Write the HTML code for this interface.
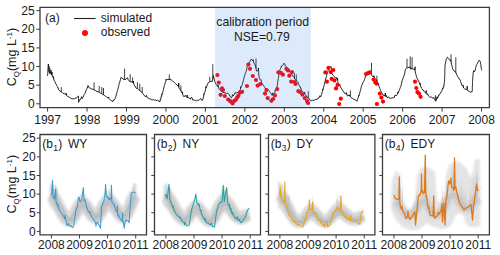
<!DOCTYPE html>
<html><head><meta charset="utf-8"><style>
html,body{margin:0;padding:0;background:#fff;width:500px;height:255px;overflow:hidden}
svg{display:block}
</style></head><body>
<svg width="500" height="255" viewBox="0 0 500 255" font-family="Liberation Sans, sans-serif" fill="#1a1a1a">
<defs><filter id="bl" filterUnits="userSpaceOnUse" x="0" y="0" width="500" height="255"><feGaussianBlur stdDeviation="1.2"/></filter></defs>

<line x1="49.20" x2="49.20" y1="66.0" y2="72.0" stroke="#000" stroke-width="0.75"/>
<line x1="50.00" x2="50.00" y1="68.0" y2="73.5" stroke="#000" stroke-width="0.75"/>
<line x1="61.30" x2="61.30" y1="87.2" y2="91.8" stroke="#000" stroke-width="0.75"/>
<line x1="94.10" x2="94.10" y1="82.4" y2="90.0" stroke="#000" stroke-width="0.75"/>
<line x1="99.20" x2="99.20" y1="86.0" y2="92.2" stroke="#000" stroke-width="0.75"/>
<line x1="101.80" x2="101.80" y1="87.0" y2="93.8" stroke="#000" stroke-width="0.75"/>
<line x1="103.50" x2="103.50" y1="88.0" y2="94.8" stroke="#000" stroke-width="0.75"/>
<line x1="124.60" x2="124.60" y1="68.6" y2="79.7" stroke="#000" stroke-width="0.75"/>
<line x1="130.20" x2="130.20" y1="74.2" y2="81.7" stroke="#000" stroke-width="0.75"/>
<line x1="132.60" x2="132.60" y1="77.4" y2="82.1" stroke="#000" stroke-width="0.75"/>
<line x1="137.40" x2="137.40" y1="82.2" y2="88.8" stroke="#000" stroke-width="0.75"/>
<line x1="139.80" x2="139.80" y1="83.8" y2="90.8" stroke="#000" stroke-width="0.75"/>
<line x1="142.20" x2="142.20" y1="87.0" y2="92.8" stroke="#000" stroke-width="0.75"/>
<line x1="169.30" x2="169.30" y1="74.4" y2="79.7" stroke="#000" stroke-width="0.75"/>
<line x1="180.90" x2="180.90" y1="85.4" y2="90.8" stroke="#000" stroke-width="0.75"/>
<line x1="209.80" x2="209.80" y1="76.8" y2="81.9" stroke="#000" stroke-width="0.75"/>
<line x1="212.80" x2="212.80" y1="64.2" y2="78.6" stroke="#000" stroke-width="0.75"/>
<line x1="256.00" x2="256.00" y1="58.4" y2="68.5" stroke="#000" stroke-width="0.75"/>
<line x1="294.40" x2="294.40" y1="72.8" y2="78.0" stroke="#000" stroke-width="0.75"/>
<line x1="296.30" x2="296.30" y1="74.4" y2="80.5" stroke="#000" stroke-width="0.75"/>
<line x1="308.30" x2="308.30" y1="91.2" y2="97.8" stroke="#000" stroke-width="0.75"/>
<line x1="350.40" x2="350.40" y1="90.4" y2="96.8" stroke="#000" stroke-width="0.75"/>
<line x1="371.50" x2="371.50" y1="62.8" y2="74.3" stroke="#000" stroke-width="0.75"/>
<line x1="376.90" x2="376.90" y1="75.6" y2="81.0" stroke="#000" stroke-width="0.75"/>
<line x1="407.00" x2="407.00" y1="58.8" y2="68.0" stroke="#000" stroke-width="0.75"/>
<line x1="410.20" x2="410.20" y1="56.4" y2="68.0" stroke="#000" stroke-width="0.75"/>
<line x1="412.10" x2="412.10" y1="57.2" y2="68.5" stroke="#000" stroke-width="0.75"/>
<line x1="435.40" x2="435.40" y1="95.2" y2="100.6" stroke="#000" stroke-width="0.75"/>
<line x1="451.00" x2="451.00" y1="54.2" y2="61.5" stroke="#000" stroke-width="0.75"/>
<line x1="455.80" x2="455.80" y1="57.2" y2="72.5" stroke="#000" stroke-width="0.75"/>
<polyline points="47.6,76.0 47.6,75.2 47.7,74.4 47.7,73.6 47.8,72.8 47.8,72.0 47.8,71.2 47.9,70.4 47.9,69.6 48.0,68.8 48.0,68.0 48.1,67.2 48.2,66.4 48.2,65.6 48.3,64.8 48.4,64.0 48.4,64.9 48.5,65.8 48.5,66.6 48.6,67.5 48.6,68.4 48.7,69.2 48.8,70.1 48.8,71.0 49.2,72.0 49.6,73.0 50.5,74.0 50.6,73.2 50.7,72.4 50.8,71.6 50.9,70.8 51.0,70.0 51.1,70.8 51.2,71.7 51.2,72.5 51.3,73.3 51.4,74.2 51.5,75.0 51.7,74.0 51.8,73.0 52.0,72.0 52.1,72.8 52.1,73.6 52.2,74.4 52.2,75.2 52.3,76.0 52.6,76.9 53.0,77.3 53.3,76.4 53.7,79.0 54.0,80.0 54.4,80.8 54.8,81.6 55.2,82.2 55.6,83.5 56.0,84.2 56.4,84.5 56.8,85.6 57.2,86.5 57.6,86.9 58.0,88.0 58.4,89.1 58.8,89.9 59.2,90.4 60.1,91.2 61.0,91.6 61.6,92.0 62.4,92.8 63.1,93.5 63.8,93.3 64.5,94.0 65.3,93.4 66.2,95.0 66.4,93.5 66.5,94.5 66.6,95.5 67.2,96.0 68.0,96.5 68.8,96.9 69.6,97.5 70.4,98.1 71.2,98.3 72.0,98.7 72.8,98.9 73.6,98.7 74.4,98.8 75.2,98.1 76.0,98.1 76.8,97.7 77.6,96.7 78.4,96.0 78.4,96.8 78.5,97.6 78.5,98.4 78.5,99.2 78.5,100.0 78.5,100.8 78.6,101.6 78.6,102.4 78.9,101.4 79.3,100.9 79.7,99.7 80.0,99.2 80.8,99.3 81.6,96.7 82.4,98.4 82.8,97.4 83.2,97.0 83.6,95.7 84.0,94.9 84.4,94.3 84.8,93.6 85.1,93.1 85.5,92.3 85.8,90.9 86.2,90.1 86.5,89.5 86.9,88.6 87.2,88.0 88.0,85.6 88.8,87.2 89.6,88.1 90.4,88.2 91.2,88.8 92.0,89.0 92.8,89.3 93.6,89.5 94.5,90.4 95.2,90.4 96.1,91.0 97.0,91.5 98.0,91.8 99.0,92.0 99.5,92.5 100.0,92.8 100.8,93.3 101.5,93.5 102.1,94.0 103.2,94.5 103.8,95.0 104.0,95.2 104.8,95.7 105.6,96.4 106.4,96.7 107.2,97.6 107.8,98.1 108.5,96.9 109.1,98.7 109.8,99.5 110.4,100.0 111.2,100.4 112.0,101.2 112.8,101.6 113.4,99.9 114.0,100.3 114.6,99.2 115.2,98.4 115.4,97.5 115.7,96.7 115.9,96.1 116.2,95.1 116.4,94.1 116.6,93.8 116.9,92.6 117.1,91.8 117.4,91.2 117.6,90.4 117.8,89.6 118.0,88.7 118.2,87.9 118.4,87.1 118.6,86.3 118.8,85.4 119.0,84.6 119.2,83.5 119.5,82.9 119.7,82.2 119.9,81.2 120.2,80.7 120.4,79.8 120.6,78.7 120.9,78.0 121.1,77.4 121.7,78.2 122.4,78.3 123.0,79.0 124.4,79.5 125.0,79.8 125.7,79.4 126.3,78.6 127.0,78.2 127.5,77.7 128.0,79.4 128.6,80.2 129.1,80.9 129.6,81.6 130.6,81.8 131.8,81.9 132.9,82.4 133.3,81.0 133.8,84.2 134.2,84.6 134.6,85.7 135.0,86.0 135.4,87.2 135.8,87.8 137.2,88.5 137.7,89.0 138.3,89.5 139.0,89.9 139.6,90.5 140.0,91.0 140.7,91.2 141.3,91.9 142.0,92.5 142.5,93.2 143.1,93.6 143.7,94.8 144.4,95.6 145.0,96.1 145.6,96.8 146.4,95.4 147.2,97.5 148.0,98.0 148.8,98.4 149.6,99.0 150.4,98.9 151.2,99.6 152.0,99.7 152.8,100.0 153.6,99.6 154.4,100.1 155.2,100.0 156.0,100.4 156.8,100.6 157.6,100.3 158.4,100.8 159.2,101.5 160.0,101.6 160.2,99.6 160.5,100.0 160.7,99.2 161.0,98.1 161.2,96.6 161.4,95.9 161.7,96.2 161.9,93.7 162.2,94.3 162.4,93.6 162.6,92.8 162.8,92.0 163.0,91.2 163.2,90.4 163.4,89.6 163.6,88.8 163.8,88.0 164.0,87.2 164.2,86.4 164.4,85.6 164.6,84.8 164.8,84.0 165.1,83.3 165.4,82.3 165.8,81.5 166.1,79.2 166.4,80.0 167.2,79.5 168.0,79.2 169.1,79.5 169.6,79.8 170.4,78.9 171.2,80.0 171.8,80.6 172.5,80.9 173.1,81.5 173.8,81.8 174.4,82.4 175.0,83.2 175.7,83.8 176.3,84.1 177.0,85.1 177.6,85.6 178.1,84.9 178.5,87.0 178.5,86.2 178.6,85.4 178.6,84.6 178.7,83.8 178.7,83.0 178.8,83.8 178.8,84.7 178.8,85.5 178.9,86.3 178.9,87.2 179.0,88.0 179.6,88.9 180.1,89.2 180.7,90.0 181.2,91.5 181.6,92.5 182.0,93.0 182.4,91.8 182.8,94.8 183.2,95.4 183.6,96.1 184.0,96.8 185.0,95.4 186.0,96.3 187.0,97.5 187.1,96.7 187.1,95.8 187.2,95.0 187.3,95.9 187.3,96.7 187.4,97.6 188.2,97.7 188.9,97.5 189.7,98.6 190.4,99.2 191.2,97.4 192.0,97.6 192.8,100.0 193.6,100.0 194.4,100.3 195.2,100.1 196.0,100.6 196.8,100.8 197.7,100.1 198.7,100.3 199.6,99.6 200.6,98.5 201.6,100.2 202.6,100.2 202.8,99.2 203.1,98.6 203.3,97.7 203.5,96.8 203.7,96.0 203.9,93.7 204.2,94.4 204.4,93.6 204.7,92.5 204.9,92.1 205.2,91.0 205.4,90.3 205.7,89.1 205.9,86.6 206.2,87.6 206.5,86.8 206.8,86.2 207.1,85.0 207.4,84.5 207.7,83.4 208.0,82.8 208.8,82.7 209.5,82.0 210.2,81.7 211.0,81.0 212.2,81.6 212.4,80.7 212.5,79.9 212.7,79.0 212.9,78.2 213.1,77.3 213.2,76.5 213.4,75.6 213.6,76.5 213.8,77.4 214.0,78.3 214.2,79.2 214.4,80.1 214.6,81.0 214.9,81.6 215.2,82.2 215.5,83.2 215.8,84.0 216.4,84.7 217.0,85.8 217.6,86.4 218.1,84.9 218.6,87.9 219.0,88.8 219.5,89.3 220.0,90.0 220.8,90.8 221.5,91.1 222.2,92.1 223.0,92.4 224.0,92.4 225.0,93.0 226.0,93.0 226.8,93.5 227.6,93.2 228.4,93.6 228.9,94.1 229.4,95.1 229.9,96.0 230.4,96.7 230.9,97.0 231.4,97.8 232.0,96.9 232.6,94.6 233.2,96.0 233.8,95.1 234.4,94.6 235.0,92.5 235.6,93.0 236.4,92.8 237.2,92.7 238.0,92.4 238.6,91.6 239.2,90.7 239.8,90.3 240.4,89.5 240.7,86.6 241.0,87.5 241.3,86.9 241.6,86.3 241.9,85.4 242.2,84.7 242.5,83.8 242.8,82.8 243.0,82.0 243.2,81.2 243.4,80.4 243.6,79.6 243.8,78.8 244.0,78.0 244.2,77.2 244.4,76.4 244.6,75.6 244.9,74.9 245.2,73.7 245.5,73.1 245.8,72.5 246.1,71.4 246.4,70.8 246.6,69.9 246.7,69.0 246.9,68.2 247.0,67.3 247.2,66.4 247.6,65.7 248.0,65.1 248.4,63.7 248.8,63.2 249.3,62.1 249.8,61.8 250.2,60.8 250.7,60.0 251.2,59.2 252.0,59.8 252.8,60.8 253.2,59.7 253.6,62.3 254.0,62.9 254.3,63.7 254.7,64.2 255.1,65.1 255.5,66.0 255.7,66.8 255.8,67.7 256.0,68.5 256.2,69.3 256.3,70.2 256.5,71.0 257.4,70.9 258.2,71.0 258.3,70.0 258.3,69.0 258.4,68.0 258.4,68.9 258.5,69.7 258.5,70.6 258.6,71.4 258.6,72.3 258.7,73.1 258.7,74.0 258.8,74.9 258.9,75.8 259.1,76.7 259.2,77.6 259.6,78.3 260.0,79.4 260.4,80.2 260.8,79.6 261.2,80.6 261.6,82.6 262.0,83.0 262.4,84.0 262.9,84.9 263.3,85.5 263.8,85.8 264.2,86.5 264.7,87.5 265.1,87.9 265.6,88.8 266.6,88.6 267.7,89.1 268.2,90.1 268.8,90.5 269.3,91.3 269.9,92.3 270.4,92.7 270.8,93.2 271.3,94.0 271.8,94.9 272.2,95.4 272.8,92.9 273.4,94.2 274.0,93.6 274.5,92.8 274.9,92.0 275.4,89.7 275.9,90.4 276.3,89.9 276.8,88.8 276.9,88.0 277.0,87.2 277.1,86.4 277.3,85.6 277.4,84.8 277.5,84.0 277.6,83.2 277.7,82.4 277.8,81.6 277.9,80.8 278.1,80.0 278.2,79.2 278.3,78.4 278.4,77.6 278.6,76.8 278.7,76.0 278.9,75.2 279.0,74.4 279.2,73.6 279.4,72.8 279.5,72.0 279.7,71.2 279.8,70.4 280.0,69.6 280.5,68.5 281.0,68.1 281.4,65.9 281.9,66.1 282.4,65.6 282.9,65.1 283.5,64.3 284.0,63.2 284.5,63.7 285.0,64.9 285.4,65.8 285.9,66.3 286.4,67.2 286.9,68.2 287.5,68.5 288.0,69.2 288.5,69.0 289.1,69.5 289.6,71.2 290.1,71.9 290.5,72.6 291.0,73.4 291.4,73.9 291.9,74.6 292.3,75.6 292.8,76.0 293.5,76.4 294.2,77.0 294.4,78.0 294.6,79.0 295.4,79.5 296.1,80.0 296.5,81.0 297.1,81.5 297.6,82.4 298.0,82.1 298.4,83.8 298.8,84.6 299.2,85.4 299.6,86.2 300.0,87.2 300.4,87.0 300.8,88.8 301.2,88.8 301.6,90.4 302.2,91.1 302.8,91.6 303.4,92.7 304.0,93.5 304.5,92.0 305.1,94.6 305.6,95.3 306.1,96.1 306.7,96.0 307.2,97.6 308.6,98.0 309.1,98.8 309.6,100.0 310.4,100.4 311.2,100.8 312.0,100.5 312.8,100.2 313.6,100.3 314.4,100.0 315.2,99.5 316.0,99.9 316.8,99.1 317.6,99.2 318.4,97.7 319.2,97.7 320.0,95.7 320.8,96.8 321.0,95.8 321.3,95.2 321.5,94.7 321.8,93.3 322.0,92.9 322.2,91.7 322.5,91.4 322.7,89.1 323.0,89.7 323.2,88.8 323.4,88.0 323.6,87.2 323.8,86.4 324.0,85.6 324.2,84.8 324.4,84.0 324.6,83.2 324.8,82.4 325.0,81.6 325.2,80.8 325.4,80.0 325.6,79.2 325.8,78.1 326.1,77.7 326.3,76.7 326.6,75.7 326.8,74.8 327.0,74.1 327.3,73.1 327.5,72.6 327.8,71.6 328.0,70.8 328.4,69.8 328.8,68.9 329.2,68.6 329.6,67.6 330.4,66.9 331.2,66.8 331.3,67.6 331.4,68.4 331.5,69.2 331.6,70.0 331.6,70.8 331.7,71.6 331.8,72.4 331.9,73.2 332.0,74.0 332.8,75.0 333.6,75.6 334.1,76.5 334.7,76.8 335.2,77.6 335.8,78.0 336.3,77.4 336.9,79.1 337.4,80.0 337.5,79.0 337.6,78.0 337.6,78.9 337.7,79.7 337.7,80.6 337.8,81.4 337.8,82.3 337.9,83.1 337.9,84.0 338.5,84.2 339.2,85.0 339.7,84.1 340.2,86.2 340.6,87.4 341.1,87.7 341.6,88.8 342.1,89.8 342.5,90.2 343.0,91.1 343.4,91.7 343.9,92.0 344.3,92.6 344.8,93.6 345.6,93.9 346.4,92.6 347.2,95.7 348.0,96.0 349.1,94.8 350.2,96.5 350.7,97.0 351.2,97.6 352.0,98.2 352.8,98.5 353.6,99.1 354.4,99.2 355.2,100.0 356.0,100.3 356.8,101.3 357.1,100.6 357.4,99.6 357.7,99.0 358.0,98.0 358.3,97.5 358.6,95.2 358.9,95.9 359.2,95.2 359.4,94.4 359.6,93.6 359.8,92.8 360.0,92.0 360.2,91.2 360.4,90.4 360.6,89.6 360.8,88.8 361.0,88.0 361.2,87.2 361.4,86.4 361.6,85.6 362.0,84.9 362.4,83.9 362.8,83.1 363.2,82.1 363.6,81.4 364.0,80.8 364.3,80.2 364.5,79.5 364.8,78.7 365.1,77.5 365.3,77.1 365.6,76.0 366.1,75.3 366.7,74.6 367.2,74.0 368.0,73.9 368.8,73.5 369.6,72.5 370.4,72.4 371.3,73.0 371.5,73.9 371.6,74.7 371.8,75.6 372.0,75.6 372.6,76.1 373.3,77.0 373.9,75.7 374.6,78.1 375.2,78.8 375.9,79.6 376.7,80.0 376.9,81.0 377.2,82.0 377.7,82.9 378.2,84.0 378.5,83.6 378.8,85.3 379.1,86.6 379.4,87.5 379.7,88.3 380.0,88.6 380.3,89.6 380.6,90.4 381.0,91.2 381.4,92.2 381.8,92.8 382.2,93.8 382.6,94.2 383.0,95.2 384.0,95.3 385.0,96.0 385.1,95.0 385.2,94.0 385.3,93.0 385.4,93.9 385.5,94.8 385.5,95.6 385.6,96.5 386.3,95.5 387.0,97.6 387.8,97.5 388.6,96.8 389.4,98.1 390.2,98.4 391.0,98.4 391.8,97.9 392.6,97.7 393.4,97.7 394.2,97.6 394.8,95.4 395.5,95.1 396.1,95.9 396.8,94.9 397.4,94.4 397.8,92.2 398.1,92.9 398.5,92.2 398.8,90.9 399.2,90.6 399.5,89.8 399.9,88.6 400.2,87.7 400.6,87.2 400.8,86.4 401.0,85.5 401.2,84.7 401.4,83.8 401.6,83.0 401.8,82.1 402.0,81.2 402.2,80.4 402.5,79.9 402.8,78.8 403.1,78.3 403.4,77.3 403.7,76.4 404.0,75.4 404.3,75.1 404.6,74.0 404.7,73.2 404.9,72.4 405.0,71.6 405.1,70.8 405.3,70.0 405.4,69.2 406.1,68.5 406.8,68.0 407.3,68.0 407.8,67.6 408.9,67.3 410.0,67.0 410.2,68.0 410.5,69.0 411.0,69.2 411.8,68.0 412.4,69.0 413.4,69.2 414.1,69.6 414.8,70.0 414.9,69.2 414.9,68.4 414.9,67.6 415.0,66.8 415.1,67.7 415.1,68.5 415.1,69.4 415.2,70.3 415.2,71.1 415.3,72.0 415.5,72.9 415.7,73.7 416.0,74.6 416.2,75.5 416.4,76.3 416.6,77.2 417.0,77.8 417.4,78.8 417.8,79.8 418.2,80.7 418.6,80.9 419.0,82.0 419.3,82.8 419.6,83.3 419.9,84.5 420.2,83.3 420.5,85.8 420.8,86.8 421.1,87.0 421.4,88.0 422.0,88.5 422.5,89.6 423.1,89.9 423.7,91.1 424.3,91.4 424.8,91.9 425.4,92.8 426.0,93.0 426.1,92.2 426.1,91.3 426.2,90.5 426.3,91.5 426.3,92.5 426.4,93.5 427.0,94.5 427.6,93.7 428.2,95.2 428.8,96.3 429.4,96.8 430.4,97.2 431.4,97.0 432.4,97.6 433.1,98.5 433.8,97.6 434.5,99.2 435.2,100.0 435.6,101.2 436.1,100.1 436.5,99.9 437.0,96.7 437.5,98.3 437.9,97.3 438.4,96.4 438.8,94.8 439.3,94.8 439.7,94.6 440.1,93.3 440.5,93.0 441.0,92.0 441.4,91.6 441.8,91.1 442.2,89.7 442.6,88.2 443.0,88.7 443.4,86.5 443.8,86.8 443.9,86.0 444.0,85.1 444.1,84.2 444.2,83.4 444.3,82.5 444.4,81.7 444.5,80.8 444.6,80.0 444.6,79.2 444.6,78.4 444.7,77.6 444.7,76.8 444.7,76.0 444.7,75.2 444.8,74.4 444.8,73.6 444.8,72.8 444.8,72.0 444.8,71.2 444.9,70.4 444.9,69.6 444.9,68.8 444.9,68.0 445.0,67.2 445.0,66.4 445.0,65.6 445.1,64.8 445.3,63.9 445.4,63.1 445.6,62.3 445.8,61.5 445.9,60.6 446.1,59.8 446.2,59.0 446.8,58.4 447.4,57.2 448.0,57.6 448.6,58.4 449.2,59.6 449.8,60.2 450.8,60.0 451.0,61.0 451.1,62.0 451.3,63.0 451.6,64.4 451.8,65.2 452.0,66.0 452.2,66.8 452.4,67.6 452.6,68.4 452.8,69.2 453.4,70.2 454.0,71.0 454.8,71.2 455.6,72.0 456.0,73.0 456.4,74.0 456.8,74.9 457.1,75.5 457.5,76.2 457.8,76.9 458.2,77.6 458.8,78.0 459.4,79.1 460.0,79.4 460.3,80.2 460.6,81.4 460.9,82.5 461.2,83.0 461.5,83.8 461.8,85.0 462.2,85.7 462.7,86.2 463.2,85.2 463.6,88.0 464.5,88.9 465.4,89.2 466.2,89.4 467.0,89.5 467.1,88.7 467.1,87.8 467.1,87.0 467.2,86.2 467.2,87.1 467.3,87.9 467.3,88.8 467.4,89.6 467.4,90.5 468.4,91.0 469.2,91.1 470.0,91.8 470.8,92.2 472.2,91.6 472.2,90.8 472.3,89.9 472.3,89.1 472.3,88.3 472.3,87.5 472.4,86.6 472.4,85.8 472.4,85.0 472.5,84.1 472.5,83.3 472.5,82.5 472.5,81.7 472.6,80.8 472.6,80.0 472.7,79.2 472.7,78.4 472.8,77.6 472.9,76.8 472.9,76.0 473.0,75.2 473.1,74.4 473.1,73.6 473.2,72.8 473.8,70.6 474.4,71.6 475.0,71.0 475.2,70.1 475.4,69.2 475.6,68.3 475.8,67.4 476.0,66.5 476.2,65.6 476.6,64.8 476.9,64.2 477.3,63.7 477.6,63.0 478.0,62.0 478.6,61.4 479.2,60.2 479.8,60.8 480.4,62.0 480.5,62.8 480.6,63.7 480.8,64.5 480.9,65.4 481.0,66.2 481.1,67.0 481.2,67.9 481.4,68.7 481.5,69.6 481.6,70.4" fill="none" stroke="#000" stroke-width="0.9" stroke-linejoin="round"/>
<circle cx="217.4" cy="75" r="2.1" fill="#ff0000"/>
<circle cx="218.8" cy="82.6" r="2.1" fill="#ff0000"/>
<circle cx="222" cy="88.4" r="2.1" fill="#ff0000"/>
<circle cx="223" cy="90" r="2.1" fill="#ff0000"/>
<circle cx="220.6" cy="94.8" r="2.1" fill="#ff0000"/>
<circle cx="224.8" cy="96" r="2.1" fill="#ff0000"/>
<circle cx="228.2" cy="99.5" r="2.1" fill="#ff0000"/>
<circle cx="229.8" cy="100.8" r="2.1" fill="#ff0000"/>
<circle cx="231.4" cy="101.8" r="2.1" fill="#ff0000"/>
<circle cx="232.6" cy="103.5" r="2.1" fill="#ff0000"/>
<circle cx="234.4" cy="100.8" r="2.1" fill="#ff0000"/>
<circle cx="235.8" cy="99.8" r="2.1" fill="#ff0000"/>
<circle cx="237.1" cy="97.6" r="2.1" fill="#ff0000"/>
<circle cx="238.4" cy="95.8" r="2.1" fill="#ff0000"/>
<circle cx="239.8" cy="92.6" r="2.1" fill="#ff0000"/>
<circle cx="242.1" cy="91.8" r="2.1" fill="#ff0000"/>
<circle cx="247" cy="86" r="2.1" fill="#ff0000"/>
<circle cx="248.4" cy="64.6" r="2.1" fill="#ff0000"/>
<circle cx="250" cy="68.8" r="2.1" fill="#ff0000"/>
<circle cx="252.8" cy="76" r="2.1" fill="#ff0000"/>
<circle cx="256" cy="80" r="2.1" fill="#ff0000"/>
<circle cx="257.6" cy="85.6" r="2.1" fill="#ff0000"/>
<circle cx="260.3" cy="84" r="2.1" fill="#ff0000"/>
<circle cx="266.4" cy="90.1" r="2.1" fill="#ff0000"/>
<circle cx="265" cy="93.6" r="2.1" fill="#ff0000"/>
<circle cx="267.7" cy="98.1" r="2.1" fill="#ff0000"/>
<circle cx="271.3" cy="100.8" r="2.1" fill="#ff0000"/>
<circle cx="273.1" cy="99" r="2.1" fill="#ff0000"/>
<circle cx="274.9" cy="95.4" r="2.1" fill="#ff0000"/>
<circle cx="277.2" cy="89.1" r="2.1" fill="#ff0000"/>
<circle cx="278.4" cy="72.3" r="2.1" fill="#ff0000"/>
<circle cx="280.8" cy="72.8" r="2.1" fill="#ff0000"/>
<circle cx="282.9" cy="74.7" r="2.1" fill="#ff0000"/>
<circle cx="286.4" cy="68.8" r="2.1" fill="#ff0000"/>
<circle cx="288" cy="70.4" r="2.1" fill="#ff0000"/>
<circle cx="292" cy="72" r="2.1" fill="#ff0000"/>
<circle cx="289.3" cy="75.7" r="2.1" fill="#ff0000"/>
<circle cx="291.2" cy="81.6" r="2.1" fill="#ff0000"/>
<circle cx="294.4" cy="82.1" r="2.1" fill="#ff0000"/>
<circle cx="295.5" cy="84" r="2.1" fill="#ff0000"/>
<circle cx="298.4" cy="91.2" r="2.1" fill="#ff0000"/>
<circle cx="300" cy="92" r="2.1" fill="#ff0000"/>
<circle cx="302.4" cy="94.6" r="2.1" fill="#ff0000"/>
<circle cx="304.8" cy="98" r="2.1" fill="#ff0000"/>
<circle cx="307" cy="101" r="2.1" fill="#ff0000"/>
<circle cx="308" cy="103" r="2.1" fill="#ff0000"/>
<circle cx="328.5" cy="67.9" r="2.1" fill="#ff0000"/>
<circle cx="325.3" cy="72.4" r="2.1" fill="#ff0000"/>
<circle cx="330.7" cy="72.1" r="2.1" fill="#ff0000"/>
<circle cx="333.3" cy="70" r="2.1" fill="#ff0000"/>
<circle cx="326.9" cy="81.7" r="2.1" fill="#ff0000"/>
<circle cx="331.7" cy="78.8" r="2.1" fill="#ff0000"/>
<circle cx="334.4" cy="80.4" r="2.1" fill="#ff0000"/>
<circle cx="337.6" cy="84.9" r="2.1" fill="#ff0000"/>
<circle cx="336" cy="88.4" r="2.1" fill="#ff0000"/>
<circle cx="340.8" cy="98.7" r="2.1" fill="#ff0000"/>
<circle cx="339.2" cy="104" r="2.1" fill="#ff0000"/>
<circle cx="366.1" cy="74" r="2.1" fill="#ff0000"/>
<circle cx="368" cy="73.2" r="2.1" fill="#ff0000"/>
<circle cx="369.9" cy="72.4" r="2.1" fill="#ff0000"/>
<circle cx="373.6" cy="79.6" r="2.1" fill="#ff0000"/>
<circle cx="375.4" cy="82.4" r="2.1" fill="#ff0000"/>
<circle cx="376.5" cy="83.6" r="2.1" fill="#ff0000"/>
<circle cx="379.8" cy="93.6" r="2.1" fill="#ff0000"/>
<circle cx="381.4" cy="97.6" r="2.1" fill="#ff0000"/>
<circle cx="383" cy="101.6" r="2.1" fill="#ff0000"/>
<circle cx="376.9" cy="104" r="2.1" fill="#ff0000"/>
<circle cx="415" cy="81.7" r="2.1" fill="#ff0000"/>
<circle cx="416.3" cy="88" r="2.1" fill="#ff0000"/>
<circle cx="417.4" cy="92" r="2.1" fill="#ff0000"/>
<circle cx="419" cy="93.6" r="2.1" fill="#ff0000"/>
<circle cx="420.6" cy="96.8" r="2.1" fill="#ff0000"/>
<rect x="214.9" y="7.9" width="95.9" height="99.1" fill="#4189ea" fill-opacity="0.18"/>
<polygon points="51.0,185.0 52.0,186.0 53.0,187.3 54.0,188.9 55.0,190.7 56.0,192.7 57.0,194.8 58.0,197.1 59.0,199.4 60.0,201.8 61.0,204.1 62.0,206.3 63.0,208.5 64.0,210.5 65.0,212.2 66.0,213.8 67.0,215.0 68.0,215.8 69.0,216.2 70.0,216.0 71.0,215.4 72.0,214.1 73.0,212.4 74.0,210.3 75.0,207.9 76.0,205.4 77.0,202.9 78.0,200.5 79.0,198.5 80.0,196.9 81.0,195.9 82.0,195.4 83.0,195.4 84.0,196.0 85.0,197.0 86.0,198.4 87.0,200.1 88.0,202.0 89.0,203.9 90.0,205.8 91.0,207.7 92.0,209.3 93.0,210.7 94.0,211.7 95.0,212.2 96.0,212.3 97.0,211.8 98.0,210.7 99.0,209.2 100.0,207.2 101.0,204.9 102.0,202.4 103.0,199.9 104.0,197.5 105.0,195.5 106.0,193.9 107.0,192.8 108.0,192.2 109.0,192.1 110.0,192.5 111.0,193.4 112.0,194.6 113.0,196.2 114.0,197.9 115.0,199.9 116.0,201.9 117.0,204.0 118.0,205.9 119.0,207.6 120.0,209.2 121.0,210.3 122.0,211.1 123.0,211.4 124.0,211.2 125.0,210.3 126.0,208.9 127.0,207.0 128.0,204.5 129.0,201.6 130.0,198.5 131.0,195.3 132.0,192.2 133.0,189.3 134.0,186.8 135.0,184.7 135.0,205.1 134.0,206.4 133.0,208.0 132.0,209.7 131.0,211.6 130.0,213.6 129.0,215.5 128.0,217.3 127.0,218.8 126.0,220.0 125.0,220.9 124.0,221.4 123.0,221.6 122.0,221.4 121.0,220.9 120.0,220.2 119.0,219.2 118.0,218.2 117.0,217.0 116.0,215.7 115.0,214.5 114.0,213.3 113.0,212.2 112.0,211.2 111.0,210.5 110.0,209.9 109.0,209.7 108.0,209.7 107.0,210.1 106.0,210.8 105.0,211.8 104.0,213.0 103.0,214.5 102.0,216.0 101.0,217.5 100.0,219.0 99.0,220.2 98.0,221.2 97.0,221.8 96.0,222.1 95.0,222.1 94.0,221.7 93.0,221.1 92.0,220.3 91.0,219.3 90.0,218.1 89.0,216.9 88.0,215.7 87.0,214.6 86.0,213.6 85.0,212.7 84.0,212.1 83.0,211.7 82.0,211.7 81.0,212.0 80.0,212.6 79.0,213.6 78.0,214.9 77.0,216.3 76.0,217.8 75.0,219.4 74.0,220.9 73.0,222.2 72.0,223.2 71.0,224.0 70.0,224.4 69.0,224.5 68.0,224.3 67.0,223.8 66.0,223.0 65.0,222.1 64.0,221.0 63.0,219.8 62.0,218.4 61.0,217.1 60.0,215.6 59.0,214.2 58.0,212.8 57.0,211.4 56.0,210.0 55.0,208.8 54.0,207.7 53.0,206.7 52.0,205.9 51.0,205.3" fill="#e2e2e2" stroke="#e2e2e2" stroke-width="3" stroke-linejoin="round" filter="url(#bl)"/>
<polyline points="51.0,195.5 52.0,196.3 53.0,197.4 54.0,198.6 55.0,200.0 56.0,201.6 57.0,203.4 58.0,205.2 59.0,207.1 60.0,208.9 61.0,210.8 62.0,212.6 63.0,214.3 64.0,215.9 65.0,217.3 66.0,218.5 67.0,219.5 68.0,220.1 69.0,220.4 70.0,220.3 71.0,219.8 72.0,218.8 73.0,217.4 74.0,215.8 75.0,213.8 76.0,211.8 77.0,209.8 78.0,207.9 79.0,206.3 80.0,205.0 81.0,204.2 82.0,203.8 83.0,203.8 84.0,204.3 85.0,205.1 86.0,206.2 87.0,207.6 88.0,209.1 89.0,210.6 90.0,212.2 91.0,213.6 92.0,215.0 93.0,216.1 94.0,216.8 95.0,217.3 96.0,217.3 97.0,216.9 98.0,216.1 99.0,214.8 100.0,213.2 101.0,211.4 102.0,209.4 103.0,207.4 104.0,205.5 105.0,203.9 106.0,202.6 107.0,201.7 108.0,201.3 109.0,201.2 110.0,201.5 111.0,202.2 112.0,203.2 113.0,204.4 114.0,205.9 115.0,207.4 116.0,209.1 117.0,210.7 118.0,212.2 119.0,213.6 120.0,214.8 121.0,215.8 122.0,216.4 123.0,216.6 124.0,216.4 125.0,215.8 126.0,214.7 127.0,213.1 128.0,211.1 129.0,208.8 130.0,206.3 131.0,203.7 132.0,201.2 133.0,199.0 134.0,196.9 135.0,195.3" fill="none" stroke="#dadada" stroke-width="13" stroke-linejoin="round" stroke-linecap="butt" filter="url(#bl)"/>
<polyline points="51.0,195.5 52.0,196.3 53.0,197.4 54.0,198.6 55.0,200.0 56.0,201.6 57.0,203.4 58.0,205.2 59.0,207.1 60.0,208.9 61.0,210.8 62.0,212.6 63.0,214.3 64.0,215.9 65.0,217.3 66.0,218.5 67.0,219.5 68.0,220.1 69.0,220.4 70.0,220.3 71.0,219.8 72.0,218.8 73.0,217.4 74.0,215.8 75.0,213.8 76.0,211.8 77.0,209.8 78.0,207.9 79.0,206.3 80.0,205.0 81.0,204.2 82.0,203.8 83.0,203.8 84.0,204.3 85.0,205.1 86.0,206.2 87.0,207.6 88.0,209.1 89.0,210.6 90.0,212.2 91.0,213.6 92.0,215.0 93.0,216.1 94.0,216.8 95.0,217.3 96.0,217.3 97.0,216.9 98.0,216.1 99.0,214.8 100.0,213.2 101.0,211.4 102.0,209.4 103.0,207.4 104.0,205.5 105.0,203.9 106.0,202.6 107.0,201.7 108.0,201.3 109.0,201.2 110.0,201.5 111.0,202.2 112.0,203.2 113.0,204.4 114.0,205.9 115.0,207.4 116.0,209.1 117.0,210.7 118.0,212.2 119.0,213.6 120.0,214.8 121.0,215.8 122.0,216.4 123.0,216.6 124.0,216.4 125.0,215.8 126.0,214.7 127.0,213.1 128.0,211.1 129.0,208.8 130.0,206.3 131.0,203.7 132.0,201.2 133.0,199.0 134.0,196.9 135.0,195.3" fill="none" stroke="#c9c9c9" stroke-width="6" stroke-linejoin="round" stroke-linecap="butt" filter="url(#bl)"/>
<polyline points="48.6,198.0 49.6,198.8 50.6,199.8 51.6,201.0 52.6,202.4 53.6,204.0 54.6,205.6 55.6,207.4 56.6,209.2 57.6,211.0 58.6,212.8 59.6,214.5 60.6,216.2 61.6,217.7 62.6,219.1 63.6,220.3 64.6,221.2 65.6,221.8 66.6,222.1 67.6,222.0 68.6,221.5 69.6,220.6 70.6,219.2 71.6,217.6 72.6,215.7 73.6,213.8 74.6,211.8 75.6,210.0 76.6,208.5 77.6,207.3 78.6,206.4 79.6,206.0 80.6,206.1 81.6,206.5 82.6,207.3 83.6,208.4 84.6,209.7 85.6,211.1 86.6,212.6 87.6,214.1 88.6,215.6 89.6,216.8 90.6,217.9 91.6,218.7 92.6,219.1 93.6,219.1 94.6,218.7 95.6,217.9 96.6,216.7 97.6,215.2 98.6,213.4 99.6,211.5 100.6,209.5 101.6,207.7 102.6,206.2 103.6,204.9 104.6,204.1 105.6,203.6 106.6,203.5 107.6,203.8 108.6,204.5 109.6,205.5 110.6,206.7 111.6,208.0 112.6,209.5 113.6,211.1 114.6,212.7 115.6,214.2 116.6,215.5 117.6,216.7 118.6,217.6 119.6,218.2 120.6,218.4 121.6,218.3 122.6,217.6 123.6,216.5 124.6,215.0 125.6,213.1 126.6,210.9 127.6,208.5 128.6,206.0 129.6,203.6 130.6,201.4 131.6,199.4 132.6,197.8" fill="none" stroke="#a8a8a8" stroke-opacity="0.13" stroke-width="0.8" stroke-linejoin="round"/>
<polyline points="52.8,192.7 53.8,193.6 54.8,194.7 55.8,196.1 56.8,197.6 57.8,199.4 58.8,201.3 59.8,203.2 60.8,205.3 61.8,207.3 62.8,209.3 63.8,211.2 64.8,213.1 65.8,214.8 66.8,216.4 67.8,217.7 68.8,218.8 69.8,219.5 70.8,219.8 71.8,219.7 72.8,219.1 73.8,218.0 74.8,216.5 75.8,214.7 76.8,212.6 77.8,210.4 78.8,208.2 79.8,206.2 80.8,204.4 81.8,203.1 82.8,202.1 83.8,201.7 84.8,201.8 85.8,202.2 86.8,203.1 87.8,204.3 88.8,205.8 89.8,207.4 90.8,209.1 91.8,210.8 92.8,212.4 93.8,213.8 94.8,215.0 95.8,215.9 96.8,216.4 97.8,216.4 98.8,216.0 99.8,215.1 100.8,213.7 101.8,212.0 102.8,210.0 103.8,207.8 104.8,205.6 105.8,203.6 106.8,201.8 107.8,200.5 108.8,199.5 109.8,199.0 110.8,198.9 111.8,199.2 112.8,200.0 113.8,201.1 114.8,202.4 115.8,204.0 116.8,205.6 117.8,207.4 118.8,209.2 119.8,210.9 120.8,212.4 121.8,213.7 122.8,214.7 123.8,215.4 124.8,215.6 125.8,215.4 126.8,214.7 127.8,213.5 128.8,211.8 129.8,209.6 130.8,207.1 131.8,204.4 132.8,201.6 133.8,199.0 134.8,196.5 135.8,194.3 136.8,192.4" fill="none" stroke="#a8a8a8" stroke-opacity="0.13" stroke-width="0.8" stroke-linejoin="round"/>
<polyline points="53.5,194.7 54.5,195.6 55.5,196.6 56.5,197.9 57.5,199.3 58.5,200.9 59.5,202.6 60.5,204.4 61.5,206.3 62.5,208.2 63.5,210.0 64.5,211.8 65.5,213.5 66.5,215.1 67.5,216.5 68.5,217.8 69.5,218.7 70.5,219.4 71.5,219.7 72.5,219.6 73.5,219.0 74.5,218.1 75.5,216.7 76.5,215.0 77.5,213.1 78.5,211.0 79.5,209.0 80.5,207.2 81.5,205.5 82.5,204.3 83.5,203.4 84.5,203.0 85.5,203.1 86.5,203.5 87.5,204.3 88.5,205.5 89.5,206.8 90.5,208.3 91.5,209.9 92.5,211.4 93.5,212.9 94.5,214.2 95.5,215.3 96.5,216.1 97.5,216.5 98.5,216.6 99.5,216.2 100.5,215.3 101.5,214.1 102.5,212.5 103.5,210.6 104.5,208.6 105.5,206.6 106.5,204.8 107.5,203.2 108.5,201.9 109.5,201.0 110.5,200.5 111.5,200.4 112.5,200.8 113.5,201.4 114.5,202.4 115.5,203.7 116.5,205.1 117.5,206.7 118.5,208.3 119.5,209.9 120.5,211.5 121.5,212.9 122.5,214.1 123.5,215.0 124.5,215.6 125.5,215.9 126.5,215.7 127.5,215.0 128.5,213.9 129.5,212.3 130.5,210.3 131.5,208.0 132.5,205.5 133.5,203.0 134.5,200.5 135.5,198.2 136.5,196.2 137.5,194.5" fill="none" stroke="#a8a8a8" stroke-opacity="0.13" stroke-width="0.8" stroke-linejoin="round"/>
<polyline points="50.9,204.8 51.9,205.5 52.9,206.3 53.9,207.3 54.9,208.5 55.9,209.7 56.9,211.1 57.9,212.5 58.9,214.0 59.9,215.5 60.9,216.9 61.9,218.3 62.9,219.7 63.9,220.9 64.9,222.1 65.9,223.0 66.9,223.8 67.9,224.3 68.9,224.6 69.9,224.5 70.9,224.0 71.9,223.3 72.9,222.2 73.9,220.9 74.9,219.3 75.9,217.7 76.9,216.1 77.9,214.7 78.9,213.4 79.9,212.4 80.9,211.7 81.9,211.4 82.9,211.4 83.9,211.8 84.9,212.4 85.9,213.3 86.9,214.4 87.9,215.6 88.9,216.8 89.9,218.0 90.9,219.2 91.9,220.2 92.9,221.1 93.9,221.7 94.9,222.1 95.9,222.1 96.9,221.8 97.9,221.1 98.9,220.1 99.9,218.9 100.9,217.4 101.9,215.8 102.9,214.3 103.9,212.8 104.9,211.5 105.9,210.5 106.9,209.8 107.9,209.4 108.9,209.4 109.9,209.6 110.9,210.2 111.9,210.9 112.9,211.9 113.9,213.0 114.9,214.3 115.9,215.6 116.9,216.8 117.9,218.1 118.9,219.2 119.9,220.1 120.9,220.9 121.9,221.4 122.9,221.5 123.9,221.4 124.9,220.9 125.9,220.0 126.9,218.7 127.9,217.2 128.9,215.4 129.9,213.4 130.9,211.4 131.9,209.4 132.9,207.6 133.9,206.0 134.9,204.7" fill="none" stroke="#a8a8a8" stroke-opacity="0.13" stroke-width="0.8" stroke-linejoin="round"/>
<polyline points="54.6,198.5 55.6,199.3 56.6,200.2 57.6,201.4 58.6,202.7 59.6,204.1 60.6,205.7 61.6,207.4 62.6,209.1 63.6,210.8 64.6,212.5 65.6,214.1 66.6,215.7 67.6,217.1 68.6,218.4 69.6,219.6 70.6,220.4 71.6,221.0 72.6,221.3 73.6,221.2 74.6,220.7 75.6,219.8 76.6,218.6 77.6,217.0 78.6,215.3 79.6,213.4 80.6,211.6 81.6,209.9 82.6,208.4 83.6,207.2 84.6,206.5 85.6,206.1 86.6,206.1 87.6,206.5 88.6,207.3 89.6,208.3 90.6,209.5 91.6,210.9 92.6,212.3 93.6,213.8 94.6,215.1 95.6,216.3 96.6,217.3 97.6,218.0 98.6,218.4 99.6,218.5 100.6,218.1 101.6,217.3 102.6,216.2 103.6,214.7 104.6,213.0 105.6,211.2 106.6,209.4 107.6,207.7 108.6,206.2 109.6,205.0 110.6,204.2 111.6,203.8 112.6,203.7 113.6,204.0 114.6,204.6 115.6,205.5 116.6,206.7 117.6,208.0 118.6,209.4 119.6,210.9 120.6,212.4 121.6,213.8 122.6,215.1 123.6,216.2 124.6,217.0 125.6,217.6 126.6,217.8 127.6,217.6 128.6,217.1 129.6,216.0 130.6,214.6 131.6,212.8 132.6,210.7 133.6,208.4 134.6,206.0 135.6,203.8 136.6,201.7 137.6,199.8 138.6,198.3" fill="none" stroke="#a8a8a8" stroke-opacity="0.13" stroke-width="0.8" stroke-linejoin="round"/>
<polyline points="53.3,200.1 54.3,200.9 55.3,201.8 56.3,202.8 57.3,204.1 58.3,205.4 59.3,206.9 60.3,208.5 61.3,210.1 62.3,211.7 63.3,213.3 64.3,214.8 65.3,216.3 66.3,217.6 67.3,218.9 68.3,219.9 69.3,220.7 70.3,221.3 71.3,221.6 72.3,221.5 73.3,221.0 74.3,220.2 75.3,219.0 76.3,217.5 77.3,215.9 78.3,214.1 79.3,212.4 80.3,210.8 81.3,209.4 82.3,208.4 83.3,207.6 84.3,207.3 85.3,207.3 86.3,207.7 87.3,208.4 88.3,209.4 89.3,210.5 90.3,211.8 91.3,213.1 92.3,214.5 93.3,215.7 94.3,216.9 95.3,217.8 96.3,218.5 97.3,218.8 98.3,218.9 99.3,218.5 100.3,217.8 101.3,216.8 102.3,215.4 103.3,213.8 104.3,212.1 105.3,210.4 106.3,208.8 107.3,207.4 108.3,206.3 109.3,205.5 110.3,205.1 111.3,205.0 112.3,205.3 113.3,205.9 114.3,206.8 115.3,207.8 116.3,209.0 117.3,210.4 118.3,211.8 119.3,213.2 120.3,214.5 121.3,215.7 122.3,216.7 123.3,217.5 124.3,218.1 125.3,218.3 126.3,218.1 127.3,217.6 128.3,216.6 129.3,215.2 130.3,213.5 131.3,211.6 132.3,209.4 133.3,207.2 134.3,205.1 135.3,203.1 136.3,201.4 137.3,200.0" fill="none" stroke="#a8a8a8" stroke-opacity="0.13" stroke-width="0.8" stroke-linejoin="round"/>
<polyline points="48.9,199.2 49.9,200.0 50.9,201.0 51.9,202.1 52.9,203.5 53.9,204.9 54.9,206.5 55.9,208.2 56.9,209.9 57.9,211.6 58.9,213.3 59.9,215.0 60.9,216.5 61.9,218.0 62.9,219.3 63.9,220.4 64.9,221.3 65.9,221.9 66.9,222.2 67.9,222.1 68.9,221.6 69.9,220.7 70.9,219.5 71.9,217.9 72.9,216.1 73.9,214.3 74.9,212.4 75.9,210.7 76.9,209.2 77.9,208.1 78.9,207.3 79.9,206.9 80.9,206.9 81.9,207.4 82.9,208.1 83.9,209.1 84.9,210.4 85.9,211.7 86.9,213.2 87.9,214.6 88.9,216.0 89.9,217.2 90.9,218.2 91.9,218.9 92.9,219.3 93.9,219.4 94.9,219.0 95.9,218.2 96.9,217.1 97.9,215.6 98.9,213.9 99.9,212.1 100.9,210.2 101.9,208.5 102.9,207.0 103.9,205.8 104.9,205.0 105.9,204.6 106.9,204.5 107.9,204.8 108.9,205.4 109.9,206.4 110.9,207.5 111.9,208.8 112.9,210.2 113.9,211.7 114.9,213.2 115.9,214.6 116.9,215.9 117.9,217.0 118.9,217.9 119.9,218.5 120.9,218.7 121.9,218.5 122.9,217.9 123.9,216.9 124.9,215.4 125.9,213.6 126.9,211.5 127.9,209.2 128.9,206.9 129.9,204.6 130.9,202.5 131.9,200.6 132.9,199.1" fill="none" stroke="#a8a8a8" stroke-opacity="0.13" stroke-width="0.8" stroke-linejoin="round"/>
<polyline points="54.7,202.4 55.7,203.1 56.7,204.0 57.7,205.1 58.7,206.3 59.7,207.7 60.7,209.2 61.7,210.7 62.7,212.3 63.7,213.9 64.7,215.5 65.7,217.1 66.7,218.5 67.7,219.9 68.7,221.1 69.7,222.2 70.7,223.0 71.7,223.6 72.7,223.9 73.7,223.8 74.7,223.3 75.7,222.4 76.7,221.3 77.7,219.8 78.7,218.2 79.7,216.4 80.7,214.7 81.7,213.1 82.7,211.7 83.7,210.6 84.7,209.9 85.7,209.5 86.7,209.6 87.7,209.9 88.7,210.6 89.7,211.6 90.7,212.8 91.7,214.1 92.7,215.4 93.7,216.7 94.7,218.0 95.7,219.1 96.7,220.1 97.7,220.8 98.7,221.1 99.7,221.2 100.7,220.8 101.7,220.1 102.7,219.0 103.7,217.7 104.7,216.1 105.7,214.3 106.7,212.6 107.7,211.0 108.7,209.6 109.7,208.5 110.7,207.8 111.7,207.3 112.7,207.3 113.7,207.6 114.7,208.2 115.7,209.0 116.7,210.1 117.7,211.3 118.7,212.6 119.7,214.1 120.7,215.4 121.7,216.8 122.7,218.0 123.7,219.0 124.7,219.8 125.7,220.4 126.7,220.6 127.7,220.4 128.7,219.8 129.7,218.9 130.7,217.5 131.7,215.8 132.7,213.8 133.7,211.7 134.7,209.5 135.7,207.3 136.7,205.4 137.7,203.6 138.7,202.2" fill="none" stroke="#a8a8a8" stroke-opacity="0.13" stroke-width="0.8" stroke-linejoin="round"/>
<polyline points="51.7,191.2 52.7,192.2 53.7,193.4 54.7,194.8 55.7,196.5 56.7,198.3 57.7,200.4 58.7,202.5 59.7,204.6 60.7,206.8 61.7,208.9 62.7,211.0 63.7,213.0 64.7,214.8 65.7,216.5 66.7,217.9 67.7,219.0 68.7,219.8 69.7,220.1 70.7,220.0 71.7,219.4 72.7,218.2 73.7,216.7 74.7,214.7 75.7,212.5 76.7,210.1 77.7,207.8 78.7,205.6 79.7,203.7 80.7,202.3 81.7,201.3 82.7,200.8 83.7,200.9 84.7,201.4 85.7,202.3 86.7,203.6 87.7,205.2 88.7,206.9 89.7,208.8 90.7,210.6 91.7,212.3 92.7,213.8 93.7,215.0 94.7,216.0 95.7,216.5 96.7,216.5 97.7,216.1 98.7,215.1 99.7,213.7 100.7,211.8 101.7,209.6 102.7,207.3 103.7,205.0 104.7,202.9 105.7,201.0 106.7,199.5 107.7,198.5 108.7,197.9 109.7,197.8 110.7,198.2 111.7,199.0 112.7,200.1 113.7,201.6 114.7,203.2 115.7,205.0 116.7,206.9 117.7,208.8 118.7,210.6 119.7,212.2 120.7,213.6 121.7,214.7 122.7,215.4 123.7,215.7 124.7,215.5 125.7,214.7 126.7,213.4 127.7,211.6 128.7,209.3 129.7,206.6 130.7,203.7 131.7,200.8 132.7,197.9 133.7,195.2 134.7,192.9 135.7,190.9" fill="none" stroke="#a8a8a8" stroke-opacity="0.13" stroke-width="0.8" stroke-linejoin="round"/>
<polyline points="48.7,193.0 49.7,193.9 50.7,195.0 51.7,196.3 52.7,197.9 53.7,199.5 54.7,201.3 55.7,203.2 56.7,205.2 57.7,207.2 58.7,209.1 59.7,211.0 60.7,212.8 61.7,214.5 62.7,216.0 63.7,217.2 64.7,218.3 65.7,219.0 66.7,219.3 67.7,219.1 68.7,218.6 69.7,217.5 70.7,216.1 71.7,214.3 72.7,212.3 73.7,210.2 74.7,208.1 75.7,206.1 76.7,204.4 77.7,203.1 78.7,202.2 79.7,201.8 80.7,201.8 81.7,202.3 82.7,203.2 83.7,204.3 84.7,205.7 85.7,207.3 86.7,209.0 87.7,210.6 88.7,212.1 89.7,213.5 90.7,214.7 91.7,215.5 92.7,216.0 93.7,216.0 94.7,215.6 95.7,214.7 96.7,213.4 97.7,211.7 98.7,209.8 99.7,207.7 100.7,205.6 101.7,203.6 102.7,201.9 103.7,200.6 104.7,199.6 105.7,199.1 106.7,199.1 107.7,199.4 108.7,200.1 109.7,201.2 110.7,202.5 111.7,204.0 112.7,205.6 113.7,207.3 114.7,209.0 115.7,210.6 116.7,212.1 117.7,213.4 118.7,214.3 119.7,215.0 120.7,215.2 121.7,215.1 122.7,214.4 123.7,213.2 124.7,211.5 125.7,209.4 126.7,207.0 127.7,204.4 128.7,201.7 129.7,199.1 130.7,196.7 131.7,194.6 132.7,192.8" fill="none" stroke="#a8a8a8" stroke-opacity="0.13" stroke-width="0.8" stroke-linejoin="round"/>
<polyline points="47.5,198.9 48.5,199.7 49.5,200.7 50.5,201.9 51.5,203.2 52.5,204.7 53.5,206.4 54.5,208.1 55.5,209.8 56.5,211.6 57.5,213.3 58.5,215.0 59.5,216.6 60.5,218.1 61.5,219.5 62.5,220.6 63.5,221.5 64.5,222.1 65.5,222.4 66.5,222.3 67.5,221.8 68.5,220.9 69.5,219.6 70.5,218.0 71.5,216.2 72.5,214.3 73.5,212.4 74.5,210.6 75.5,209.1 76.5,207.9 77.5,207.1 78.5,206.8 79.5,206.8 80.5,207.2 81.5,208.0 82.5,209.0 83.5,210.3 84.5,211.7 85.5,213.2 86.5,214.7 87.5,216.0 88.5,217.3 89.5,218.3 90.5,219.0 91.5,219.5 92.5,219.5 93.5,219.1 94.5,218.3 95.5,217.2 96.5,215.7 97.5,213.9 98.5,212.0 99.5,210.2 100.5,208.4 101.5,206.9 102.5,205.7 103.5,204.8 104.5,204.4 105.5,204.3 106.5,204.6 107.5,205.3 108.5,206.2 109.5,207.4 110.5,208.7 111.5,210.2 112.5,211.7 113.5,213.2 114.5,214.7 115.5,216.0 116.5,217.1 117.5,218.0 118.5,218.6 119.5,218.8 120.5,218.6 121.5,218.0 122.5,217.0 123.5,215.5 124.5,213.6 125.5,211.5 126.5,209.1 127.5,206.7 128.5,204.4 129.5,202.2 130.5,200.3 131.5,198.7" fill="none" stroke="#a8a8a8" stroke-opacity="0.13" stroke-width="0.8" stroke-linejoin="round"/>
<polyline points="51.7,202.3 52.7,203.0 53.7,203.9 54.7,205.0 55.7,206.2 56.7,207.6 57.7,209.0 58.7,210.6 59.7,212.2 60.7,213.8 61.7,215.4 62.7,216.9 63.7,218.3 64.7,219.7 65.7,220.9 66.7,222.0 67.7,222.8 68.7,223.3 69.7,223.6 70.7,223.5 71.7,223.0 72.7,222.2 73.7,221.0 74.7,219.6 75.7,218.0 76.7,216.2 77.7,214.5 78.7,212.9 79.7,211.5 80.7,210.5 81.7,209.7 82.7,209.4 83.7,209.4 84.7,209.8 85.7,210.5 86.7,211.5 87.7,212.6 88.7,213.9 89.7,215.2 90.7,216.6 91.7,217.8 92.7,218.9 93.7,219.9 94.7,220.5 95.7,220.9 96.7,220.9 97.7,220.6 98.7,219.9 99.7,218.8 100.7,217.5 101.7,215.9 102.7,214.2 103.7,212.5 104.7,210.9 105.7,209.5 106.7,208.4 107.7,207.6 108.7,207.2 109.7,207.2 110.7,207.5 111.7,208.0 112.7,208.9 113.7,209.9 114.7,211.2 115.7,212.5 116.7,213.9 117.7,215.3 118.7,216.6 119.7,217.8 120.7,218.8 121.7,219.6 122.7,220.1 123.7,220.3 124.7,220.2 125.7,219.6 126.7,218.7 127.7,217.3 128.7,215.6 129.7,213.7 130.7,211.5 131.7,209.4 132.7,207.2 133.7,205.3 134.7,203.6 135.7,202.1" fill="none" stroke="#a8a8a8" stroke-opacity="0.13" stroke-width="0.8" stroke-linejoin="round"/>
<polyline points="54.4,200.4 55.4,201.2 56.4,202.1 57.4,203.2 58.4,204.4 59.4,205.8 60.4,207.3 61.4,208.9 62.4,210.5 63.4,212.2 64.4,213.8 65.4,215.3 66.4,216.8 67.4,218.2 68.4,219.5 69.4,220.5 70.4,221.4 71.4,221.9 72.4,222.2 73.4,222.1 74.4,221.6 75.4,220.8 76.4,219.6 77.4,218.1 78.4,216.4 79.4,214.7 80.4,212.9 81.4,211.3 82.4,209.9 83.4,208.8 84.4,208.0 85.4,207.7 86.4,207.7 87.4,208.1 88.4,208.8 89.4,209.8 90.4,211.0 91.4,212.3 92.4,213.6 93.4,215.0 94.4,216.3 95.4,217.4 96.4,218.4 97.4,219.1 98.4,219.5 99.4,219.5 100.4,219.1 101.4,218.4 102.4,217.3 103.4,215.9 104.4,214.3 105.4,212.6 106.4,210.8 107.4,209.2 108.4,207.8 109.4,206.7 110.4,205.9 111.4,205.5 112.4,205.4 113.4,205.7 114.4,206.3 115.4,207.2 116.4,208.2 117.4,209.5 118.4,210.8 119.4,212.3 120.4,213.7 121.4,215.0 122.4,216.3 123.4,217.3 124.4,218.1 125.4,218.7 126.4,218.9 127.4,218.7 128.4,218.1 129.4,217.2 130.4,215.8 131.4,214.0 132.4,212.0 133.4,209.9 134.4,207.6 135.4,205.5 136.4,203.5 137.4,201.7 138.4,200.2" fill="none" stroke="#a8a8a8" stroke-opacity="0.13" stroke-width="0.8" stroke-linejoin="round"/>
<polyline points="52.3,189.1 53.3,190.1 54.3,191.3 55.3,192.7 56.3,194.4 57.3,196.3 58.3,198.3 59.3,200.4 60.3,202.5 61.3,204.7 62.3,206.8 63.3,208.9 64.3,210.9 65.3,212.7 66.3,214.4 67.3,215.8 68.3,216.9 69.3,217.7 70.3,218.1 71.3,217.9 72.3,217.3 73.3,216.2 74.3,214.6 75.3,212.6 76.3,210.4 77.3,208.0 78.3,205.7 79.3,203.5 80.3,201.7 81.3,200.2 82.3,199.2 83.3,198.7 84.3,198.8 85.3,199.3 86.3,200.3 87.3,201.6 88.3,203.1 89.3,204.9 90.3,206.7 91.3,208.5 92.3,210.2 93.3,211.7 94.3,213.0 95.3,213.9 96.3,214.4 97.3,214.4 98.3,214.0 99.3,213.0 100.3,211.6 101.3,209.7 102.3,207.6 103.3,205.2 104.3,202.9 105.3,200.8 106.3,198.9 107.3,197.4 108.3,196.4 109.3,195.8 110.3,195.7 111.3,196.1 112.3,196.9 113.3,198.0 114.3,199.5 115.3,201.1 116.3,203.0 117.3,204.8 118.3,206.7 119.3,208.5 120.3,210.1 121.3,211.5 122.3,212.6 123.3,213.3 124.3,213.6 125.3,213.4 126.3,212.6 127.3,211.3 128.3,209.5 129.3,207.2 130.3,204.5 131.3,201.6 132.3,198.7 133.3,195.8 134.3,193.1 135.3,190.8 136.3,188.8" fill="none" stroke="#a8a8a8" stroke-opacity="0.13" stroke-width="0.8" stroke-linejoin="round"/>
<polyline points="51.7,189.5 52.7,190.5 53.7,191.8 54.7,193.2 55.7,195.0 56.7,196.9 57.7,198.9 58.7,201.1 59.7,203.3 60.7,205.5 61.7,207.7 62.7,209.8 63.7,211.9 64.7,213.7 65.7,215.4 66.7,216.9 67.7,218.0 68.7,218.8 69.7,219.2 70.7,219.1 71.7,218.4 72.7,217.2 73.7,215.6 74.7,213.6 75.7,211.3 76.7,208.9 77.7,206.5 78.7,204.3 79.7,202.4 80.7,200.9 81.7,199.9 82.7,199.4 83.7,199.4 84.7,200.0 85.7,201.0 86.7,202.3 87.7,203.9 88.7,205.7 89.7,207.5 90.7,209.4 91.7,211.1 92.7,212.7 93.7,214.0 94.7,214.9 95.7,215.4 96.7,215.5 97.7,215.0 98.7,214.0 99.7,212.5 100.7,210.6 101.7,208.4 102.7,206.1 103.7,203.7 104.7,201.5 105.7,199.6 106.7,198.0 107.7,197.0 108.7,196.4 109.7,196.3 110.7,196.7 111.7,197.5 112.7,198.7 113.7,200.2 114.7,201.9 115.7,203.7 116.7,205.7 117.7,207.6 118.7,209.4 119.7,211.1 120.7,212.5 121.7,213.6 122.7,214.4 123.7,214.6 124.7,214.4 125.7,213.6 126.7,212.3 127.7,210.4 128.7,208.1 129.7,205.3 130.7,202.4 131.7,199.3 132.7,196.4 133.7,193.7 134.7,191.3 135.7,189.3" fill="none" stroke="#a8a8a8" stroke-opacity="0.13" stroke-width="0.8" stroke-linejoin="round"/>
<polyline points="52.9,192.2 53.9,193.1 54.9,194.3 55.9,195.7 56.9,197.3 57.9,199.0 58.9,201.0 59.9,203.0 60.9,205.0 61.9,207.1 62.9,209.1 63.9,211.1 64.9,213.0 65.9,214.7 66.9,216.3 67.9,217.7 68.9,218.7 69.9,219.5 70.9,219.8 71.9,219.7 72.9,219.1 73.9,218.0 74.9,216.5 75.9,214.6 76.9,212.5 77.9,210.3 78.9,208.0 79.9,206.0 80.9,204.2 81.9,202.8 82.9,201.9 83.9,201.4 84.9,201.5 85.9,202.0 86.9,202.9 87.9,204.1 88.9,205.6 89.9,207.2 90.9,209.0 91.9,210.7 92.9,212.3 93.9,213.8 94.9,215.0 95.9,215.8 96.9,216.3 97.9,216.4 98.9,215.9 99.9,215.0 100.9,213.6 101.9,211.9 102.9,209.8 103.9,207.6 104.9,205.4 105.9,203.3 106.9,201.6 107.9,200.1 108.9,199.1 109.9,198.6 110.9,198.5 111.9,198.9 112.9,199.7 113.9,200.8 114.9,202.1 115.9,203.7 116.9,205.4 117.9,207.2 118.9,209.0 119.9,210.7 120.9,212.3 121.9,213.6 122.9,214.6 123.9,215.3 124.9,215.6 125.9,215.4 126.9,214.7 127.9,213.4 128.9,211.7 129.9,209.5 130.9,206.9 131.9,204.2 132.9,201.4 133.9,198.6 134.9,196.1 135.9,193.8 136.9,192.0" fill="none" stroke="#a8a8a8" stroke-opacity="0.13" stroke-width="0.8" stroke-linejoin="round"/>
<polyline points="49.7,195.2 50.7,196.0 51.7,197.1 52.7,198.4 53.7,199.9 54.7,201.5 55.7,203.3 56.7,205.1 57.7,207.0 58.7,209.0 59.7,210.8 60.7,212.7 61.7,214.4 62.7,216.1 63.7,217.5 64.7,218.8 65.7,219.8 66.7,220.4 67.7,220.8 68.7,220.6 69.7,220.1 70.7,219.1 71.7,217.7 72.7,215.9 73.7,214.0 74.7,211.9 75.7,209.8 76.7,207.9 77.7,206.3 78.7,205.0 79.7,204.1 80.7,203.7 81.7,203.7 82.7,204.2 83.7,205.0 84.7,206.2 85.7,207.6 86.7,209.1 87.7,210.7 88.7,212.3 89.7,213.8 90.7,215.1 91.7,216.3 92.7,217.1 93.7,217.5 94.7,217.6 95.7,217.2 96.7,216.3 97.7,215.0 98.7,213.4 99.7,211.5 100.7,209.4 101.7,207.4 102.7,205.5 103.7,203.8 104.7,202.5 105.7,201.6 106.7,201.1 107.7,201.0 108.7,201.4 109.7,202.1 110.7,203.1 111.7,204.3 112.7,205.8 113.7,207.4 114.7,209.1 115.7,210.7 116.7,212.3 117.7,213.8 118.7,215.0 119.7,216.0 120.7,216.6 121.7,216.8 122.7,216.6 123.7,216.0 124.7,214.8 125.7,213.2 126.7,211.2 127.7,208.8 128.7,206.3 129.7,203.6 130.7,201.1 131.7,198.7 132.7,196.7 133.7,194.9" fill="none" stroke="#a8a8a8" stroke-opacity="0.13" stroke-width="0.8" stroke-linejoin="round"/>
<polyline points="50.1,190.5 51.1,191.5 52.1,192.7 53.1,194.1 54.1,195.8 55.1,197.6 56.1,199.6 57.1,201.6 58.1,203.7 59.1,205.9 60.1,208.0 61.1,210.0 62.1,212.0 63.1,213.8 64.1,215.4 65.1,216.8 66.1,217.9 67.1,218.7 68.1,219.0 69.1,218.9 70.1,218.2 71.1,217.1 72.1,215.6 73.1,213.7 74.1,211.5 75.1,209.1 76.1,206.9 77.1,204.7 78.1,202.9 79.1,201.5 80.1,200.5 81.1,200.0 82.1,200.1 83.1,200.6 84.1,201.5 85.1,202.8 86.1,204.3 87.1,206.0 88.1,207.8 89.1,209.6 90.1,211.3 91.1,212.8 92.1,214.0 93.1,214.9 94.1,215.4 95.1,215.5 96.1,215.0 97.1,214.0 98.1,212.6 99.1,210.8 100.1,208.7 101.1,206.4 102.1,204.1 103.1,202.0 104.1,200.2 105.1,198.7 106.1,197.7 107.1,197.1 108.1,197.1 109.1,197.4 110.1,198.2 111.1,199.3 112.1,200.8 113.1,202.4 114.1,204.2 115.1,206.0 116.1,207.9 117.1,209.6 118.1,211.2 119.1,212.6 120.1,213.7 121.1,214.4 122.1,214.6 123.1,214.4 124.1,213.7 125.1,212.4 126.1,210.6 127.1,208.3 128.1,205.7 129.1,202.9 130.1,200.0 131.1,197.1 132.1,194.5 133.1,192.2 134.1,190.3" fill="none" stroke="#a8a8a8" stroke-opacity="0.13" stroke-width="0.8" stroke-linejoin="round"/>
<polyline points="51.1,193.3 52.1,194.3 53.1,195.4 54.1,196.8 55.1,198.4 56.1,200.1 57.1,202.0 58.1,204.0 59.1,206.1 60.1,208.1 61.1,210.2 62.1,212.1 63.1,214.0 64.1,215.8 65.1,217.3 66.1,218.7 67.1,219.7 68.1,220.5 69.1,220.8 70.1,220.7 71.1,220.1 72.1,219.0 73.1,217.5 74.1,215.6 75.1,213.5 76.1,211.3 77.1,209.1 78.1,207.0 79.1,205.3 80.1,203.9 81.1,202.9 82.1,202.5 83.1,202.5 84.1,203.0 85.1,203.9 86.1,205.2 87.1,206.6 88.1,208.3 89.1,210.0 90.1,211.7 91.1,213.3 92.1,214.8 93.1,216.0 94.1,216.8 95.1,217.3 96.1,217.4 97.1,216.9 98.1,216.0 99.1,214.6 100.1,212.9 101.1,210.8 102.1,208.7 103.1,206.5 104.1,204.4 105.1,202.6 106.1,201.2 107.1,200.2 108.1,199.7 109.1,199.6 110.1,200.0 111.1,200.7 112.1,201.8 113.1,203.2 114.1,204.8 115.1,206.5 116.1,208.3 117.1,210.1 118.1,211.8 119.1,213.3 120.1,214.6 121.1,215.6 122.1,216.3 123.1,216.6 124.1,216.4 125.1,215.7 126.1,214.4 127.1,212.7 128.1,210.5 129.1,208.0 130.1,205.2 131.1,202.4 132.1,199.7 133.1,197.2 134.1,195.0 135.1,193.1" fill="none" stroke="#a8a8a8" stroke-opacity="0.13" stroke-width="0.8" stroke-linejoin="round"/>
<polyline points="54.2,193.4 55.2,194.3 56.2,195.4 57.2,196.7 58.2,198.2 59.2,199.9 60.2,201.7 61.2,203.6 62.2,205.6 63.2,207.5 64.2,209.5 65.2,211.4 66.2,213.2 67.2,214.8 68.2,216.3 69.2,217.6 70.2,218.6 71.2,219.3 72.2,219.6 73.2,219.5 74.2,218.9 75.2,217.9 76.2,216.5 77.2,214.7 78.2,212.7 79.2,210.5 80.2,208.4 81.2,206.5 82.2,204.8 83.2,203.4 84.2,202.6 85.2,202.1 86.2,202.2 87.2,202.6 88.2,203.5 89.2,204.7 90.2,206.1 91.2,207.7 92.2,209.3 93.2,210.9 94.2,212.5 95.2,213.9 96.2,215.0 97.2,215.9 98.2,216.3 99.2,216.4 100.2,215.9 101.2,215.1 102.2,213.8 103.2,212.1 104.2,210.1 105.2,208.0 106.2,205.9 107.2,204.0 108.2,202.3 109.2,200.9 110.2,200.0 111.2,199.5 112.2,199.4 113.2,199.7 114.2,200.5 115.2,201.5 116.2,202.8 117.2,204.3 118.2,205.9 119.2,207.7 120.2,209.4 121.2,211.0 122.2,212.5 123.2,213.7 124.2,214.7 125.2,215.4 126.2,215.6 127.2,215.4 128.2,214.7 129.2,213.5 130.2,211.9 131.2,209.8 132.2,207.4 133.2,204.8 134.2,202.1 135.2,199.5 136.2,197.0 137.2,194.9 138.2,193.2" fill="none" stroke="#a8a8a8" stroke-opacity="0.13" stroke-width="0.8" stroke-linejoin="round"/>
<polyline points="53.9,190.7 54.9,191.7 55.9,192.9 56.9,194.4 57.9,196.1 58.9,197.9 59.9,199.9 60.9,202.1 61.9,204.2 62.9,206.4 63.9,208.5 64.9,210.6 65.9,212.6 66.9,214.5 67.9,216.1 68.9,217.5 69.9,218.7 70.9,219.4 71.9,219.8 72.9,219.7 73.9,219.0 74.9,217.9 75.9,216.3 76.9,214.3 77.9,212.1 78.9,209.7 79.9,207.4 80.9,205.2 81.9,203.3 82.9,201.9 83.9,200.9 84.9,200.4 85.9,200.5 86.9,201.0 87.9,201.9 88.9,203.2 89.9,204.8 90.9,206.6 91.9,208.4 92.9,210.2 93.9,211.9 94.9,213.4 95.9,214.7 96.9,215.6 97.9,216.1 98.9,216.2 99.9,215.7 100.9,214.7 101.9,213.3 102.9,211.4 103.9,209.3 104.9,206.9 105.9,204.6 106.9,202.5 107.9,200.6 108.9,199.1 109.9,198.0 110.9,197.5 111.9,197.4 112.9,197.8 113.9,198.6 114.9,199.7 115.9,201.2 116.9,202.8 117.9,204.6 118.9,206.5 119.9,208.4 120.9,210.2 121.9,211.9 122.9,213.3 123.9,214.3 124.9,215.1 125.9,215.3 126.9,215.1 127.9,214.4 128.9,213.1 129.9,211.2 130.9,208.9 131.9,206.2 132.9,203.3 133.9,200.4 134.9,197.5 135.9,194.8 136.9,192.5 137.9,190.5" fill="none" stroke="#a8a8a8" stroke-opacity="0.13" stroke-width="0.8" stroke-linejoin="round"/>
<polyline points="53.3,196.2 54.3,197.1 55.3,198.1 56.3,199.4 57.3,200.8 58.3,202.4 59.3,204.1 60.3,205.9 61.3,207.7 62.3,209.6 63.3,211.4 64.3,213.2 65.3,214.9 66.3,216.5 67.3,217.9 68.3,219.1 69.3,220.1 70.3,220.7 71.3,221.0 72.3,220.9 73.3,220.4 74.3,219.4 75.3,218.0 76.3,216.4 77.3,214.5 78.3,212.4 79.3,210.4 80.3,208.6 81.3,207.0 82.3,205.7 83.3,204.9 84.3,204.5 85.3,204.5 86.3,205.0 87.3,205.8 88.3,206.9 89.3,208.3 90.3,209.7 91.3,211.3 92.3,212.8 93.3,214.3 94.3,215.6 95.3,216.7 96.3,217.5 97.3,217.9 98.3,217.9 99.3,217.5 100.3,216.7 101.3,215.5 102.3,213.9 103.3,212.0 104.3,210.1 105.3,208.1 106.3,206.2 107.3,204.6 108.3,203.4 109.3,202.5 110.3,202.0 111.3,201.9 112.3,202.3 113.3,202.9 114.3,203.9 115.3,205.1 116.3,206.6 117.3,208.1 118.3,209.7 119.3,211.3 120.3,212.9 121.3,214.3 122.3,215.4 123.3,216.4 124.3,217.0 125.3,217.2 126.3,217.0 127.3,216.4 128.3,215.3 129.3,213.7 130.3,211.7 131.3,209.5 132.3,207.0 133.3,204.5 134.3,202.0 135.3,199.7 136.3,197.7 137.3,196.0" fill="none" stroke="#a8a8a8" stroke-opacity="0.13" stroke-width="0.8" stroke-linejoin="round"/>
<line x1="83.5" x2="83.5" y1="198.1" y2="208.1" stroke="#bdbdbd" stroke-opacity="0.4" stroke-width="0.7"/>
<line x1="57.5" x2="57.5" y1="190.5" y2="208.3" stroke="#bdbdbd" stroke-opacity="0.4" stroke-width="0.7"/>
<line x1="57.0" x2="57.0" y1="189.3" y2="207.5" stroke="#bdbdbd" stroke-opacity="0.4" stroke-width="0.7"/>
<line x1="134.0" x2="134.0" y1="182.8" y2="201.3" stroke="#bdbdbd" stroke-opacity="0.4" stroke-width="0.7"/>
<line x1="109.0" x2="109.0" y1="197.2" y2="205.4" stroke="#bdbdbd" stroke-opacity="0.4" stroke-width="0.7"/>
<line x1="111.5" x2="111.5" y1="196.3" y2="206.8" stroke="#bdbdbd" stroke-opacity="0.4" stroke-width="0.7"/>
<line x1="56.5" x2="56.5" y1="193.5" y2="206.6" stroke="#bdbdbd" stroke-opacity="0.4" stroke-width="0.7"/>
<line x1="135.0" x2="135.0" y1="183.3" y2="199.6" stroke="#bdbdbd" stroke-opacity="0.4" stroke-width="0.7"/>
<line x1="55.5" x2="55.5" y1="187.9" y2="205.0" stroke="#bdbdbd" stroke-opacity="0.4" stroke-width="0.7"/>
<line x1="57.0" x2="57.0" y1="189.1" y2="207.5" stroke="#bdbdbd" stroke-opacity="0.4" stroke-width="0.7"/>
<line x1="57.0" x2="57.0" y1="186.5" y2="207.5" stroke="#bdbdbd" stroke-opacity="0.4" stroke-width="0.7"/>
<line x1="82.5" x2="82.5" y1="197.8" y2="207.8" stroke="#bdbdbd" stroke-opacity="0.4" stroke-width="0.7"/>
<line x1="55.5" x2="55.5" y1="195.2" y2="205.0" stroke="#bdbdbd" stroke-opacity="0.4" stroke-width="0.7"/>
<line x1="133.0" x2="133.0" y1="194.0" y2="203.2" stroke="#bdbdbd" stroke-opacity="0.4" stroke-width="0.7"/>
<line x1="83.0" x2="83.0" y1="199.0" y2="207.9" stroke="#bdbdbd" stroke-opacity="0.4" stroke-width="0.7"/>
<line x1="55.5" x2="55.5" y1="190.0" y2="205.0" stroke="#bdbdbd" stroke-opacity="0.4" stroke-width="0.7"/>
<line x1="111.5" x2="111.5" y1="192.9" y2="206.8" stroke="#bdbdbd" stroke-opacity="0.4" stroke-width="0.7"/>
<line x1="109.0" x2="109.0" y1="190.5" y2="205.4" stroke="#bdbdbd" stroke-opacity="0.4" stroke-width="0.7"/>
<line x1="83.0" x2="83.0" y1="194.5" y2="207.9" stroke="#bdbdbd" stroke-opacity="0.4" stroke-width="0.7"/>
<line x1="84.0" x2="84.0" y1="189.4" y2="208.3" stroke="#bdbdbd" stroke-opacity="0.4" stroke-width="0.7"/>
<line x1="57.0" x2="57.0" y1="194.4" y2="207.5" stroke="#bdbdbd" stroke-opacity="0.4" stroke-width="0.7"/>
<line x1="51.0" x2="51.0" y1="188.3" y2="199.8" stroke="#bdbdbd" stroke-opacity="0.4" stroke-width="0.7"/>
<line x1="55.5" x2="55.5" y1="184.8" y2="205.0" stroke="#bdbdbd" stroke-opacity="0.4" stroke-width="0.7"/>
<line x1="52.0" x2="52.0" y1="184.2" y2="200.7" stroke="#bdbdbd" stroke-opacity="0.4" stroke-width="0.7"/>
<line x1="133.0" x2="133.0" y1="186.9" y2="203.2" stroke="#bdbdbd" stroke-opacity="0.4" stroke-width="0.7"/>
<line x1="131.0" x2="131.0" y1="199.5" y2="207.8" stroke="#bdbdbd" stroke-opacity="0.4" stroke-width="0.7"/>
<line x1="107.5" x2="107.5" y1="197.2" y2="205.6" stroke="#bdbdbd" stroke-opacity="0.4" stroke-width="0.7"/>
<line x1="53.5" x2="53.5" y1="185.2" y2="202.2" stroke="#bdbdbd" stroke-opacity="0.4" stroke-width="0.7"/>
<line x1="51.0" x2="51.0" y1="183.0" y2="199.8" stroke="#bdbdbd" stroke-opacity="0.4" stroke-width="0.7"/>
<line x1="52.5" x2="52.5" y1="184.0" y2="201.1" stroke="#bdbdbd" stroke-opacity="0.4" stroke-width="0.7"/>
<line x1="108.0" x2="108.0" y1="194.9" y2="205.4" stroke="#bdbdbd" stroke-opacity="0.4" stroke-width="0.7"/>
<line x1="131.0" x2="131.0" y1="193.9" y2="207.8" stroke="#bdbdbd" stroke-opacity="0.4" stroke-width="0.7"/>
<line x1="106.5" x2="106.5" y1="190.7" y2="206.3" stroke="#bdbdbd" stroke-opacity="0.4" stroke-width="0.7"/>
<line x1="134.0" x2="134.0" y1="189.4" y2="201.3" stroke="#bdbdbd" stroke-opacity="0.4" stroke-width="0.7"/>
<line x1="57.0" x2="57.0" y1="194.3" y2="207.5" stroke="#bdbdbd" stroke-opacity="0.4" stroke-width="0.7"/>
<line x1="109.5" x2="109.5" y1="191.9" y2="205.5" stroke="#bdbdbd" stroke-opacity="0.4" stroke-width="0.7"/>
<line x1="56.5" x2="56.5" y1="186.8" y2="206.6" stroke="#bdbdbd" stroke-opacity="0.4" stroke-width="0.7"/>
<line x1="53.5" x2="53.5" y1="186.9" y2="202.2" stroke="#bdbdbd" stroke-opacity="0.4" stroke-width="0.7"/>
<line x1="112.5" x2="112.5" y1="198.5" y2="207.8" stroke="#bdbdbd" stroke-opacity="0.4" stroke-width="0.7"/>
<line x1="131.0" x2="131.0" y1="191.1" y2="207.8" stroke="#bdbdbd" stroke-opacity="0.4" stroke-width="0.7"/>
<line x1="133.5" x2="133.5" y1="183.4" y2="202.2" stroke="#bdbdbd" stroke-opacity="0.4" stroke-width="0.7"/>
<line x1="111.0" x2="111.0" y1="186.4" y2="206.3" stroke="#bdbdbd" stroke-opacity="0.4" stroke-width="0.7"/>
<line x1="55.0" x2="55.0" y1="184.4" y2="204.3" stroke="#bdbdbd" stroke-opacity="0.4" stroke-width="0.7"/>
<line x1="111.0" x2="111.0" y1="190.1" y2="206.3" stroke="#bdbdbd" stroke-opacity="0.4" stroke-width="0.7"/>
<line x1="57.5" x2="57.5" y1="190.7" y2="208.3" stroke="#bdbdbd" stroke-opacity="0.4" stroke-width="0.7"/>
<line x1="112.0" x2="112.0" y1="196.6" y2="207.3" stroke="#bdbdbd" stroke-opacity="0.4" stroke-width="0.7"/>
<line x1="57.0" x2="57.0" y1="187.0" y2="207.5" stroke="#bdbdbd" stroke-opacity="0.4" stroke-width="0.7"/>
<line x1="83.5" x2="83.5" y1="199.7" y2="208.1" stroke="#bdbdbd" stroke-opacity="0.4" stroke-width="0.7"/>
<line x1="56.0" x2="56.0" y1="185.7" y2="205.8" stroke="#bdbdbd" stroke-opacity="0.4" stroke-width="0.7"/>
<line x1="110.0" x2="110.0" y1="184.8" y2="205.7" stroke="#bdbdbd" stroke-opacity="0.4" stroke-width="0.7"/>
<polyline points="51.0,195.2 51.8,194.0 51.8,193.1 51.9,192.1 51.9,191.2 52.0,190.3 52.0,189.3 52.1,188.4 52.1,187.5 52.2,186.5 52.2,185.6 52.3,184.7 52.3,183.7 52.4,182.8 52.4,181.9 52.5,180.9 52.5,180.0 52.5,180.9 52.6,181.8 52.6,182.8 52.6,183.7 52.7,184.6 52.7,185.5 52.8,186.4 52.8,187.4 52.8,188.3 52.9,189.2 52.9,190.1 52.9,191.1 53.0,192.0 53.0,192.9 53.1,193.8 53.1,194.7 53.1,195.7 53.2,196.6 53.2,197.5 53.9,198.1 54.5,199.0 54.6,198.1 54.7,197.2 54.8,196.3 54.9,195.4 55.0,194.5 55.1,193.5 55.2,192.6 55.3,191.7 55.4,190.8 55.5,189.9 55.6,189.0 55.6,190.0 55.7,190.9 55.7,191.9 55.7,192.8 55.8,193.8 55.8,194.8 55.8,195.7 55.8,196.7 55.9,197.7 55.9,198.6 55.9,199.6 56.0,200.5 56.0,201.5 56.3,202.3 56.6,203.7 57.0,202.8 57.3,205.0 57.6,206.2 58.0,204.5 58.5,207.9 58.9,209.1 59.4,209.8 59.8,210.6 60.3,211.5 60.9,212.5 61.5,213.3 62.0,213.9 62.5,214.8 63.1,215.4 63.7,216.6 64.2,217.2 64.6,218.8 64.8,217.9 64.9,217.0 65.0,216.1 65.2,215.2 65.3,216.3 65.4,217.3 65.5,218.4 65.6,219.5 66.0,220.4 66.4,221.8 66.6,222.7 66.7,223.6 66.8,224.5 67.0,225.4 67.6,224.4 68.2,223.6 68.8,224.8 69.4,226.0 70.6,225.4 71.2,226.0 71.8,226.9 72.4,227.8 73.0,227.0 73.6,226.0 73.8,225.0 73.9,224.1 74.0,223.1 74.2,222.1 74.3,221.1 74.5,220.1 74.6,219.2 74.8,218.2 74.9,217.3 75.1,216.3 75.2,215.4 75.3,214.5 75.5,213.5 75.6,212.6 75.7,211.7 75.9,210.7 76.0,209.8 76.3,209.1 76.7,208.3 77.1,207.3 77.4,206.2 77.5,205.2 77.6,204.2 77.8,203.3 77.9,202.3 78.0,201.3 78.1,200.3 78.3,199.4 78.4,198.4 78.5,197.4 78.9,198.7 79.2,197.5 79.6,200.7 80.7,201.8 81.1,200.5 81.4,199.6 81.8,198.5 81.9,197.6 82.0,196.7 82.2,195.8 82.3,194.8 82.4,193.9 82.5,193.0 82.7,192.1 82.8,191.2 82.9,190.2 83.0,189.3 83.2,188.4 83.3,187.5 83.3,188.4 83.4,189.4 83.5,190.3 83.5,191.3 83.5,192.2 83.6,193.2 83.7,194.1 83.7,195.0 83.8,196.0 83.8,196.9 83.8,197.9 83.9,198.8 84.0,199.8 84.0,200.7 85.1,199.6 85.3,200.5 85.4,201.5 85.6,202.4 85.7,203.4 85.9,204.3 86.0,205.3 86.2,206.2 86.6,206.3 86.9,208.0 87.3,209.2 87.7,210.0 88.0,210.9 88.4,211.7 89.0,211.4 89.5,213.2 90.0,212.2 90.6,215.0 91.1,215.6 91.7,216.9 92.2,217.5 92.8,218.3 93.3,219.3 93.9,219.9 94.5,220.9 95.0,221.6 95.3,222.5 95.5,223.3 95.8,224.2 95.9,225.3 96.0,226.5 96.1,225.5 96.2,224.5 96.3,223.5 97.2,222.7 97.8,221.7 98.3,224.1 98.9,225.1 99.4,226.0 100.0,227.1 100.5,228.2 100.5,227.3 100.6,226.4 100.6,225.4 100.7,224.5 100.7,223.6 100.8,222.7 100.8,221.8 100.9,220.9 100.9,219.9 101.0,219.0 101.0,218.1 101.0,217.2 101.1,216.3 101.1,215.4 101.2,214.4 101.2,213.5 101.3,212.6 101.3,211.7 101.4,210.8 101.4,209.9 101.5,208.9 101.5,208.0 101.6,207.1 101.6,206.2 102.0,205.2 102.5,204.7 102.9,202.6 103.4,201.8 103.8,201.8 104.0,200.8 104.1,199.9 104.2,198.9 104.4,197.9 104.5,196.9 104.7,195.9 104.8,195.0 105.0,194.0 105.1,193.0 105.1,192.0 105.2,191.1 105.2,190.1 105.3,189.1 105.4,188.1 105.4,187.1 105.5,186.2 105.5,185.2 105.6,184.2 105.6,185.1 105.7,186.0 105.7,186.9 105.8,187.8 105.8,188.7 105.9,189.6 105.9,190.6 106.0,191.5 106.0,192.4 106.1,193.3 106.1,194.2 106.2,195.1 106.2,196.0 107.1,197.4 107.8,196.6 108.6,199.1 109.3,199.6 110.2,197.9 111.2,200.0 111.2,199.1 111.2,198.2 111.3,197.2 111.3,196.3 111.3,195.4 111.3,194.5 111.3,193.6 111.3,192.7 111.4,191.7 111.4,190.8 111.4,189.9 111.4,189.0 111.4,188.1 111.5,187.1 111.5,186.2 111.5,185.3 111.5,186.2 111.5,187.2 111.6,188.1 111.6,189.0 111.6,189.9 111.6,190.9 111.7,191.8 111.7,192.7 111.7,193.7 111.7,194.6 111.7,195.5 111.8,196.4 111.8,197.4 111.8,198.3 111.8,199.2 111.9,200.1 111.9,201.1 111.9,202.0 112.8,203.2 113.7,204.0 114.0,205.1 114.3,204.0 114.6,206.9 115.0,207.5 115.3,208.9 115.6,209.6 115.9,210.6 117.0,212.0 117.0,211.0 117.1,210.0 117.2,209.0 117.2,208.0 117.2,207.0 117.3,206.0 117.3,207.0 117.4,208.0 117.4,209.0 117.4,210.0 117.5,211.0 117.5,212.0 117.6,213.0 117.6,214.0 117.8,215.1 118.1,216.1 118.6,214.9 119.2,217.6 119.8,217.2 120.3,219.2 120.9,219.8 121.4,220.5 122.2,221.0 122.2,220.1 122.3,219.2 122.3,218.3 122.3,217.4 122.4,216.4 122.4,215.5 122.4,214.6 122.5,213.7 122.5,212.8 122.5,213.7 122.6,214.6 122.6,215.6 122.6,216.5 122.7,217.4 122.7,218.3 122.7,219.2 122.7,220.2 122.8,221.1 122.8,222.0 123.2,220.9 123.6,223.8 123.8,224.9 123.9,226.0 124.1,227.1 124.3,228.2 124.4,227.2 124.5,226.1 124.7,225.1 124.8,224.1 124.9,223.0 125.0,222.0 126.0,219.8 126.9,220.5 128.0,221.0 128.6,221.8 129.1,222.7 129.2,221.8 129.2,220.9 129.3,219.9 129.3,219.0 129.4,218.1 129.5,217.2 129.5,216.3 129.6,215.4 129.6,214.4 129.7,213.5 129.8,212.6 129.8,211.7 129.9,210.8 130.0,209.9 130.0,208.9 130.1,208.0 130.1,207.1 130.2,206.2 130.3,205.3 130.4,204.3 130.4,203.4 130.5,202.4 130.6,201.5 130.7,200.5 130.8,199.6 130.8,198.7 130.9,197.7 131.0,196.8 131.1,195.8 131.1,194.9 131.2,193.9 131.3,193.0 132.4,192.5 133.5,191.9 134.6,192.6 135.7,193.0" fill="none" stroke="#3a9bd4" stroke-width="1.05" stroke-linejoin="round"/>
<polygon points="165.0,185.7 166.0,186.5 167.0,187.6 168.0,188.8 169.0,190.3 170.0,192.1 171.0,194.0 172.0,196.1 173.0,198.2 174.0,200.4 175.0,202.6 176.0,204.7 177.0,206.7 178.0,208.5 179.0,210.2 180.0,211.7 181.0,213.0 182.0,214.0 183.0,214.7 184.0,215.1 185.0,215.1 186.0,214.7 187.0,213.8 188.0,212.5 189.0,210.9 190.0,209.1 191.0,207.1 192.0,205.2 193.0,203.5 194.0,202.1 195.0,201.1 196.0,200.6 197.0,200.7 198.0,201.2 199.0,202.2 200.0,203.6 201.0,205.3 202.0,207.1 203.0,209.0 204.0,210.9 205.0,212.6 206.0,214.1 207.0,215.3 208.0,216.2 209.0,216.7 210.0,216.8 211.0,216.4 212.0,215.5 213.0,214.2 214.0,212.4 215.0,210.2 216.0,207.8 217.0,205.2 218.0,202.7 219.0,200.2 220.0,197.9 221.0,196.1 222.0,194.6 223.0,193.6 224.0,193.2 225.0,193.3 226.0,193.8 227.0,194.9 228.0,196.3 229.0,198.0 230.0,200.0 231.0,202.0 232.0,204.0 233.0,205.9 234.0,207.7 235.0,209.3 236.0,210.6 237.0,211.7 238.0,212.5 239.0,213.0 240.0,213.3 241.0,213.3 242.0,213.1 243.0,212.6 244.0,212.1 245.0,211.3 246.0,210.6 247.0,209.8 248.0,209.0 248.0,220.1 247.0,220.5 246.0,221.0 245.0,221.5 244.0,222.0 243.0,222.3 242.0,222.6 241.0,222.7 240.0,222.7 239.0,222.5 238.0,222.2 237.0,221.7 236.0,221.1 235.0,220.2 234.0,219.3 233.0,218.2 232.0,217.0 231.0,215.7 230.0,214.5 229.0,213.3 228.0,212.3 227.0,211.4 226.0,210.8 225.0,210.4 224.0,210.3 223.0,210.6 222.0,211.2 221.0,212.1 220.0,213.3 219.0,214.7 218.0,216.2 217.0,217.8 216.0,219.3 215.0,220.8 214.0,222.2 213.0,223.2 212.0,224.1 211.0,224.6 210.0,224.9 209.0,224.8 208.0,224.5 207.0,224.0 206.0,223.2 205.0,222.3 204.0,221.2 203.0,220.1 202.0,218.9 201.0,217.8 200.0,216.8 199.0,215.9 198.0,215.3 197.0,214.9 196.0,214.9 195.0,215.2 194.0,215.8 193.0,216.7 192.0,217.7 191.0,218.9 190.0,220.1 189.0,221.3 188.0,222.3 187.0,223.0 186.0,223.6 185.0,223.8 184.0,223.8 183.0,223.6 182.0,223.2 181.0,222.5 180.0,221.7 179.0,220.8 178.0,219.8 177.0,218.6 176.0,217.4 175.0,216.1 174.0,214.8 173.0,213.4 172.0,212.1 171.0,210.9 170.0,209.7 169.0,208.6 168.0,207.7 167.0,206.9 166.0,206.2 165.0,205.7" fill="#e2e2e2" stroke="#e2e2e2" stroke-width="3" stroke-linejoin="round" filter="url(#bl)"/>
<polyline points="165.0,195.4 166.0,196.0 167.0,196.9 168.0,197.9 169.0,199.2 170.0,200.6 171.0,202.2 172.0,203.8 173.0,205.6 174.0,207.4 175.0,209.1 176.0,210.8 177.0,212.5 178.0,214.0 179.0,215.4 180.0,216.6 181.0,217.6 182.0,218.5 183.0,219.1 184.0,219.4 185.0,219.4 186.0,219.0 187.0,218.3 188.0,217.3 189.0,216.0 190.0,214.5 191.0,212.9 192.0,211.3 193.0,209.9 194.0,208.7 195.0,207.9 196.0,207.5 197.0,207.6 198.0,208.0 199.0,208.9 200.0,210.0 201.0,211.4 202.0,212.9 203.0,214.4 204.0,215.9 205.0,217.3 206.0,218.5 207.0,219.5 208.0,220.2 209.0,220.7 210.0,220.7 211.0,220.4 212.0,219.7 213.0,218.6 214.0,217.1 215.0,215.4 216.0,213.4 217.0,211.3 218.0,209.2 219.0,207.2 220.0,205.4 221.0,203.8 222.0,202.6 223.0,201.8 224.0,201.5 225.0,201.5 226.0,202.0 227.0,202.9 228.0,204.0 229.0,205.4 230.0,207.0 231.0,208.6 232.0,210.3 233.0,211.9 234.0,213.3 235.0,214.6 236.0,215.7 237.0,216.6 238.0,217.2 239.0,217.7 240.0,217.9 241.0,217.9 242.0,217.7 243.0,217.3 244.0,216.9 245.0,216.3 246.0,215.7 247.0,215.0 248.0,214.4" fill="none" stroke="#dadada" stroke-width="13" stroke-linejoin="round" stroke-linecap="butt" filter="url(#bl)"/>
<polyline points="165.0,195.4 166.0,196.0 167.0,196.9 168.0,197.9 169.0,199.2 170.0,200.6 171.0,202.2 172.0,203.8 173.0,205.6 174.0,207.4 175.0,209.1 176.0,210.8 177.0,212.5 178.0,214.0 179.0,215.4 180.0,216.6 181.0,217.6 182.0,218.5 183.0,219.1 184.0,219.4 185.0,219.4 186.0,219.0 187.0,218.3 188.0,217.3 189.0,216.0 190.0,214.5 191.0,212.9 192.0,211.3 193.0,209.9 194.0,208.7 195.0,207.9 196.0,207.5 197.0,207.6 198.0,208.0 199.0,208.9 200.0,210.0 201.0,211.4 202.0,212.9 203.0,214.4 204.0,215.9 205.0,217.3 206.0,218.5 207.0,219.5 208.0,220.2 209.0,220.7 210.0,220.7 211.0,220.4 212.0,219.7 213.0,218.6 214.0,217.1 215.0,215.4 216.0,213.4 217.0,211.3 218.0,209.2 219.0,207.2 220.0,205.4 221.0,203.8 222.0,202.6 223.0,201.8 224.0,201.5 225.0,201.5 226.0,202.0 227.0,202.9 228.0,204.0 229.0,205.4 230.0,207.0 231.0,208.6 232.0,210.3 233.0,211.9 234.0,213.3 235.0,214.6 236.0,215.7 237.0,216.6 238.0,217.2 239.0,217.7 240.0,217.9 241.0,217.9 242.0,217.7 243.0,217.3 244.0,216.9 245.0,216.3 246.0,215.7 247.0,215.0 248.0,214.4" fill="none" stroke="#c9c9c9" stroke-width="6" stroke-linejoin="round" stroke-linecap="butt" filter="url(#bl)"/>
<polyline points="165.9,203.1 166.9,203.7 167.9,204.4 168.9,205.3 169.9,206.3 170.9,207.5 171.9,208.8 172.9,210.2 173.9,211.7 174.9,213.2 175.9,214.7 176.9,216.1 177.9,217.5 178.9,218.7 179.9,219.9 180.9,220.9 181.9,221.8 182.9,222.5 183.9,223.0 184.9,223.2 185.9,223.2 186.9,222.9 187.9,222.3 188.9,221.5 189.9,220.4 190.9,219.1 191.9,217.8 192.9,216.5 193.9,215.3 194.9,214.3 195.9,213.7 196.9,213.3 197.9,213.4 198.9,213.7 199.9,214.4 200.9,215.4 201.9,216.5 202.9,217.8 203.9,219.1 204.9,220.3 205.9,221.5 206.9,222.5 207.9,223.4 208.9,224.0 209.9,224.3 210.9,224.4 211.9,224.1 212.9,223.5 213.9,222.6 214.9,221.4 215.9,219.9 216.9,218.2 217.9,216.5 218.9,214.7 219.9,213.0 220.9,211.5 221.9,210.2 222.9,209.2 223.9,208.6 224.9,208.3 225.9,208.3 226.9,208.7 227.9,209.4 228.9,210.4 229.9,211.6 230.9,212.9 231.9,214.3 232.9,215.6 233.9,216.9 234.9,218.2 235.9,219.2 236.9,220.1 237.9,220.9 238.9,221.4 239.9,221.8 240.9,222.0 241.9,222.0 242.9,221.8 243.9,221.5 244.9,221.1 245.9,220.7 246.9,220.1 247.9,219.6 248.9,219.1" fill="none" stroke="#a8a8a8" stroke-opacity="0.13" stroke-width="0.8" stroke-linejoin="round"/>
<polyline points="168.4,198.1 169.4,198.7 170.4,199.5 171.4,200.5 172.4,201.7 173.4,203.0 174.4,204.5 175.4,206.1 176.4,207.8 177.4,209.5 178.4,211.2 179.4,212.8 180.4,214.4 181.4,215.8 182.4,217.1 183.4,218.3 184.4,219.3 185.4,220.1 186.4,220.6 187.4,220.9 188.4,220.9 189.4,220.6 190.4,219.9 191.4,218.9 192.4,217.7 193.4,216.2 194.4,214.7 195.4,213.2 196.4,211.9 197.4,210.8 198.4,210.0 199.4,209.7 200.4,209.7 201.4,210.1 202.4,210.9 203.4,212.0 204.4,213.3 205.4,214.7 206.4,216.2 207.4,217.6 208.4,219.0 209.4,220.1 210.4,221.1 211.4,221.8 212.4,222.2 213.4,222.2 214.4,221.9 215.4,221.2 216.4,220.2 217.4,218.8 218.4,217.1 219.4,215.2 220.4,213.2 221.4,211.2 222.4,209.3 223.4,207.6 224.4,206.1 225.4,205.0 226.4,204.2 227.4,203.9 228.4,203.9 229.4,204.4 230.4,205.2 231.4,206.3 232.4,207.6 233.4,209.1 234.4,210.7 235.4,212.3 236.4,213.8 237.4,215.1 238.4,216.4 239.4,217.4 240.4,218.2 241.4,218.9 242.4,219.3 243.4,219.5 244.4,219.5 245.4,219.3 246.4,219.0 247.4,218.5 248.4,218.0 249.4,217.4 250.4,216.8 251.4,216.2" fill="none" stroke="#a8a8a8" stroke-opacity="0.13" stroke-width="0.8" stroke-linejoin="round"/>
<polyline points="163.1,200.7 164.1,201.3 165.1,202.0 166.1,202.9 167.1,203.9 168.1,205.1 169.1,206.5 170.1,207.9 171.1,209.4 172.1,210.9 173.1,212.4 174.1,213.8 175.1,215.2 176.1,216.5 177.1,217.7 178.1,218.7 179.1,219.6 180.1,220.3 181.1,220.8 182.1,221.1 183.1,221.1 184.1,220.8 185.1,220.2 186.1,219.3 187.1,218.2 188.1,216.9 189.1,215.5 190.1,214.2 191.1,213.0 192.1,212.0 193.1,211.4 194.1,211.0 195.1,211.1 196.1,211.4 197.1,212.2 198.1,213.1 199.1,214.3 200.1,215.5 201.1,216.8 202.1,218.1 203.1,219.3 204.1,220.3 205.1,221.2 206.1,221.8 207.1,222.2 208.1,222.2 209.1,221.9 210.1,221.3 211.1,220.4 212.1,219.2 213.1,217.7 214.1,216.0 215.1,214.2 216.1,212.4 217.1,210.7 218.1,209.2 219.1,207.9 220.1,206.9 221.1,206.2 222.1,205.9 223.1,205.9 224.1,206.3 225.1,207.1 226.1,208.0 227.1,209.2 228.1,210.6 229.1,212.0 230.1,213.4 231.1,214.7 232.1,215.9 233.1,217.0 234.1,217.9 235.1,218.7 236.1,219.2 237.1,219.6 238.1,219.8 239.1,219.8 240.1,219.6 241.1,219.4 242.1,218.9 243.1,218.5 244.1,217.9 245.1,217.4 246.1,216.8" fill="none" stroke="#a8a8a8" stroke-opacity="0.13" stroke-width="0.8" stroke-linejoin="round"/>
<polyline points="166.7,202.9 167.7,203.5 168.7,204.2 169.7,205.1 170.7,206.1 171.7,207.3 172.7,208.6 173.7,210.0 174.7,211.5 175.7,213.0 176.7,214.5 177.7,216.0 178.7,217.3 179.7,218.6 180.7,219.8 181.7,220.8 182.7,221.7 183.7,222.4 184.7,222.9 185.7,223.2 186.7,223.2 187.7,222.9 188.7,222.3 189.7,221.4 190.7,220.3 191.7,219.0 192.7,217.7 193.7,216.3 194.7,215.1 195.7,214.2 196.7,213.5 197.7,213.2 198.7,213.2 199.7,213.6 200.7,214.3 201.7,215.2 202.7,216.4 203.7,217.7 204.7,219.0 205.7,220.2 206.7,221.4 207.7,222.4 208.7,223.3 209.7,223.9 210.7,224.3 211.7,224.3 212.7,224.0 213.7,223.4 214.7,222.5 215.7,221.3 216.7,219.8 217.7,218.1 218.7,216.4 219.7,214.6 220.7,212.9 221.7,211.3 222.7,210.0 223.7,209.0 224.7,208.4 225.7,208.0 226.7,208.1 227.7,208.5 228.7,209.2 229.7,210.2 230.7,211.4 231.7,212.7 232.7,214.1 233.7,215.5 234.7,216.8 235.7,218.0 236.7,219.1 237.7,220.0 238.7,220.8 239.7,221.3 240.7,221.7 241.7,221.9 242.7,221.9 243.7,221.8 244.7,221.5 245.7,221.0 246.7,220.6 247.7,220.0 248.7,219.5 249.7,218.9" fill="none" stroke="#a8a8a8" stroke-opacity="0.13" stroke-width="0.8" stroke-linejoin="round"/>
<polyline points="162.0,200.5 163.0,201.1 164.0,201.8 165.0,202.7 166.0,203.7 167.0,204.9 168.0,206.2 169.0,207.6 170.0,209.1 171.0,210.6 172.0,212.1 173.0,213.5 174.0,214.8 175.0,216.1 176.0,217.3 177.0,218.3 178.0,219.2 179.0,219.9 180.0,220.4 181.0,220.6 182.0,220.6 183.0,220.3 184.0,219.7 185.0,218.9 186.0,217.8 187.0,216.5 188.0,215.2 189.0,213.9 190.0,212.7 191.0,211.7 192.0,211.0 193.0,210.7 194.0,210.7 195.0,211.1 196.0,211.8 197.0,212.8 198.0,213.9 199.0,215.2 200.0,216.5 201.0,217.7 202.0,218.9 203.0,219.9 204.0,220.7 205.0,221.4 206.0,221.7 207.0,221.7 208.0,221.5 209.0,220.9 210.0,220.0 211.0,218.7 212.0,217.3 213.0,215.6 214.0,213.9 215.0,212.1 216.0,210.4 217.0,208.9 218.0,207.6 219.0,206.6 220.0,206.0 221.0,205.6 222.0,205.7 223.0,206.1 224.0,206.8 225.0,207.8 226.0,209.0 227.0,210.3 228.0,211.6 229.0,213.0 230.0,214.3 231.0,215.5 232.0,216.6 233.0,217.5 234.0,218.3 235.0,218.8 236.0,219.2 237.0,219.4 238.0,219.4 239.0,219.2 240.0,218.9 241.0,218.5 242.0,218.0 243.0,217.5 244.0,217.0 245.0,216.4" fill="none" stroke="#a8a8a8" stroke-opacity="0.13" stroke-width="0.8" stroke-linejoin="round"/>
<polyline points="167.3,199.0 168.3,199.6 169.3,200.4 170.3,201.4 171.3,202.5 172.3,203.8 173.3,205.2 174.3,206.7 175.3,208.3 176.3,209.9 177.3,211.6 178.3,213.1 179.3,214.6 180.3,216.0 181.3,217.2 182.3,218.3 183.3,219.3 184.3,220.1 185.3,220.6 186.3,220.9 187.3,220.9 188.3,220.5 189.3,219.9 190.3,219.0 191.3,217.8 192.3,216.4 193.3,214.9 194.3,213.5 195.3,212.2 196.3,211.2 197.3,210.5 198.3,210.1 199.3,210.1 200.3,210.6 201.3,211.3 202.3,212.3 203.3,213.6 204.3,214.9 205.3,216.3 206.3,217.7 207.3,219.0 208.3,220.1 209.3,221.0 210.3,221.7 211.3,222.0 212.3,222.1 213.3,221.8 214.3,221.2 215.3,220.2 216.3,218.8 217.3,217.2 218.3,215.4 219.3,213.5 220.3,211.6 221.3,209.8 222.3,208.1 223.3,206.7 224.3,205.6 225.3,204.9 226.3,204.6 227.3,204.6 228.3,205.1 229.3,205.9 230.3,206.9 231.3,208.2 232.3,209.6 233.3,211.1 234.3,212.6 235.3,214.0 236.3,215.4 237.3,216.5 238.3,217.5 239.3,218.3 240.3,218.9 241.3,219.3 242.3,219.5 243.3,219.5 244.3,219.3 245.3,219.0 246.3,218.6 247.3,218.1 248.3,217.5 249.3,216.9 250.3,216.3" fill="none" stroke="#a8a8a8" stroke-opacity="0.13" stroke-width="0.8" stroke-linejoin="round"/>
<polyline points="163.9,194.7 164.9,195.4 165.9,196.2 166.9,197.3 167.9,198.6 168.9,200.0 169.9,201.6 170.9,203.3 171.9,205.1 172.9,207.0 173.9,208.8 174.9,210.5 175.9,212.2 176.9,213.7 177.9,215.2 178.9,216.4 179.9,217.5 180.9,218.4 181.9,219.0 182.9,219.3 183.9,219.3 184.9,218.9 185.9,218.2 186.9,217.1 187.9,215.8 188.9,214.2 189.9,212.6 190.9,211.0 191.9,209.5 192.9,208.4 193.9,207.5 194.9,207.1 195.9,207.2 196.9,207.7 197.9,208.5 198.9,209.7 199.9,211.1 200.9,212.6 201.9,214.2 202.9,215.7 203.9,217.1 204.9,218.4 205.9,219.4 206.9,220.2 207.9,220.6 208.9,220.7 209.9,220.3 210.9,219.6 211.9,218.5 212.9,217.0 213.9,215.2 214.9,213.2 215.9,211.0 216.9,208.8 217.9,206.8 218.9,204.9 219.9,203.3 220.9,202.1 221.9,201.3 222.9,200.9 223.9,201.0 224.9,201.5 225.9,202.4 226.9,203.5 227.9,205.0 228.9,206.6 229.9,208.3 230.9,210.0 231.9,211.6 232.9,213.1 233.9,214.4 234.9,215.5 235.9,216.4 236.9,217.1 237.9,217.5 238.9,217.7 239.9,217.7 240.9,217.6 241.9,217.2 242.9,216.7 243.9,216.1 244.9,215.5 245.9,214.8 246.9,214.1" fill="none" stroke="#a8a8a8" stroke-opacity="0.13" stroke-width="0.8" stroke-linejoin="round"/>
<polyline points="163.1,197.6 164.1,198.2 165.1,199.0 166.1,199.9 167.1,201.1 168.1,202.4 169.1,203.9 170.1,205.5 171.1,207.1 172.1,208.8 173.1,210.4 174.1,212.0 175.1,213.6 176.1,215.0 177.1,216.3 178.1,217.4 179.1,218.4 180.1,219.2 181.1,219.8 182.1,220.0 183.1,220.0 184.1,219.7 185.1,219.0 186.1,218.1 187.1,216.8 188.1,215.4 189.1,213.9 190.1,212.5 191.1,211.1 192.1,210.1 193.1,209.3 194.1,209.0 195.1,209.0 196.1,209.4 197.1,210.2 198.1,211.3 199.1,212.5 200.1,213.9 201.1,215.4 202.1,216.8 203.1,218.1 204.1,219.2 205.1,220.2 206.1,220.9 207.1,221.2 208.1,221.3 209.1,221.0 210.1,220.3 211.1,219.3 212.1,217.9 213.1,216.3 214.1,214.5 215.1,212.5 216.1,210.5 217.1,208.6 218.1,206.9 219.1,205.5 220.1,204.4 221.1,203.6 222.1,203.3 223.1,203.3 224.1,203.8 225.1,204.6 226.1,205.7 227.1,207.0 228.1,208.4 229.1,210.0 230.1,211.5 231.1,213.0 232.1,214.4 233.1,215.6 234.1,216.6 235.1,217.4 236.1,218.0 237.1,218.4 238.1,218.6 239.1,218.6 240.1,218.5 241.1,218.1 242.1,217.7 243.1,217.2 244.1,216.6 245.1,215.9 246.1,215.4" fill="none" stroke="#a8a8a8" stroke-opacity="0.13" stroke-width="0.8" stroke-linejoin="round"/>
<polyline points="162.3,192.7 163.3,193.4 164.3,194.3 165.3,195.5 166.3,196.8 167.3,198.4 168.3,200.1 169.3,202.0 170.3,203.9 171.3,205.9 172.3,207.8 173.3,209.7 174.3,211.5 175.3,213.2 176.3,214.7 177.3,216.1 178.3,217.2 179.3,218.2 180.3,218.8 181.3,219.1 182.3,219.1 183.3,218.7 184.3,218.0 185.3,216.8 186.3,215.4 187.3,213.7 188.3,212.0 189.3,210.2 190.3,208.7 191.3,207.4 192.3,206.5 193.3,206.1 194.3,206.1 195.3,206.6 196.3,207.5 197.3,208.8 198.3,210.3 199.3,212.0 200.3,213.7 201.3,215.3 202.3,216.9 203.3,218.2 204.3,219.3 205.3,220.1 206.3,220.6 207.3,220.6 208.3,220.3 209.3,219.5 210.3,218.3 211.3,216.7 212.3,214.7 213.3,212.6 214.3,210.2 215.3,207.9 216.3,205.7 217.3,203.7 218.3,202.0 219.3,200.7 220.3,199.8 221.3,199.4 222.3,199.5 223.3,200.0 224.3,200.9 225.3,202.2 226.3,203.8 227.3,205.5 228.3,207.3 229.3,209.1 230.3,210.8 231.3,212.4 232.3,213.9 233.3,215.1 234.3,216.0 235.3,216.8 236.3,217.2 237.3,217.5 238.3,217.5 239.3,217.3 240.3,216.9 241.3,216.4 242.3,215.7 243.3,215.0 244.3,214.3 245.3,213.6" fill="none" stroke="#a8a8a8" stroke-opacity="0.13" stroke-width="0.8" stroke-linejoin="round"/>
<polyline points="166.5,190.9 167.5,191.6 168.5,192.6 169.5,193.8 170.5,195.2 171.5,196.8 172.5,198.5 173.5,200.4 174.5,202.4 175.5,204.4 176.5,206.4 177.5,208.4 178.5,210.2 179.5,211.9 180.5,213.5 181.5,214.8 182.5,216.0 183.5,217.0 184.5,217.6 185.5,218.0 186.5,218.0 187.5,217.6 188.5,216.8 189.5,215.6 190.5,214.1 191.5,212.4 192.5,210.6 193.5,208.9 194.5,207.3 195.5,206.0 196.5,205.1 197.5,204.6 198.5,204.7 199.5,205.2 200.5,206.1 201.5,207.4 202.5,208.9 203.5,210.6 204.5,212.4 205.5,214.1 206.5,215.6 207.5,217.0 208.5,218.2 209.5,219.0 210.5,219.4 211.5,219.5 212.5,219.1 213.5,218.3 214.5,217.1 215.5,215.4 216.5,213.5 217.5,211.2 218.5,208.9 219.5,206.5 220.5,204.2 221.5,202.2 222.5,200.4 223.5,199.1 224.5,198.2 225.5,197.8 226.5,197.9 227.5,198.4 228.5,199.4 229.5,200.7 230.5,202.2 231.5,204.0 232.5,205.9 233.5,207.7 234.5,209.5 235.5,211.1 236.5,212.6 237.5,213.8 238.5,214.8 239.5,215.6 240.5,216.0 241.5,216.3 242.5,216.3 243.5,216.1 244.5,215.7 245.5,215.2 246.5,214.5 247.5,213.8 248.5,213.1 249.5,212.3" fill="none" stroke="#a8a8a8" stroke-opacity="0.13" stroke-width="0.8" stroke-linejoin="round"/>
<polyline points="164.3,198.0 165.3,198.6 166.3,199.4 167.3,200.4 168.3,201.5 169.3,202.8 170.3,204.3 171.3,205.9 172.3,207.5 173.3,209.2 174.3,210.8 175.3,212.4 176.3,213.9 177.3,215.3 178.3,216.6 179.3,217.8 180.3,218.8 181.3,219.5 182.3,220.1 183.3,220.4 184.3,220.4 185.3,220.0 186.3,219.4 187.3,218.4 188.3,217.2 189.3,215.8 190.3,214.3 191.3,212.8 192.3,211.5 193.3,210.4 194.3,209.7 195.3,209.3 196.3,209.4 197.3,209.8 198.3,210.6 199.3,211.6 200.3,212.9 201.3,214.3 202.3,215.7 203.3,217.1 204.3,218.4 205.3,219.6 206.3,220.5 207.3,221.2 208.3,221.6 209.3,221.6 210.3,221.3 211.3,220.7 212.3,219.6 213.3,218.3 214.3,216.6 215.3,214.8 216.3,212.9 217.3,210.9 218.3,209.0 219.3,207.3 220.3,205.9 221.3,204.7 222.3,204.0 223.3,203.7 224.3,203.7 225.3,204.2 226.3,205.0 227.3,206.1 228.3,207.4 229.3,208.8 230.3,210.4 231.3,211.9 232.3,213.4 233.3,214.7 234.3,215.9 235.3,216.9 236.3,217.8 237.3,218.4 238.3,218.8 239.3,219.0 240.3,219.0 241.3,218.8 242.3,218.5 243.3,218.0 244.3,217.5 245.3,216.9 246.3,216.3 247.3,215.7" fill="none" stroke="#a8a8a8" stroke-opacity="0.13" stroke-width="0.8" stroke-linejoin="round"/>
<polyline points="166.5,204.5 167.5,205.0 168.5,205.7 169.5,206.5 170.5,207.4 171.5,208.5 172.5,209.7 173.5,210.9 174.5,212.3 175.5,213.6 176.5,214.9 177.5,216.2 178.5,217.5 179.5,218.6 180.5,219.7 181.5,220.6 182.5,221.4 183.5,222.0 184.5,222.5 185.5,222.7 186.5,222.7 187.5,222.4 188.5,221.9 189.5,221.1 190.5,220.1 191.5,219.0 192.5,217.8 193.5,216.6 194.5,215.5 195.5,214.6 196.5,214.0 197.5,213.7 198.5,213.8 199.5,214.1 200.5,214.7 201.5,215.6 202.5,216.6 203.5,217.8 204.5,218.9 205.5,220.1 206.5,221.1 207.5,222.1 208.5,222.8 209.5,223.4 210.5,223.7 211.5,223.7 212.5,223.5 213.5,222.9 214.5,222.1 215.5,221.0 216.5,219.7 217.5,218.2 218.5,216.6 219.5,215.0 220.5,213.5 221.5,212.1 222.5,210.9 223.5,210.0 224.5,209.4 225.5,209.2 226.5,209.2 227.5,209.6 228.5,210.2 229.5,211.1 230.5,212.1 231.5,213.3 232.5,214.6 233.5,215.8 234.5,217.0 235.5,218.1 236.5,219.1 237.5,219.9 238.5,220.6 239.5,221.1 240.5,221.4 241.5,221.6 242.5,221.6 243.5,221.4 244.5,221.2 245.5,220.8 246.5,220.4 247.5,219.9 248.5,219.4 249.5,218.9" fill="none" stroke="#a8a8a8" stroke-opacity="0.13" stroke-width="0.8" stroke-linejoin="round"/>
<polyline points="165.5,198.0 166.5,198.6 167.5,199.4 168.5,200.3 169.5,201.4 170.5,202.7 171.5,204.1 172.5,205.6 173.5,207.2 174.5,208.8 175.5,210.4 176.5,211.9 177.5,213.4 178.5,214.8 179.5,216.0 180.5,217.1 181.5,218.1 182.5,218.8 183.5,219.4 184.5,219.6 185.5,219.6 186.5,219.3 187.5,218.7 188.5,217.7 189.5,216.6 190.5,215.2 191.5,213.8 192.5,212.4 193.5,211.1 194.5,210.0 195.5,209.3 196.5,209.0 197.5,209.0 198.5,209.4 199.5,210.2 200.5,211.2 201.5,212.4 202.5,213.8 203.5,215.1 204.5,216.5 205.5,217.8 206.5,218.9 207.5,219.8 208.5,220.4 209.5,220.8 210.5,220.8 211.5,220.6 212.5,219.9 213.5,218.9 214.5,217.6 215.5,216.0 216.5,214.3 217.5,212.4 218.5,210.5 219.5,208.6 220.5,207.0 221.5,205.6 222.5,204.5 223.5,203.8 224.5,203.5 225.5,203.6 226.5,204.0 227.5,204.8 228.5,205.8 229.5,207.1 230.5,208.5 231.5,210.0 232.5,211.4 233.5,212.9 234.5,214.2 235.5,215.3 236.5,216.3 237.5,217.1 238.5,217.7 239.5,218.1 240.5,218.3 241.5,218.3 242.5,218.1 243.5,217.8 244.5,217.4 245.5,216.9 246.5,216.3 247.5,215.7 248.5,215.1" fill="none" stroke="#a8a8a8" stroke-opacity="0.13" stroke-width="0.8" stroke-linejoin="round"/>
<polyline points="166.8,204.8 167.8,205.3 168.8,205.9 169.8,206.7 170.8,207.7 171.8,208.7 172.8,209.9 173.8,211.2 174.8,212.5 175.8,213.9 176.8,215.2 177.8,216.5 178.8,217.8 179.8,218.9 180.8,219.9 181.8,220.9 182.8,221.7 183.8,222.3 184.8,222.8 185.8,223.0 186.8,223.0 187.8,222.7 188.8,222.2 189.8,221.4 190.8,220.4 191.8,219.3 192.8,218.0 193.8,216.9 194.8,215.8 195.8,214.9 196.8,214.3 197.8,214.0 198.8,214.0 199.8,214.4 200.8,215.0 201.8,215.9 202.8,216.9 203.8,218.0 204.8,219.2 205.8,220.4 206.8,221.4 207.8,222.3 208.8,223.1 209.8,223.7 210.8,224.0 211.8,224.0 212.8,223.8 213.8,223.2 214.8,222.4 215.8,221.3 216.8,220.0 217.8,218.5 218.8,216.9 219.8,215.3 220.8,213.7 221.8,212.4 222.8,211.2 223.8,210.3 224.8,209.7 225.8,209.4 226.8,209.5 227.8,209.8 228.8,210.5 229.8,211.4 230.8,212.4 231.8,213.6 232.8,214.9 233.8,216.1 234.8,217.3 235.8,218.4 236.8,219.4 237.8,220.2 238.8,220.9 239.8,221.4 240.8,221.7 241.8,221.9 242.8,221.9 243.8,221.7 244.8,221.5 245.8,221.1 246.8,220.7 247.8,220.2 248.8,219.7 249.8,219.2" fill="none" stroke="#a8a8a8" stroke-opacity="0.13" stroke-width="0.8" stroke-linejoin="round"/>
<polyline points="162.7,203.3 163.7,203.8 164.7,204.4 165.7,205.2 166.7,206.2 167.7,207.3 168.7,208.5 169.7,209.8 170.7,211.1 171.7,212.5 172.7,213.8 173.7,215.1 174.7,216.4 175.7,217.6 176.7,218.6 177.7,219.6 178.7,220.4 179.7,221.0 180.7,221.5 181.7,221.7 182.7,221.7 183.7,221.4 184.7,220.9 185.7,220.1 186.7,219.1 187.7,217.9 188.7,216.7 189.7,215.5 190.7,214.4 191.7,213.5 192.7,212.9 193.7,212.6 194.7,212.6 195.7,213.0 196.7,213.6 197.7,214.5 198.7,215.5 199.7,216.7 200.7,217.9 201.7,219.0 202.7,220.1 203.7,221.1 204.7,221.8 205.7,222.4 206.7,222.7 207.7,222.7 208.7,222.5 209.7,221.9 210.7,221.1 211.7,220.0 212.7,218.6 213.7,217.1 214.7,215.5 215.7,213.9 216.7,212.3 217.7,210.9 218.7,209.7 219.7,208.8 220.7,208.2 221.7,207.9 222.7,208.0 223.7,208.4 224.7,209.0 225.7,209.9 226.7,211.0 227.7,212.2 228.7,213.5 229.7,214.7 230.7,215.9 231.7,217.0 232.7,218.0 233.7,218.9 234.7,219.5 235.7,220.1 236.7,220.4 237.7,220.6 238.7,220.6 239.7,220.4 240.7,220.2 241.7,219.8 242.7,219.3 243.7,218.8 244.7,218.3 245.7,217.9" fill="none" stroke="#a8a8a8" stroke-opacity="0.13" stroke-width="0.8" stroke-linejoin="round"/>
<polyline points="162.0,203.0 163.0,203.5 164.0,204.2 165.0,205.1 166.0,206.1 167.0,207.2 168.0,208.5 169.0,209.9 170.0,211.3 171.0,212.8 172.0,214.2 173.0,215.6 174.0,217.0 175.0,218.2 176.0,219.3 177.0,220.3 178.0,221.2 179.0,221.9 180.0,222.4 181.0,222.6 182.0,222.6 183.0,222.3 184.0,221.7 185.0,220.9 186.0,219.8 187.0,218.6 188.0,217.3 189.0,216.0 190.0,214.9 191.0,213.9 192.0,213.3 193.0,212.9 194.0,213.0 195.0,213.3 196.0,214.0 197.0,215.0 198.0,216.1 199.0,217.3 200.0,218.6 201.0,219.8 202.0,220.9 203.0,221.9 204.0,222.7 205.0,223.3 206.0,223.7 207.0,223.7 208.0,223.5 209.0,222.9 210.0,222.0 211.0,220.8 212.0,219.4 213.0,217.7 214.0,216.0 215.0,214.3 216.0,212.6 217.0,211.2 218.0,209.9 219.0,208.9 220.0,208.3 221.0,208.0 222.0,208.0 223.0,208.4 224.0,209.1 225.0,210.1 226.0,211.2 227.0,212.5 228.0,213.8 229.0,215.2 230.0,216.5 231.0,217.7 232.0,218.7 233.0,219.6 234.0,220.3 235.0,220.9 236.0,221.2 237.0,221.4 238.0,221.4 239.0,221.3 240.0,221.0 241.0,220.6 242.0,220.1 243.0,219.6 244.0,219.0 245.0,218.5" fill="none" stroke="#a8a8a8" stroke-opacity="0.13" stroke-width="0.8" stroke-linejoin="round"/>
<polyline points="167.0,199.6 168.0,200.2 169.0,201.0 170.0,202.0 171.0,203.1 172.0,204.4 173.0,205.8 174.0,207.3 175.0,208.9 176.0,210.5 177.0,212.1 178.0,213.7 179.0,215.2 180.0,216.5 181.0,217.8 182.0,218.9 183.0,219.9 184.0,220.6 185.0,221.2 186.0,221.4 187.0,221.4 188.0,221.1 189.0,220.5 190.0,219.5 191.0,218.3 192.0,217.0 193.0,215.5 194.0,214.1 195.0,212.8 196.0,211.8 197.0,211.0 198.0,210.7 199.0,210.7 200.0,211.1 201.0,211.9 202.0,212.9 203.0,214.2 204.0,215.5 205.0,216.9 206.0,218.3 207.0,219.5 208.0,220.7 209.0,221.6 210.0,222.2 211.0,222.6 212.0,222.7 213.0,222.4 214.0,221.7 215.0,220.7 216.0,219.4 217.0,217.8 218.0,216.0 219.0,214.1 220.0,212.2 221.0,210.4 222.0,208.7 223.0,207.3 224.0,206.2 225.0,205.5 226.0,205.2 227.0,205.2 228.0,205.7 229.0,206.4 230.0,207.5 231.0,208.8 232.0,210.2 233.0,211.7 234.0,213.2 235.0,214.6 236.0,215.9 237.0,217.1 238.0,218.1 239.0,218.9 240.0,219.5 241.0,219.9 242.0,220.1 243.0,220.1 244.0,219.9 245.0,219.6 246.0,219.2 247.0,218.6 248.0,218.1 249.0,217.5 250.0,216.9" fill="none" stroke="#a8a8a8" stroke-opacity="0.13" stroke-width="0.8" stroke-linejoin="round"/>
<polyline points="165.1,198.2 166.1,198.9 167.1,199.7 168.1,200.7 169.1,201.9 170.1,203.3 171.1,204.8 172.1,206.4 173.1,208.1 174.1,209.8 175.1,211.5 176.1,213.2 177.1,214.7 178.1,216.2 179.1,217.5 180.1,218.7 181.1,219.7 182.1,220.5 183.1,221.1 184.1,221.4 185.1,221.4 186.1,221.1 187.1,220.4 188.1,219.4 189.1,218.1 190.1,216.7 191.1,215.1 192.1,213.6 193.1,212.2 194.1,211.1 195.1,210.3 196.1,210.0 197.1,210.0 198.1,210.5 199.1,211.3 200.1,212.4 201.1,213.7 202.1,215.1 203.1,216.6 204.1,218.1 205.1,219.4 206.1,220.6 207.1,221.6 208.1,222.3 209.1,222.6 210.1,222.7 211.1,222.4 212.1,221.7 213.1,220.6 214.1,219.2 215.1,217.5 216.1,215.6 217.1,213.6 218.1,211.6 219.1,209.6 220.1,207.9 221.1,206.4 222.1,205.2 223.1,204.5 224.1,204.1 225.1,204.2 226.1,204.6 227.1,205.5 228.1,206.6 229.1,207.9 230.1,209.5 231.1,211.0 232.1,212.6 233.1,214.1 234.1,215.5 235.1,216.8 236.1,217.8 237.1,218.7 238.1,219.3 239.1,219.7 240.1,220.0 241.1,220.0 242.1,219.8 243.1,219.5 244.1,219.0 245.1,218.4 246.1,217.8 247.1,217.2 248.1,216.6" fill="none" stroke="#a8a8a8" stroke-opacity="0.13" stroke-width="0.8" stroke-linejoin="round"/>
<polyline points="163.8,192.0 164.8,192.7 165.8,193.7 166.8,194.8 167.8,196.2 168.8,197.8 169.8,199.6 170.8,201.5 171.8,203.5 172.8,205.5 173.8,207.4 174.8,209.4 175.8,211.2 176.8,212.9 177.8,214.4 178.8,215.8 179.8,217.0 180.8,217.9 181.8,218.6 182.8,218.9 183.8,218.9 184.8,218.5 185.8,217.7 186.8,216.6 187.8,215.1 188.8,213.4 189.8,211.6 190.8,209.9 191.8,208.3 192.8,207.0 193.8,206.1 194.8,205.6 195.8,205.7 196.8,206.2 197.8,207.1 198.8,208.4 199.8,209.9 200.8,211.6 201.8,213.3 202.8,215.0 203.8,216.6 204.8,218.0 205.8,219.1 206.8,219.9 207.8,220.4 208.8,220.4 209.8,220.1 210.8,219.3 211.8,218.0 212.8,216.4 213.8,214.4 214.8,212.2 215.8,209.9 216.8,207.5 217.8,205.2 218.8,203.2 219.8,201.5 220.8,200.1 221.8,199.2 222.8,198.8 223.8,198.9 224.8,199.4 225.8,200.4 226.8,201.7 227.8,203.3 228.8,205.0 229.8,206.9 230.8,208.7 231.8,210.5 232.8,212.1 233.8,213.6 234.8,214.8 235.8,215.8 236.8,216.5 237.8,217.0 238.8,217.3 239.8,217.3 240.8,217.1 241.8,216.7 242.8,216.1 243.8,215.5 244.8,214.8 245.8,214.0 246.8,213.3" fill="none" stroke="#a8a8a8" stroke-opacity="0.13" stroke-width="0.8" stroke-linejoin="round"/>
<polyline points="166.6,203.4 167.6,203.9 168.6,204.5 169.6,205.3 170.6,206.3 171.6,207.3 172.6,208.5 173.6,209.8 174.6,211.1 175.6,212.5 176.6,213.8 177.6,215.1 178.6,216.3 179.6,217.5 180.6,218.5 181.6,219.5 182.6,220.3 183.6,220.9 184.6,221.3 185.6,221.6 186.6,221.6 187.6,221.3 188.6,220.8 189.6,220.0 190.6,219.0 191.6,217.8 192.6,216.6 193.6,215.4 194.6,214.4 195.6,213.5 196.6,212.9 197.6,212.6 198.6,212.6 199.6,213.0 200.6,213.6 201.6,214.5 202.6,215.5 203.6,216.6 204.6,217.8 205.6,218.9 206.6,220.0 207.6,220.9 208.6,221.7 209.6,222.2 210.6,222.5 211.6,222.6 212.6,222.3 213.6,221.8 214.6,221.0 215.6,219.9 216.6,218.5 217.6,217.0 218.6,215.5 219.6,213.9 220.6,212.3 221.6,211.0 222.6,209.8 223.6,208.9 224.6,208.3 225.6,208.0 226.6,208.1 227.6,208.4 228.6,209.1 229.6,210.0 230.6,211.0 231.6,212.2 232.6,213.4 233.6,214.7 234.6,215.9 235.6,217.0 236.6,217.9 237.6,218.8 238.6,219.4 239.6,219.9 240.6,220.3 241.6,220.4 242.6,220.4 243.6,220.3 244.6,220.0 245.6,219.7 246.6,219.2 247.6,218.8 248.6,218.3 249.6,217.8" fill="none" stroke="#a8a8a8" stroke-opacity="0.13" stroke-width="0.8" stroke-linejoin="round"/>
<polyline points="161.7,200.8 162.7,201.4 163.7,202.1 164.7,203.1 165.7,204.2 166.7,205.5 167.7,206.9 168.7,208.4 169.7,210.0 170.7,211.6 171.7,213.2 172.7,214.7 173.7,216.2 174.7,217.5 175.7,218.8 176.7,219.9 177.7,220.8 178.7,221.6 179.7,222.1 180.7,222.4 181.7,222.4 182.7,222.1 183.7,221.4 184.7,220.5 185.7,219.3 186.7,218.0 187.7,216.5 188.7,215.1 189.7,213.8 190.7,212.8 191.7,212.1 192.7,211.7 193.7,211.8 194.7,212.2 195.7,212.9 196.7,214.0 197.7,215.2 198.7,216.5 199.7,217.9 200.7,219.3 201.7,220.5 202.7,221.6 203.7,222.5 204.7,223.2 205.7,223.6 206.7,223.6 207.7,223.3 208.7,222.7 209.7,221.7 210.7,220.4 211.7,218.8 212.7,217.0 213.7,215.1 214.7,213.2 215.7,211.4 216.7,209.8 217.7,208.4 218.7,207.3 219.7,206.6 220.7,206.3 221.7,206.3 222.7,206.8 223.7,207.5 224.7,208.6 225.7,209.8 226.7,211.3 227.7,212.7 228.7,214.2 229.7,215.6 230.7,216.9 231.7,218.1 232.7,219.1 233.7,219.9 234.7,220.5 235.7,220.9 236.7,221.1 237.7,221.1 238.7,220.9 239.7,220.6 240.7,220.1 241.7,219.6 242.7,219.1 243.7,218.5 244.7,217.9" fill="none" stroke="#a8a8a8" stroke-opacity="0.13" stroke-width="0.8" stroke-linejoin="round"/>
<polyline points="168.1,190.7 169.1,191.5 170.1,192.4 171.1,193.6 172.1,194.9 173.1,196.5 174.1,198.3 175.1,200.1 176.1,202.1 177.1,204.1 178.1,206.0 179.1,207.9 180.1,209.7 181.1,211.4 182.1,212.9 183.1,214.3 184.1,215.5 185.1,216.4 186.1,217.0 187.1,217.4 188.1,217.4 189.1,217.0 190.1,216.2 191.1,215.0 192.1,213.6 193.1,211.9 194.1,210.2 195.1,208.4 196.1,206.8 197.1,205.6 198.1,204.7 199.1,204.2 200.1,204.3 201.1,204.8 202.1,205.7 203.1,207.0 204.1,208.5 205.1,210.1 206.1,211.9 207.1,213.5 208.1,215.1 209.1,216.4 210.1,217.6 211.1,218.4 212.1,218.8 213.1,218.9 214.1,218.5 215.1,217.7 216.1,216.5 217.1,214.9 218.1,212.9 219.1,210.8 220.1,208.4 221.1,206.1 222.1,203.9 223.1,201.8 224.1,200.1 225.1,198.8 226.1,197.9 227.1,197.5 228.1,197.6 229.1,198.1 230.1,199.1 231.1,200.3 232.1,201.9 233.1,203.6 234.1,205.5 235.1,207.3 236.1,209.0 237.1,210.6 238.1,212.1 239.1,213.3 240.1,214.3 241.1,215.0 242.1,215.5 243.1,215.7 244.1,215.7 245.1,215.5 246.1,215.1 247.1,214.6 248.1,214.0 249.1,213.3 250.1,212.5 251.1,211.8" fill="none" stroke="#a8a8a8" stroke-opacity="0.13" stroke-width="0.8" stroke-linejoin="round"/>
<line x1="223.5" x2="223.5" y1="188.0" y2="206.3" stroke="#bdbdbd" stroke-opacity="0.4" stroke-width="0.7"/>
<line x1="222.0" x2="222.0" y1="186.6" y2="207.3" stroke="#bdbdbd" stroke-opacity="0.4" stroke-width="0.7"/>
<line x1="224.0" x2="224.0" y1="197.4" y2="206.2" stroke="#bdbdbd" stroke-opacity="0.4" stroke-width="0.7"/>
<line x1="224.5" x2="224.5" y1="195.5" y2="206.2" stroke="#bdbdbd" stroke-opacity="0.4" stroke-width="0.7"/>
<line x1="166.5" x2="166.5" y1="193.2" y2="201.4" stroke="#bdbdbd" stroke-opacity="0.4" stroke-width="0.7"/>
<line x1="223.5" x2="223.5" y1="189.8" y2="206.3" stroke="#bdbdbd" stroke-opacity="0.4" stroke-width="0.7"/>
<line x1="170.5" x2="170.5" y1="187.6" y2="206.1" stroke="#bdbdbd" stroke-opacity="0.4" stroke-width="0.7"/>
<line x1="225.0" x2="225.0" y1="189.7" y2="206.2" stroke="#bdbdbd" stroke-opacity="0.4" stroke-width="0.7"/>
<line x1="167.0" x2="167.0" y1="181.7" y2="201.8" stroke="#bdbdbd" stroke-opacity="0.4" stroke-width="0.7"/>
<line x1="171.5" x2="171.5" y1="189.9" y2="207.6" stroke="#bdbdbd" stroke-opacity="0.4" stroke-width="0.7"/>
<line x1="168.0" x2="168.0" y1="189.0" y2="202.8" stroke="#bdbdbd" stroke-opacity="0.4" stroke-width="0.7"/>
<line x1="223.5" x2="223.5" y1="191.2" y2="206.3" stroke="#bdbdbd" stroke-opacity="0.4" stroke-width="0.7"/>
<line x1="223.0" x2="223.0" y1="185.9" y2="206.5" stroke="#bdbdbd" stroke-opacity="0.4" stroke-width="0.7"/>
<line x1="170.0" x2="170.0" y1="194.1" y2="205.3" stroke="#bdbdbd" stroke-opacity="0.4" stroke-width="0.7"/>
<line x1="221.0" x2="221.0" y1="194.7" y2="208.4" stroke="#bdbdbd" stroke-opacity="0.4" stroke-width="0.7"/>
<line x1="171.5" x2="171.5" y1="196.1" y2="207.6" stroke="#bdbdbd" stroke-opacity="0.4" stroke-width="0.7"/>
<line x1="169.0" x2="169.0" y1="185.9" y2="204.0" stroke="#bdbdbd" stroke-opacity="0.4" stroke-width="0.7"/>
<line x1="224.5" x2="224.5" y1="185.5" y2="206.2" stroke="#bdbdbd" stroke-opacity="0.4" stroke-width="0.7"/>
<line x1="172.0" x2="172.0" y1="200.2" y2="208.4" stroke="#bdbdbd" stroke-opacity="0.4" stroke-width="0.7"/>
<line x1="222.5" x2="222.5" y1="190.2" y2="206.8" stroke="#bdbdbd" stroke-opacity="0.4" stroke-width="0.7"/>
<line x1="227.0" x2="227.0" y1="189.8" y2="207.5" stroke="#bdbdbd" stroke-opacity="0.4" stroke-width="0.7"/>
<line x1="169.5" x2="169.5" y1="187.6" y2="204.6" stroke="#bdbdbd" stroke-opacity="0.4" stroke-width="0.7"/>
<line x1="222.5" x2="222.5" y1="194.4" y2="206.8" stroke="#bdbdbd" stroke-opacity="0.4" stroke-width="0.7"/>
<line x1="225.0" x2="225.0" y1="189.0" y2="206.2" stroke="#bdbdbd" stroke-opacity="0.4" stroke-width="0.7"/>
<line x1="165.5" x2="165.5" y1="189.6" y2="200.7" stroke="#bdbdbd" stroke-opacity="0.4" stroke-width="0.7"/>
<line x1="222.0" x2="222.0" y1="197.5" y2="207.3" stroke="#bdbdbd" stroke-opacity="0.4" stroke-width="0.7"/>
<line x1="166.5" x2="166.5" y1="189.1" y2="201.4" stroke="#bdbdbd" stroke-opacity="0.4" stroke-width="0.7"/>
<line x1="226.5" x2="226.5" y1="187.3" y2="207.0" stroke="#bdbdbd" stroke-opacity="0.4" stroke-width="0.7"/>
<line x1="170.0" x2="170.0" y1="191.5" y2="205.3" stroke="#bdbdbd" stroke-opacity="0.4" stroke-width="0.7"/>
<line x1="169.0" x2="169.0" y1="192.9" y2="204.0" stroke="#bdbdbd" stroke-opacity="0.4" stroke-width="0.7"/>
<line x1="225.0" x2="225.0" y1="195.1" y2="206.2" stroke="#bdbdbd" stroke-opacity="0.4" stroke-width="0.7"/>
<line x1="221.0" x2="221.0" y1="194.1" y2="208.4" stroke="#bdbdbd" stroke-opacity="0.4" stroke-width="0.7"/>
<line x1="168.0" x2="168.0" y1="185.0" y2="202.8" stroke="#bdbdbd" stroke-opacity="0.4" stroke-width="0.7"/>
<line x1="169.5" x2="169.5" y1="193.7" y2="204.6" stroke="#bdbdbd" stroke-opacity="0.4" stroke-width="0.7"/>
<line x1="169.0" x2="169.0" y1="186.2" y2="204.0" stroke="#bdbdbd" stroke-opacity="0.4" stroke-width="0.7"/>
<line x1="223.5" x2="223.5" y1="190.3" y2="206.3" stroke="#bdbdbd" stroke-opacity="0.4" stroke-width="0.7"/>
<line x1="172.0" x2="172.0" y1="194.5" y2="208.4" stroke="#bdbdbd" stroke-opacity="0.4" stroke-width="0.7"/>
<line x1="167.5" x2="167.5" y1="189.5" y2="202.3" stroke="#bdbdbd" stroke-opacity="0.4" stroke-width="0.7"/>
<line x1="170.5" x2="170.5" y1="187.0" y2="206.1" stroke="#bdbdbd" stroke-opacity="0.4" stroke-width="0.7"/>
<line x1="170.5" x2="170.5" y1="193.5" y2="206.1" stroke="#bdbdbd" stroke-opacity="0.4" stroke-width="0.7"/>
<line x1="165.0" x2="165.0" y1="187.5" y2="200.4" stroke="#bdbdbd" stroke-opacity="0.4" stroke-width="0.7"/>
<line x1="227.5" x2="227.5" y1="187.2" y2="208.0" stroke="#bdbdbd" stroke-opacity="0.4" stroke-width="0.7"/>
<line x1="221.0" x2="221.0" y1="196.9" y2="208.4" stroke="#bdbdbd" stroke-opacity="0.4" stroke-width="0.7"/>
<line x1="227.0" x2="227.0" y1="195.6" y2="207.5" stroke="#bdbdbd" stroke-opacity="0.4" stroke-width="0.7"/>
<line x1="170.5" x2="170.5" y1="197.4" y2="206.1" stroke="#bdbdbd" stroke-opacity="0.4" stroke-width="0.7"/>
<line x1="166.0" x2="166.0" y1="183.3" y2="201.0" stroke="#bdbdbd" stroke-opacity="0.4" stroke-width="0.7"/>
<line x1="227.5" x2="227.5" y1="196.3" y2="208.0" stroke="#bdbdbd" stroke-opacity="0.4" stroke-width="0.7"/>
<line x1="226.0" x2="226.0" y1="195.5" y2="206.7" stroke="#bdbdbd" stroke-opacity="0.4" stroke-width="0.7"/>
<line x1="221.5" x2="221.5" y1="190.1" y2="207.8" stroke="#bdbdbd" stroke-opacity="0.4" stroke-width="0.7"/>
<line x1="226.5" x2="226.5" y1="197.8" y2="207.0" stroke="#bdbdbd" stroke-opacity="0.4" stroke-width="0.7"/>
<polyline points="165.0,195.2 165.6,196.0 166.1,194.2 166.6,197.7 167.2,198.5 167.3,197.6 167.4,196.7 167.5,195.8 167.6,194.9 167.8,194.0 167.9,193.1 168.0,192.2 168.1,191.3 168.2,190.5 168.3,189.6 168.4,188.7 168.6,187.8 168.7,186.9 168.8,186.0 168.9,185.1 169.0,184.2 169.0,185.1 169.1,186.0 169.1,186.9 169.2,187.8 169.2,188.7 169.3,189.6 169.3,190.5 169.4,191.4 169.4,192.4 169.5,193.3 169.5,194.2 169.6,195.1 169.6,196.0 169.7,196.9 169.7,197.8 169.8,198.7 169.8,199.6 170.2,200.4 170.5,201.5 170.9,202.3 171.2,203.0 171.6,204.0 172.0,204.9 172.3,206.0 172.7,205.4 173.1,207.9 173.4,206.4 173.8,209.5 174.2,210.6 174.7,211.4 175.1,212.3 175.6,213.2 176.0,213.9 176.7,214.8 177.3,215.4 178.0,216.1 178.6,216.3 179.3,217.2 179.9,218.0 180.4,217.1 180.9,219.5 181.5,220.5 182.2,221.0 183.0,222.0 183.7,222.7 184.1,222.3 184.6,225.0 184.8,223.8 185.0,222.5 185.5,223.1 186.0,224.3 186.5,225.3 187.0,226.0 188.1,225.7 189.2,224.9 189.3,224.0 189.5,223.1 189.6,222.2 189.8,221.3 189.9,220.4 190.0,219.5 190.2,218.6 190.3,217.8 190.4,216.9 190.6,216.0 190.7,215.1 190.8,214.2 191.0,213.3 191.1,212.4 191.3,211.5 191.4,210.6 191.7,209.6 191.9,208.7 192.2,207.7 192.5,206.8 192.8,205.8 193.1,204.8 193.3,203.9 193.6,202.9 194.0,201.9 194.3,200.7 194.7,199.6 194.9,198.7 195.1,197.8 195.2,196.8 195.4,195.9 195.6,195.0 195.8,194.1 195.9,195.1 196.0,196.1 196.2,197.0 196.3,198.0 196.4,199.0 196.5,200.0 196.7,200.9 196.8,201.9 196.9,202.9 197.4,204.0 198.0,204.8 198.6,203.6 199.1,206.2 199.4,205.1 199.7,208.1 200.0,208.9 200.4,210.0 200.7,211.2 201.0,210.0 201.3,212.8 201.7,213.8 202.0,214.7 202.4,215.4 202.8,216.3 203.1,217.3 203.5,218.3 204.1,218.8 204.6,220.0 205.2,218.2 205.7,221.4 206.2,222.0 206.8,222.7 207.9,223.1 209.0,223.8 209.8,224.5 210.7,224.9 211.5,222.9 212.3,226.0 213.4,226.7 214.5,227.1 214.6,226.2 214.7,225.3 214.9,224.3 215.0,223.4 215.1,222.5 215.2,221.6 215.4,220.7 215.5,219.8 215.6,218.8 215.7,217.9 215.8,217.0 216.0,216.1 216.1,215.2 216.2,214.3 216.3,213.3 216.5,212.4 216.6,211.5 216.7,210.6 217.0,209.8 217.3,208.9 217.6,207.7 218.0,206.9 218.3,205.9 218.6,205.1 218.9,204.0 219.7,203.5 220.6,201.8 221.4,202.2 222.2,201.8 222.3,200.9 222.3,200.0 222.4,199.1 222.4,198.1 222.5,197.2 222.6,196.3 222.6,195.4 222.7,194.5 222.8,193.6 222.8,192.6 222.9,191.7 222.9,190.8 223.0,189.9 223.1,189.0 223.1,188.1 223.2,187.1 223.2,186.2 223.3,185.3 223.4,186.2 223.4,187.1 223.5,188.1 223.5,189.0 223.6,189.9 223.7,190.8 223.7,191.7 223.8,192.6 223.9,193.6 223.9,194.5 224.0,195.4 224.0,196.3 224.1,197.2 224.2,198.1 224.2,199.1 224.3,200.0 224.3,200.9 224.4,201.8 224.5,200.9 224.7,200.0 224.8,199.1 224.9,198.2 225.1,197.3 225.2,196.4 225.4,195.5 225.5,194.7 225.6,193.8 225.8,192.9 225.9,192.0 226.1,191.1 226.2,190.2 226.3,189.3 226.5,188.4 226.6,187.5 226.7,188.4 226.7,189.3 226.8,190.2 226.9,191.1 226.9,192.0 227.0,192.9 227.1,193.8 227.1,194.7 227.2,195.7 227.2,196.6 227.3,197.5 227.4,198.4 227.4,199.3 227.5,200.2 227.6,201.1 227.6,202.0 227.7,202.9 228.1,203.5 228.4,204.6 228.8,204.2 229.2,206.7 229.5,204.6 229.9,208.4 230.3,207.5 230.6,210.4 231.0,208.5 231.4,212.2 231.7,213.0 232.1,213.9 232.7,212.4 233.2,215.5 233.8,215.9 234.3,216.9 234.8,217.6 235.4,218.3 236.2,219.0 237.1,216.7 237.9,220.0 238.7,220.5 239.4,219.3 240.2,221.8 240.9,222.7 241.6,222.2 242.4,221.0 243.1,220.5 243.7,219.4 244.2,218.9 244.8,218.1 245.3,217.2 245.6,216.3 245.9,215.5 246.2,214.5 246.6,213.4 246.9,211.5 247.2,211.4 247.5,210.6 248.2,209.3 249.0,208.4" fill="none" stroke="#22a3a6" stroke-width="1.05" stroke-linejoin="round"/>
<polygon points="279.3,183.4 280.3,184.5 281.3,185.8 282.3,187.3 283.3,189.1 284.3,191.1 285.3,193.4 286.3,195.8 287.3,198.3 288.3,200.9 289.3,203.4 290.3,205.9 291.3,208.2 292.3,210.4 293.3,212.3 294.3,213.9 295.3,215.3 296.3,216.4 297.3,217.1 298.3,217.5 299.3,217.6 300.3,217.3 301.3,216.6 302.3,215.6 303.3,214.3 304.3,212.8 305.3,211.1 306.3,209.4 307.3,207.8 308.3,206.4 309.3,205.4 310.3,204.7 311.3,204.5 312.3,204.7 313.3,205.3 314.3,206.2 315.3,207.4 316.3,208.8 317.3,210.3 318.3,211.8 319.3,213.2 320.3,214.5 321.3,215.6 322.3,216.5 323.3,217.1 324.3,217.5 325.3,217.5 326.3,217.2 327.3,216.6 328.3,215.7 329.3,214.4 330.3,213.0 331.3,211.4 332.3,209.7 333.3,208.0 334.3,206.4 335.3,205.1 336.3,204.0 337.3,203.3 338.3,202.9 339.3,202.9 340.3,203.3 341.3,203.9 342.3,204.8 343.3,205.8 344.3,206.9 345.3,208.1 346.3,209.2 347.3,210.2 348.3,211.2 349.3,212.0 350.3,212.7 351.3,213.3 352.3,213.8 353.3,214.1 354.3,214.3 355.3,214.4 356.3,214.2 357.3,213.9 358.3,213.4 359.3,212.8 360.3,212.0 361.3,211.2 362.3,210.2 362.3,221.8 361.3,222.3 360.3,222.8 359.3,223.3 358.3,223.6 357.3,223.9 356.3,224.1 355.3,224.2 354.3,224.1 353.3,224.0 352.3,223.8 351.3,223.6 350.3,223.2 349.3,222.8 348.3,222.4 347.3,221.8 346.3,221.2 345.3,220.6 344.3,219.9 343.3,219.3 342.3,218.7 341.3,218.2 340.3,217.9 339.3,217.7 338.3,217.7 337.3,217.9 336.3,218.3 335.3,218.9 334.3,219.7 333.3,220.6 332.3,221.5 331.3,222.5 330.3,223.4 329.3,224.2 328.3,224.9 327.3,225.4 326.3,225.8 325.3,225.9 324.3,225.9 323.3,225.7 322.3,225.4 321.3,224.9 320.3,224.2 319.3,223.5 318.3,222.7 317.3,221.8 316.3,221.0 315.3,220.2 314.3,219.6 313.3,219.0 312.3,218.7 311.3,218.6 310.3,218.7 309.3,219.1 308.3,219.7 307.3,220.5 306.3,221.4 305.3,222.3 304.3,223.3 303.3,224.1 302.3,224.9 301.3,225.4 300.3,225.8 299.3,226.0 298.3,226.0 297.3,225.7 296.3,225.3 295.3,224.7 294.3,223.9 293.3,223.0 292.3,221.9 291.3,220.7 290.3,219.4 289.3,218.0 288.3,216.5 287.3,215.1 286.3,213.6 285.3,212.3 284.3,211.0 283.3,209.9 282.3,208.9 281.3,208.0 280.3,207.3 279.3,206.7" fill="#e2e2e2" stroke="#e2e2e2" stroke-width="3" stroke-linejoin="round" filter="url(#bl)"/>
<polyline points="279.3,194.6 280.3,195.4 281.3,196.4 282.3,197.6 283.3,199.1 284.3,200.7 285.3,202.4 286.3,204.4 287.3,206.4 288.3,208.4 289.3,210.4 290.3,212.4 291.3,214.2 292.3,215.9 293.3,217.4 294.3,218.7 295.3,219.8 296.3,220.7 297.3,221.3 298.3,221.6 299.3,221.7 300.3,221.4 301.3,220.9 302.3,220.1 303.3,219.1 304.3,217.9 305.3,216.5 306.3,215.2 307.3,213.9 308.3,212.8 309.3,212.0 310.3,211.5 311.3,211.3 312.3,211.4 313.3,211.9 314.3,212.6 315.3,213.6 316.3,214.7 317.3,215.9 318.3,217.0 319.3,218.2 320.3,219.2 321.3,220.1 322.3,220.8 323.3,221.3 324.3,221.6 325.3,221.6 326.3,221.4 327.3,220.9 328.3,220.1 329.3,219.2 330.3,218.0 331.3,216.7 332.3,215.4 333.3,214.1 334.3,212.8 335.3,211.7 336.3,210.9 337.3,210.3 338.3,210.0 339.3,210.0 340.3,210.3 341.3,210.8 342.3,211.5 343.3,212.3 344.3,213.2 345.3,214.1 346.3,215.0 347.3,215.8 348.3,216.6 349.3,217.2 350.3,217.8 351.3,218.3 352.3,218.6 353.3,218.9 354.3,219.1 355.3,219.1 356.3,219.0 357.3,218.8 358.3,218.4 359.3,217.9 360.3,217.3 361.3,216.6 362.3,215.8" fill="none" stroke="#dadada" stroke-width="12" stroke-linejoin="round" stroke-linecap="butt" filter="url(#bl)"/>
<polyline points="279.3,194.6 280.3,195.4 281.3,196.4 282.3,197.6 283.3,199.1 284.3,200.7 285.3,202.4 286.3,204.4 287.3,206.4 288.3,208.4 289.3,210.4 290.3,212.4 291.3,214.2 292.3,215.9 293.3,217.4 294.3,218.7 295.3,219.8 296.3,220.7 297.3,221.3 298.3,221.6 299.3,221.7 300.3,221.4 301.3,220.9 302.3,220.1 303.3,219.1 304.3,217.9 305.3,216.5 306.3,215.2 307.3,213.9 308.3,212.8 309.3,212.0 310.3,211.5 311.3,211.3 312.3,211.4 313.3,211.9 314.3,212.6 315.3,213.6 316.3,214.7 317.3,215.9 318.3,217.0 319.3,218.2 320.3,219.2 321.3,220.1 322.3,220.8 323.3,221.3 324.3,221.6 325.3,221.6 326.3,221.4 327.3,220.9 328.3,220.1 329.3,219.2 330.3,218.0 331.3,216.7 332.3,215.4 333.3,214.1 334.3,212.8 335.3,211.7 336.3,210.9 337.3,210.3 338.3,210.0 339.3,210.0 340.3,210.3 341.3,210.8 342.3,211.5 343.3,212.3 344.3,213.2 345.3,214.1 346.3,215.0 347.3,215.8 348.3,216.6 349.3,217.2 350.3,217.8 351.3,218.3 352.3,218.6 353.3,218.9 354.3,219.1 355.3,219.1 356.3,219.0 357.3,218.8 358.3,218.4 359.3,217.9 360.3,217.3 361.3,216.6 362.3,215.8" fill="none" stroke="#c9c9c9" stroke-width="5.5" stroke-linejoin="round" stroke-linecap="butt" filter="url(#bl)"/>
<polyline points="276.9,196.4 277.9,197.2 278.9,198.1 279.9,199.3 280.9,200.6 281.9,202.1 282.9,203.8 283.9,205.6 284.9,207.5 285.9,209.4 286.9,211.3 287.9,213.1 288.9,214.8 289.9,216.4 290.9,217.8 291.9,219.1 292.9,220.1 293.9,220.9 294.9,221.4 295.9,221.7 296.9,221.8 297.9,221.6 298.9,221.1 299.9,220.3 300.9,219.4 301.9,218.2 302.9,217.0 303.9,215.7 304.9,214.5 305.9,213.5 306.9,212.7 307.9,212.2 308.9,212.1 309.9,212.2 310.9,212.6 311.9,213.3 312.9,214.2 313.9,215.3 314.9,216.4 315.9,217.5 316.9,218.5 317.9,219.5 318.9,220.3 319.9,221.0 320.9,221.5 321.9,221.7 322.9,221.7 323.9,221.5 324.9,221.1 325.9,220.4 326.9,219.5 327.9,218.4 328.9,217.2 329.9,215.9 330.9,214.7 331.9,213.5 332.9,212.5 333.9,211.7 334.9,211.2 335.9,210.9 336.9,210.9 337.9,211.2 338.9,211.6 339.9,212.3 340.9,213.0 341.9,213.9 342.9,214.7 343.9,215.5 344.9,216.3 345.9,217.0 346.9,217.7 347.9,218.2 348.9,218.6 349.9,219.0 350.9,219.2 351.9,219.4 352.9,219.4 353.9,219.3 354.9,219.1 355.9,218.7 356.9,218.2 357.9,217.7 358.9,217.0 359.9,216.3" fill="none" stroke="#a8a8a8" stroke-opacity="0.13" stroke-width="0.8" stroke-linejoin="round"/>
<polyline points="281.1,197.2 282.1,197.9 283.1,198.9 284.1,200.0 285.1,201.4 286.1,202.9 287.1,204.5 288.1,206.3 289.1,208.2 290.1,210.1 291.1,212.0 292.1,213.8 293.1,215.5 294.1,217.1 295.1,218.5 296.1,219.7 297.1,220.8 298.1,221.6 299.1,222.1 300.1,222.4 301.1,222.5 302.1,222.3 303.1,221.8 304.1,221.0 305.1,220.1 306.1,218.9 307.1,217.7 308.1,216.4 309.1,215.2 310.1,214.2 311.1,213.4 312.1,212.9 313.1,212.8 314.1,212.9 315.1,213.4 316.1,214.1 317.1,214.9 318.1,216.0 319.1,217.1 320.1,218.2 321.1,219.2 322.1,220.2 323.1,221.0 324.1,221.7 325.1,222.1 326.1,222.4 327.1,222.4 328.1,222.2 329.1,221.7 330.1,221.0 331.1,220.1 332.1,219.1 333.1,217.9 334.1,216.6 335.1,215.4 336.1,214.2 337.1,213.2 338.1,212.4 339.1,211.9 340.1,211.6 341.1,211.6 342.1,211.9 343.1,212.3 344.1,213.0 345.1,213.7 346.1,214.6 347.1,215.4 348.1,216.2 349.1,217.0 350.1,217.7 351.1,218.3 352.1,218.9 353.1,219.3 354.1,219.7 355.1,219.9 356.1,220.0 357.1,220.1 358.1,220.0 359.1,219.8 360.1,219.4 361.1,218.9 362.1,218.4 363.1,217.7 364.1,217.0" fill="none" stroke="#a8a8a8" stroke-opacity="0.13" stroke-width="0.8" stroke-linejoin="round"/>
<polyline points="280.4,196.7 281.4,197.5 282.4,198.4 283.4,199.6 284.4,200.9 285.4,202.4 286.4,204.0 287.4,205.7 288.4,207.6 289.4,209.4 290.4,211.3 291.4,213.1 292.4,214.8 293.4,216.3 294.4,217.7 295.4,218.9 296.4,219.9 297.4,220.7 298.4,221.3 299.4,221.6 300.4,221.6 301.4,221.4 302.4,220.9 303.4,220.2 304.4,219.2 305.4,218.1 306.4,216.9 307.4,215.7 308.4,214.5 309.4,213.5 310.4,212.7 311.4,212.2 312.4,212.1 313.4,212.2 314.4,212.7 315.4,213.3 316.4,214.2 317.4,215.2 318.4,216.3 319.4,217.4 320.4,218.4 321.4,219.3 322.4,220.2 323.4,220.8 324.4,221.3 325.4,221.5 326.4,221.5 327.4,221.3 328.4,220.9 329.4,220.2 330.4,219.3 331.4,218.3 332.4,217.1 333.4,215.9 334.4,214.6 335.4,213.5 336.4,212.5 337.4,211.7 338.4,211.2 339.4,210.9 340.4,210.9 341.4,211.2 342.4,211.6 343.4,212.3 344.4,213.0 345.4,213.8 346.4,214.7 347.4,215.5 348.4,216.2 349.4,216.9 350.4,217.5 351.4,218.1 352.4,218.5 353.4,218.8 354.4,219.1 355.4,219.2 356.4,219.3 357.4,219.2 358.4,218.9 359.4,218.6 360.4,218.1 361.4,217.6 362.4,216.9 363.4,216.3" fill="none" stroke="#a8a8a8" stroke-opacity="0.13" stroke-width="0.8" stroke-linejoin="round"/>
<polyline points="279.8,197.4 280.8,198.2 281.8,199.1 282.8,200.3 283.8,201.6 284.8,203.1 285.8,204.8 286.8,206.6 287.8,208.5 288.8,210.4 289.8,212.3 290.8,214.1 291.8,215.9 292.8,217.4 293.8,218.9 294.8,220.1 295.8,221.1 296.8,221.9 297.8,222.5 298.8,222.8 299.8,222.8 300.8,222.6 301.8,222.1 302.8,221.4 303.8,220.4 304.8,219.3 305.8,218.0 306.8,216.7 307.8,215.6 308.8,214.5 309.8,213.7 310.8,213.3 311.8,213.1 312.8,213.2 313.8,213.7 314.8,214.4 315.8,215.3 316.8,216.3 317.8,217.4 318.8,218.5 319.8,219.6 320.8,220.5 321.8,221.4 322.8,222.0 323.8,222.5 324.8,222.7 325.8,222.8 326.8,222.6 327.8,222.1 328.8,221.4 329.8,220.5 330.8,219.4 331.8,218.2 332.8,216.9 333.8,215.7 334.8,214.5 335.8,213.5 336.8,212.7 337.8,212.2 338.8,211.9 339.8,211.9 340.8,212.2 341.8,212.6 342.8,213.3 343.8,214.1 344.8,214.9 345.8,215.7 346.8,216.6 347.8,217.3 348.8,218.1 349.8,218.7 350.8,219.2 351.8,219.7 352.8,220.0 353.8,220.3 354.8,220.4 355.8,220.4 356.8,220.3 357.8,220.1 358.8,219.7 359.8,219.3 360.8,218.7 361.8,218.0 362.8,217.4" fill="none" stroke="#a8a8a8" stroke-opacity="0.13" stroke-width="0.8" stroke-linejoin="round"/>
<polyline points="282.4,195.3 283.4,196.1 284.4,197.1 285.4,198.3 286.4,199.7 287.4,201.3 288.4,203.1 289.4,204.9 290.4,206.9 291.4,208.9 292.4,210.9 293.4,212.8 294.4,214.6 295.4,216.3 296.4,217.8 297.4,219.1 298.4,220.2 299.4,221.0 300.4,221.6 301.4,221.9 302.4,222.0 303.4,221.7 304.4,221.2 305.4,220.4 306.4,219.4 307.4,218.2 308.4,216.9 309.4,215.6 310.4,214.3 311.4,213.3 312.4,212.4 313.4,211.9 314.4,211.7 315.4,211.9 316.4,212.4 317.4,213.1 318.4,214.0 319.4,215.1 320.4,216.3 321.4,217.4 322.4,218.5 323.4,219.5 324.4,220.4 325.4,221.1 326.4,221.6 327.4,221.9 328.4,221.9 329.4,221.7 330.4,221.2 331.4,220.5 332.4,219.5 333.4,218.4 334.4,217.1 335.4,215.8 336.4,214.5 337.4,213.3 338.4,212.2 339.4,211.4 340.4,210.8 341.4,210.5 342.4,210.5 343.4,210.8 344.4,211.3 345.4,212.0 346.4,212.8 347.4,213.6 348.4,214.5 349.4,215.4 350.4,216.2 351.4,217.0 352.4,217.6 353.4,218.2 354.4,218.6 355.4,219.0 356.4,219.3 357.4,219.4 358.4,219.4 359.4,219.3 360.4,219.1 361.4,218.7 362.4,218.2 363.4,217.6 364.4,216.9 365.4,216.2" fill="none" stroke="#a8a8a8" stroke-opacity="0.13" stroke-width="0.8" stroke-linejoin="round"/>
<polyline points="277.5,205.4 278.5,206.0 279.5,206.8 280.5,207.7 281.5,208.7 282.5,209.9 283.5,211.3 284.5,212.7 285.5,214.2 286.5,215.7 287.5,217.2 288.5,218.7 289.5,220.0 290.5,221.3 291.5,222.4 292.5,223.4 293.5,224.2 294.5,224.9 295.5,225.3 296.5,225.6 297.5,225.6 298.5,225.4 299.5,225.0 300.5,224.4 301.5,223.7 302.5,222.8 303.5,221.8 304.5,220.8 305.5,219.8 306.5,219.0 307.5,218.4 308.5,218.0 309.5,217.8 310.5,218.0 311.5,218.3 312.5,218.9 313.5,219.6 314.5,220.4 315.5,221.3 316.5,222.1 317.5,223.0 318.5,223.8 319.5,224.4 320.5,224.9 321.5,225.3 322.5,225.5 323.5,225.5 324.5,225.4 325.5,225.0 326.5,224.5 327.5,223.7 328.5,222.9 329.5,221.9 330.5,220.9 331.5,219.9 332.5,219.0 333.5,218.2 334.5,217.6 335.5,217.1 336.5,216.9 337.5,216.9 338.5,217.1 339.5,217.5 340.5,218.0 341.5,218.6 342.5,219.3 343.5,220.0 344.5,220.6 345.5,221.2 346.5,221.8 347.5,222.3 348.5,222.7 349.5,223.1 350.5,223.3 351.5,223.5 352.5,223.7 353.5,223.7 354.5,223.6 355.5,223.4 356.5,223.1 357.5,222.8 358.5,222.3 359.5,221.8 360.5,221.2" fill="none" stroke="#a8a8a8" stroke-opacity="0.13" stroke-width="0.8" stroke-linejoin="round"/>
<polyline points="281.0,197.3 282.0,198.1 283.0,199.1 284.0,200.2 285.0,201.5 286.0,203.0 287.0,204.7 288.0,206.5 289.0,208.3 290.0,210.2 291.0,212.1 292.0,214.0 293.0,215.7 294.0,217.3 295.0,218.7 296.0,219.9 297.0,220.9 298.0,221.7 299.0,222.3 300.0,222.6 301.0,222.6 302.0,222.4 303.0,221.9 304.0,221.2 305.0,220.2 306.0,219.1 307.0,217.8 308.0,216.6 309.0,215.4 310.0,214.4 311.0,213.6 312.0,213.1 313.0,212.9 314.0,213.1 315.0,213.5 316.0,214.2 317.0,215.1 318.0,216.1 319.0,217.2 320.0,218.3 321.0,219.4 322.0,220.3 323.0,221.2 324.0,221.8 325.0,222.3 326.0,222.6 327.0,222.6 328.0,222.4 329.0,221.9 330.0,221.2 331.0,220.3 332.0,219.2 333.0,218.0 334.0,216.8 335.0,215.5 336.0,214.4 337.0,213.4 338.0,212.6 339.0,212.0 340.0,211.8 341.0,211.8 342.0,212.0 343.0,212.5 344.0,213.1 345.0,213.9 346.0,214.7 347.0,215.6 348.0,216.4 349.0,217.2 350.0,217.9 351.0,218.5 352.0,219.0 353.0,219.5 354.0,219.8 355.0,220.1 356.0,220.2 357.0,220.2 358.0,220.1 359.0,219.9 360.0,219.6 361.0,219.1 362.0,218.5 363.0,217.9 364.0,217.2" fill="none" stroke="#a8a8a8" stroke-opacity="0.13" stroke-width="0.8" stroke-linejoin="round"/>
<polyline points="279.6,203.2 280.6,203.8 281.6,204.6 282.6,205.6 283.6,206.7 284.6,208.0 285.6,209.4 286.6,210.9 287.6,212.4 288.6,214.0 289.6,215.6 290.6,217.1 291.6,218.6 292.6,219.9 293.6,221.1 294.6,222.1 295.6,223.0 296.6,223.6 297.6,224.1 298.6,224.4 299.6,224.4 300.6,224.2 301.6,223.8 302.6,223.2 303.6,222.4 304.6,221.4 305.6,220.4 306.6,219.3 307.6,218.3 308.6,217.5 309.6,216.8 310.6,216.4 311.6,216.3 312.6,216.4 313.6,216.8 314.6,217.3 315.6,218.1 316.6,218.9 317.6,219.9 318.6,220.8 319.6,221.7 320.6,222.5 321.6,223.2 322.6,223.7 323.6,224.1 324.6,224.3 325.6,224.3 326.6,224.2 327.6,223.8 328.6,223.2 329.6,222.4 330.6,221.5 331.6,220.5 332.6,219.5 333.6,218.4 334.6,217.5 335.6,216.6 336.6,216.0 337.6,215.5 338.6,215.3 339.6,215.3 340.6,215.5 341.6,215.9 342.6,216.4 343.6,217.1 344.6,217.8 345.6,218.5 346.6,219.2 347.6,219.8 348.6,220.4 349.6,220.9 350.6,221.4 351.6,221.7 352.6,222.0 353.6,222.2 354.6,222.4 355.6,222.4 356.6,222.3 357.6,222.1 358.6,221.8 359.6,221.4 360.6,220.9 361.6,220.4 362.6,219.8" fill="none" stroke="#a8a8a8" stroke-opacity="0.13" stroke-width="0.8" stroke-linejoin="round"/>
<polyline points="276.9,197.7 277.9,198.5 278.9,199.5 279.9,200.6 280.9,201.9 281.9,203.4 282.9,205.1 283.9,206.9 284.9,208.8 285.9,210.7 286.9,212.6 287.9,214.4 288.9,216.2 289.9,217.8 290.9,219.2 291.9,220.4 292.9,221.4 293.9,222.2 294.9,222.8 295.9,223.1 296.9,223.2 297.9,222.9 298.9,222.5 299.9,221.7 300.9,220.7 301.9,219.6 302.9,218.3 303.9,217.1 304.9,215.9 305.9,214.9 306.9,214.1 307.9,213.6 308.9,213.4 309.9,213.5 310.9,214.0 311.9,214.7 312.9,215.6 313.9,216.6 314.9,217.7 315.9,218.8 316.9,219.9 317.9,220.8 318.9,221.7 319.9,222.3 320.9,222.8 321.9,223.1 322.9,223.1 323.9,222.9 324.9,222.4 325.9,221.7 326.9,220.8 327.9,219.7 328.9,218.5 329.9,217.3 330.9,216.0 331.9,214.9 332.9,213.9 333.9,213.1 334.9,212.5 335.9,212.2 336.9,212.2 337.9,212.5 338.9,213.0 339.9,213.6 340.9,214.4 341.9,215.2 342.9,216.1 343.9,216.9 344.9,217.7 345.9,218.4 346.9,219.0 347.9,219.5 348.9,220.0 349.9,220.3 350.9,220.6 351.9,220.7 352.9,220.7 353.9,220.7 354.9,220.4 355.9,220.1 356.9,219.6 357.9,219.0 358.9,218.4 359.9,217.7" fill="none" stroke="#a8a8a8" stroke-opacity="0.13" stroke-width="0.8" stroke-linejoin="round"/>
<polyline points="280.8,201.5 281.8,202.2 282.8,203.0 283.8,204.0 284.8,205.1 285.8,206.4 286.8,207.8 287.8,209.3 288.8,210.9 289.8,212.5 290.8,214.1 291.8,215.6 292.8,217.1 293.8,218.4 294.8,219.6 295.8,220.7 296.8,221.5 297.8,222.2 298.8,222.7 299.8,222.9 300.8,223.0 301.8,222.8 302.8,222.4 303.8,221.8 304.8,220.9 305.8,220.0 306.8,218.9 307.8,217.8 308.8,216.8 309.8,216.0 310.8,215.3 311.8,214.9 312.8,214.8 313.8,214.9 314.8,215.3 315.8,215.8 316.8,216.6 317.8,217.5 318.8,218.4 319.8,219.3 320.8,220.2 321.8,221.0 322.8,221.7 323.8,222.3 324.8,222.7 325.8,222.9 326.8,222.9 327.8,222.7 328.8,222.4 329.8,221.8 330.8,221.0 331.8,220.1 332.8,219.1 333.8,218.0 334.8,217.0 335.8,216.0 336.8,215.1 337.8,214.5 338.8,214.0 339.8,213.8 340.8,213.8 341.8,214.0 342.8,214.4 343.8,214.9 344.8,215.6 345.8,216.3 346.8,217.0 347.8,217.7 348.8,218.4 349.8,219.0 350.8,219.5 351.8,219.9 352.8,220.3 353.8,220.6 354.8,220.8 355.8,220.9 356.8,221.0 357.8,220.9 358.8,220.7 359.8,220.4 360.8,220.0 361.8,219.5 362.8,218.9 363.8,218.4" fill="none" stroke="#a8a8a8" stroke-opacity="0.13" stroke-width="0.8" stroke-linejoin="round"/>
<polyline points="278.3,196.4 279.3,197.2 280.3,198.2 281.3,199.4 282.3,200.7 283.3,202.3 284.3,204.0 285.3,205.8 286.3,207.8 287.3,209.7 288.3,211.7 289.3,213.6 290.3,215.4 291.3,217.0 292.3,218.5 293.3,219.7 294.3,220.8 295.3,221.6 296.3,222.2 297.3,222.5 298.3,222.5 299.3,222.3 300.3,221.8 301.3,221.0 302.3,220.0 303.3,218.9 304.3,217.6 305.3,216.3 306.3,215.1 307.3,214.0 308.3,213.2 309.3,212.7 310.3,212.5 311.3,212.7 312.3,213.1 313.3,213.8 314.3,214.8 315.3,215.8 316.3,216.9 317.3,218.1 318.3,219.2 319.3,220.2 320.3,221.0 321.3,221.7 322.3,222.2 323.3,222.5 324.3,222.5 325.3,222.3 326.3,221.8 327.3,221.1 328.3,220.1 329.3,219.0 330.3,217.8 331.3,216.5 332.3,215.2 333.3,214.0 334.3,213.0 335.3,212.2 336.3,211.6 337.3,211.3 338.3,211.3 339.3,211.6 340.3,212.1 341.3,212.7 342.3,213.5 343.3,214.4 344.3,215.2 345.3,216.1 346.3,216.9 347.3,217.6 348.3,218.3 349.3,218.8 350.3,219.3 351.3,219.6 352.3,219.9 353.3,220.0 354.3,220.1 355.3,220.0 356.3,219.7 357.3,219.4 358.3,218.9 359.3,218.3 360.3,217.6 361.3,216.9" fill="none" stroke="#a8a8a8" stroke-opacity="0.13" stroke-width="0.8" stroke-linejoin="round"/>
<polyline points="281.4,199.8 282.4,200.5 283.4,201.4 284.4,202.4 285.4,203.7 286.4,205.0 287.4,206.6 288.4,208.2 289.4,210.0 290.4,211.7 291.4,213.5 292.4,215.2 293.4,216.8 294.4,218.2 295.4,219.5 296.4,220.7 297.4,221.6 298.4,222.3 299.4,222.9 300.4,223.2 301.4,223.2 302.4,223.0 303.4,222.5 304.4,221.9 305.4,221.0 306.4,219.9 307.4,218.8 308.4,217.6 309.4,216.5 310.4,215.5 311.4,214.8 312.4,214.4 313.4,214.2 314.4,214.3 315.4,214.8 316.4,215.4 317.4,216.2 318.4,217.2 319.4,218.2 320.4,219.2 321.4,220.2 322.4,221.1 323.4,221.8 324.4,222.4 325.4,222.9 326.4,223.1 327.4,223.1 328.4,222.9 329.4,222.5 330.4,221.9 331.4,221.0 332.4,220.0 333.4,218.9 334.4,217.8 335.4,216.6 336.4,215.6 337.4,214.6 338.4,213.9 339.4,213.4 340.4,213.1 341.4,213.1 342.4,213.4 343.4,213.8 344.4,214.4 345.4,215.1 346.4,215.9 347.4,216.7 348.4,217.4 349.4,218.1 350.4,218.8 351.4,219.4 352.4,219.9 353.4,220.3 354.4,220.6 355.4,220.8 356.4,220.9 357.4,221.0 358.4,220.9 359.4,220.7 360.4,220.3 361.4,219.9 362.4,219.4 363.4,218.8 364.4,218.2" fill="none" stroke="#a8a8a8" stroke-opacity="0.13" stroke-width="0.8" stroke-linejoin="round"/>
<polyline points="282.6,203.0 283.6,203.6 284.6,204.4 285.6,205.4 286.6,206.4 287.6,207.7 288.6,209.0 289.6,210.5 290.6,212.0 291.6,213.5 292.6,215.1 293.6,216.6 294.6,218.0 295.6,219.3 296.6,220.4 297.6,221.4 298.6,222.2 299.6,222.9 300.6,223.3 301.6,223.6 302.6,223.6 303.6,223.5 304.6,223.1 305.6,222.5 306.6,221.7 307.6,220.7 308.6,219.7 309.6,218.7 310.6,217.7 311.6,216.9 312.6,216.3 313.6,215.9 314.6,215.7 315.6,215.8 316.6,216.2 317.6,216.8 318.6,217.5 319.6,218.3 320.6,219.2 321.6,220.1 322.6,221.0 323.6,221.8 324.6,222.4 325.6,223.0 326.6,223.4 327.6,223.6 328.6,223.6 329.6,223.4 330.6,223.0 331.6,222.5 332.6,221.7 333.6,220.9 334.6,219.9 335.6,218.9 336.6,217.8 337.6,216.9 338.6,216.1 339.6,215.4 340.6,215.0 341.6,214.8 342.6,214.8 343.6,215.0 344.6,215.4 345.6,215.9 346.6,216.5 347.6,217.2 348.6,217.9 349.6,218.6 350.6,219.2 351.6,219.8 352.6,220.3 353.6,220.7 354.6,221.1 355.6,221.3 356.6,221.5 357.6,221.7 358.6,221.7 359.6,221.6 360.6,221.4 361.6,221.1 362.6,220.7 363.6,220.3 364.6,219.8 365.6,219.2" fill="none" stroke="#a8a8a8" stroke-opacity="0.13" stroke-width="0.8" stroke-linejoin="round"/>
<polyline points="280.2,197.0 281.2,197.8 282.2,198.7 283.2,199.9 284.2,201.2 285.2,202.7 286.2,204.4 287.2,206.2 288.2,208.1 289.2,210.0 290.2,211.9 291.2,213.8 292.2,215.5 293.2,217.1 294.2,218.5 295.2,219.8 296.2,220.8 297.2,221.6 298.2,222.2 299.2,222.5 300.2,222.5 301.2,222.3 302.2,221.8 303.2,221.1 304.2,220.1 305.2,218.9 306.2,217.7 307.2,216.4 308.2,215.2 309.2,214.2 310.2,213.4 311.2,212.9 312.2,212.7 313.2,212.9 314.2,213.3 315.2,214.0 316.2,214.9 317.2,216.0 318.2,217.1 319.2,218.2 320.2,219.2 321.2,220.2 322.2,221.0 323.2,221.7 324.2,222.2 325.2,222.4 326.2,222.5 327.2,222.2 328.2,221.8 329.2,221.1 330.2,220.2 331.2,219.1 332.2,217.9 333.2,216.6 334.2,215.4 335.2,214.2 336.2,213.2 337.2,212.4 338.2,211.8 339.2,211.6 340.2,211.6 341.2,211.8 342.2,212.3 343.2,212.9 344.2,213.7 345.2,214.5 346.2,215.4 347.2,216.2 348.2,217.0 349.2,217.7 350.2,218.4 351.2,218.9 352.2,219.3 353.2,219.7 354.2,219.9 355.2,220.1 356.2,220.1 357.2,220.0 358.2,219.8 359.2,219.4 360.2,218.9 361.2,218.4 362.2,217.7 363.2,217.0" fill="none" stroke="#a8a8a8" stroke-opacity="0.13" stroke-width="0.8" stroke-linejoin="round"/>
<polyline points="280.0,200.4 281.0,201.2 282.0,202.1 283.0,203.1 284.0,204.3 285.0,205.7 286.0,207.3 287.0,208.9 288.0,210.7 289.0,212.5 290.0,214.2 291.0,215.9 292.0,217.5 293.0,219.0 294.0,220.3 295.0,221.4 296.0,222.4 297.0,223.1 298.0,223.6 299.0,223.9 300.0,224.0 301.0,223.8 302.0,223.3 303.0,222.6 304.0,221.7 305.0,220.7 306.0,219.5 307.0,218.3 308.0,217.2 309.0,216.3 310.0,215.6 311.0,215.1 312.0,214.9 313.0,215.1 314.0,215.5 315.0,216.1 316.0,217.0 317.0,217.9 318.0,218.9 319.0,220.0 320.0,220.9 321.0,221.8 322.0,222.6 323.0,223.2 324.0,223.7 325.0,223.9 326.0,223.9 327.0,223.7 328.0,223.3 329.0,222.6 330.0,221.8 331.0,220.8 332.0,219.7 333.0,218.5 334.0,217.4 335.0,216.3 336.0,215.4 337.0,214.6 338.0,214.1 339.0,213.9 340.0,213.9 341.0,214.1 342.0,214.5 343.0,215.1 344.0,215.8 345.0,216.6 346.0,217.4 347.0,218.2 348.0,218.9 349.0,219.5 350.0,220.1 351.0,220.6 352.0,221.0 353.0,221.3 354.0,221.6 355.0,221.7 356.0,221.7 357.0,221.7 358.0,221.4 359.0,221.1 360.0,220.7 361.0,220.1 362.0,219.5 363.0,218.9" fill="none" stroke="#a8a8a8" stroke-opacity="0.13" stroke-width="0.8" stroke-linejoin="round"/>
<polyline points="282.5,194.8 283.5,195.6 284.5,196.7 285.5,197.9 286.5,199.4 287.5,201.0 288.5,202.8 289.5,204.8 290.5,206.8 291.5,208.9 292.5,211.0 293.5,212.9 294.5,214.8 295.5,216.5 296.5,218.1 297.5,219.4 298.5,220.5 299.5,221.4 300.5,222.0 301.5,222.3 302.5,222.4 303.5,222.2 304.5,221.6 305.5,220.8 306.5,219.8 307.5,218.5 308.5,217.2 309.5,215.8 310.5,214.5 311.5,213.4 312.5,212.5 313.5,212.0 314.5,211.8 315.5,212.0 316.5,212.5 317.5,213.2 318.5,214.2 319.5,215.3 320.5,216.5 321.5,217.7 322.5,218.8 323.5,219.9 324.5,220.8 325.5,221.5 326.5,222.0 327.5,222.3 328.5,222.3 329.5,222.1 330.5,221.6 331.5,220.8 332.5,219.9 333.5,218.7 334.5,217.4 335.5,216.0 336.5,214.7 337.5,213.4 338.5,212.3 339.5,211.4 340.5,210.8 341.5,210.5 342.5,210.5 343.5,210.8 344.5,211.3 345.5,212.0 346.5,212.9 347.5,213.8 348.5,214.7 349.5,215.6 350.5,216.4 351.5,217.2 352.5,217.9 353.5,218.5 354.5,218.9 355.5,219.3 356.5,219.6 357.5,219.8 358.5,219.8 359.5,219.7 360.5,219.4 361.5,219.0 362.5,218.5 363.5,217.9 364.5,217.2 365.5,216.5" fill="none" stroke="#a8a8a8" stroke-opacity="0.13" stroke-width="0.8" stroke-linejoin="round"/>
<polyline points="279.3,192.4 280.3,193.3 281.3,194.4 282.3,195.7 283.3,197.2 284.3,199.0 285.3,200.9 286.3,202.9 287.3,205.0 288.3,207.2 289.3,209.4 290.3,211.5 291.3,213.4 292.3,215.2 293.3,216.8 294.3,218.2 295.3,219.4 296.3,220.3 297.3,220.9 298.3,221.3 299.3,221.4 300.3,221.1 301.3,220.5 302.3,219.7 303.3,218.6 304.3,217.3 305.3,215.9 306.3,214.4 307.3,213.1 308.3,211.9 309.3,211.0 310.3,210.5 311.3,210.3 312.3,210.4 313.3,210.9 314.3,211.7 315.3,212.7 316.3,213.9 317.3,215.2 318.3,216.4 319.3,217.6 320.3,218.7 321.3,219.7 322.3,220.4 323.3,221.0 324.3,221.3 325.3,221.3 326.3,221.0 327.3,220.5 328.3,219.7 329.3,218.7 330.3,217.5 331.3,216.1 332.3,214.7 333.3,213.2 334.3,211.9 335.3,210.8 336.3,209.9 337.3,209.3 338.3,208.9 339.3,208.9 340.3,209.2 341.3,209.8 342.3,210.5 343.3,211.4 344.3,212.3 345.3,213.3 346.3,214.2 347.3,215.1 348.3,215.9 349.3,216.6 350.3,217.2 351.3,217.7 352.3,218.1 353.3,218.4 354.3,218.6 355.3,218.6 356.3,218.5 357.3,218.2 358.3,217.8 359.3,217.3 360.3,216.6 361.3,215.9 362.3,215.1" fill="none" stroke="#a8a8a8" stroke-opacity="0.13" stroke-width="0.8" stroke-linejoin="round"/>
<polyline points="280.5,194.3 281.5,195.2 282.5,196.2 283.5,197.5 284.5,199.0 285.5,200.6 286.5,202.5 287.5,204.4 288.5,206.5 289.5,208.6 290.5,210.7 291.5,212.8 292.5,214.7 293.5,216.4 294.5,218.0 295.5,219.3 296.5,220.5 297.5,221.3 298.5,222.0 299.5,222.3 300.5,222.4 301.5,222.1 302.5,221.6 303.5,220.8 304.5,219.7 305.5,218.4 306.5,217.0 307.5,215.6 308.5,214.3 309.5,213.2 310.5,212.3 311.5,211.8 312.5,211.6 313.5,211.8 314.5,212.3 315.5,213.0 316.5,214.0 317.5,215.1 318.5,216.4 319.5,217.6 320.5,218.7 321.5,219.8 322.5,220.7 323.5,221.5 324.5,222.0 325.5,222.3 326.5,222.3 327.5,222.1 328.5,221.5 329.5,220.8 330.5,219.8 331.5,218.6 332.5,217.3 333.5,215.9 334.5,214.5 335.5,213.2 336.5,212.1 337.5,211.2 338.5,210.6 339.5,210.3 340.5,210.3 341.5,210.6 342.5,211.1 343.5,211.8 344.5,212.7 345.5,213.6 346.5,214.5 347.5,215.5 348.5,216.3 349.5,217.1 350.5,217.8 351.5,218.4 352.5,218.9 353.5,219.2 354.5,219.5 355.5,219.7 356.5,219.7 357.5,219.6 358.5,219.4 359.5,219.0 360.5,218.4 361.5,217.8 362.5,217.1 363.5,216.3" fill="none" stroke="#a8a8a8" stroke-opacity="0.13" stroke-width="0.8" stroke-linejoin="round"/>
<polyline points="278.7,195.9 279.7,196.7 280.7,197.7 281.7,198.9 282.7,200.3 283.7,201.9 284.7,203.6 285.7,205.5 286.7,207.5 287.7,209.5 288.7,211.5 289.7,213.4 290.7,215.3 291.7,216.9 292.7,218.4 293.7,219.7 294.7,220.8 295.7,221.6 296.7,222.2 297.7,222.5 298.7,222.6 299.7,222.4 300.7,221.9 301.7,221.1 302.7,220.0 303.7,218.8 304.7,217.5 305.7,216.2 306.7,215.0 307.7,213.9 308.7,213.0 309.7,212.5 310.7,212.3 311.7,212.5 312.7,213.0 313.7,213.7 314.7,214.6 315.7,215.7 316.7,216.9 317.7,218.0 318.7,219.2 319.7,220.2 320.7,221.0 321.7,221.7 322.7,222.2 323.7,222.5 324.7,222.5 325.7,222.3 326.7,221.8 327.7,221.1 328.7,220.1 329.7,219.0 330.7,217.7 331.7,216.4 332.7,215.1 333.7,213.9 334.7,212.8 335.7,212.0 336.7,211.4 337.7,211.1 338.7,211.1 339.7,211.4 340.7,211.9 341.7,212.6 342.7,213.4 343.7,214.2 344.7,215.1 345.7,216.0 346.7,216.8 347.7,217.6 348.7,218.2 349.7,218.8 350.7,219.3 351.7,219.6 352.7,219.9 353.7,220.0 354.7,220.1 355.7,220.0 356.7,219.7 357.7,219.4 358.7,218.9 359.7,218.2 360.7,217.6 361.7,216.8" fill="none" stroke="#a8a8a8" stroke-opacity="0.13" stroke-width="0.8" stroke-linejoin="round"/>
<polyline points="282.7,197.4 283.7,198.2 284.7,199.1 285.7,200.3 286.7,201.6 287.7,203.1 288.7,204.8 289.7,206.6 290.7,208.5 291.7,210.4 292.7,212.3 293.7,214.1 294.7,215.9 295.7,217.5 296.7,218.9 297.7,220.1 298.7,221.1 299.7,221.9 300.7,222.5 301.7,222.8 302.7,222.9 303.7,222.6 304.7,222.2 305.7,221.4 306.7,220.4 307.7,219.3 308.7,218.0 309.7,216.8 310.7,215.6 311.7,214.6 312.7,213.8 313.7,213.3 314.7,213.1 315.7,213.2 316.7,213.7 317.7,214.4 318.7,215.3 319.7,216.3 320.7,217.4 321.7,218.5 322.7,219.6 323.7,220.5 324.7,221.4 325.7,222.0 326.7,222.5 327.7,222.8 328.7,222.8 329.7,222.6 330.7,222.1 331.7,221.4 332.7,220.5 333.7,219.4 334.7,218.2 335.7,217.0 336.7,215.7 337.7,214.6 338.7,213.5 339.7,212.7 340.7,212.2 341.7,211.9 342.7,211.9 343.7,212.2 344.7,212.7 345.7,213.3 346.7,214.1 347.7,214.9 348.7,215.8 349.7,216.6 350.7,217.4 351.7,218.1 352.7,218.7 353.7,219.2 354.7,219.7 355.7,220.0 356.7,220.3 357.7,220.4 358.7,220.4 359.7,220.4 360.7,220.1 361.7,219.8 362.7,219.3 363.7,218.7 364.7,218.1 365.7,217.4" fill="none" stroke="#a8a8a8" stroke-opacity="0.13" stroke-width="0.8" stroke-linejoin="round"/>
<polyline points="283.1,198.4 284.1,199.1 285.1,200.0 286.1,201.1 287.1,202.4 288.1,203.9 289.1,205.5 290.1,207.2 291.1,209.0 292.1,210.9 293.1,212.7 294.1,214.4 295.1,216.1 296.1,217.6 297.1,219.0 298.1,220.2 299.1,221.2 300.1,221.9 301.1,222.5 302.1,222.8 303.1,222.8 304.1,222.6 305.1,222.1 306.1,221.4 307.1,220.5 308.1,219.4 309.1,218.2 310.1,217.0 311.1,215.8 312.1,214.8 313.1,214.1 314.1,213.6 315.1,213.4 316.1,213.6 317.1,214.0 318.1,214.7 319.1,215.5 320.1,216.5 321.1,217.6 322.1,218.7 323.1,219.7 324.1,220.6 325.1,221.4 326.1,222.0 327.1,222.5 328.1,222.7 329.1,222.8 330.1,222.6 331.1,222.1 332.1,221.4 333.1,220.6 334.1,219.5 335.1,218.4 336.1,217.2 337.1,216.0 338.1,214.8 339.1,213.9 340.1,213.1 341.1,212.6 342.1,212.3 343.1,212.3 344.1,212.6 345.1,213.0 346.1,213.6 347.1,214.4 348.1,215.2 349.1,216.0 350.1,216.8 351.1,217.5 352.1,218.2 353.1,218.8 354.1,219.3 355.1,219.8 356.1,220.1 357.1,220.3 358.1,220.5 359.1,220.5 360.1,220.4 361.1,220.2 362.1,219.9 363.1,219.4 364.1,218.8 365.1,218.2 366.1,217.6" fill="none" stroke="#a8a8a8" stroke-opacity="0.13" stroke-width="0.8" stroke-linejoin="round"/>
<polyline points="282.8,191.7 283.8,192.6 284.8,193.6 285.8,194.9 286.8,196.5 287.8,198.2 288.8,200.1 289.8,202.1 290.8,204.2 291.8,206.4 292.8,208.6 293.8,210.7 294.8,212.6 295.8,214.4 296.8,216.0 297.8,217.4 298.8,218.6 299.8,219.5 300.8,220.1 301.8,220.5 302.8,220.5 303.8,220.3 304.8,219.7 305.8,218.9 306.8,217.8 307.8,216.5 308.8,215.1 309.8,213.6 310.8,212.3 311.8,211.1 312.8,210.2 313.8,209.7 314.8,209.5 315.8,209.6 316.8,210.1 317.8,210.9 318.8,211.9 319.8,213.1 320.8,214.4 321.8,215.6 322.8,216.8 323.8,217.9 324.8,218.9 325.8,219.6 326.8,220.2 327.8,220.4 328.8,220.5 329.8,220.2 330.8,219.7 331.8,218.9 332.8,217.9 333.8,216.7 334.8,215.3 335.8,213.9 336.8,212.4 337.8,211.1 338.8,210.0 339.8,209.1 340.8,208.5 341.8,208.1 342.8,208.1 343.8,208.4 344.8,209.0 345.8,209.7 346.8,210.6 347.8,211.5 348.8,212.5 349.8,213.4 350.8,214.3 351.8,215.1 352.8,215.8 353.8,216.4 354.8,216.9 355.8,217.3 356.8,217.6 357.8,217.8 358.8,217.8 359.8,217.7 360.8,217.4 361.8,217.0 362.8,216.5 363.8,215.8 364.8,215.1 365.8,214.3" fill="none" stroke="#a8a8a8" stroke-opacity="0.13" stroke-width="0.8" stroke-linejoin="round"/>
<line x1="288.3" x2="288.3" y1="196.3" y2="214.4" stroke="#bdbdbd" stroke-opacity="0.4" stroke-width="0.7"/>
<line x1="311.8" x2="311.8" y1="203.5" y2="216.9" stroke="#bdbdbd" stroke-opacity="0.4" stroke-width="0.7"/>
<line x1="336.3" x2="336.3" y1="206.1" y2="216.6" stroke="#bdbdbd" stroke-opacity="0.4" stroke-width="0.7"/>
<line x1="340.3" x2="340.3" y1="201.2" y2="216.1" stroke="#bdbdbd" stroke-opacity="0.4" stroke-width="0.7"/>
<line x1="280.3" x2="280.3" y1="194.1" y2="203.1" stroke="#bdbdbd" stroke-opacity="0.4" stroke-width="0.7"/>
<line x1="279.8" x2="279.8" y1="189.3" y2="202.7" stroke="#bdbdbd" stroke-opacity="0.4" stroke-width="0.7"/>
<line x1="313.3" x2="313.3" y1="200.0" y2="217.5" stroke="#bdbdbd" stroke-opacity="0.4" stroke-width="0.7"/>
<line x1="310.3" x2="310.3" y1="203.5" y2="217.1" stroke="#bdbdbd" stroke-opacity="0.4" stroke-width="0.7"/>
<line x1="281.8" x2="281.8" y1="190.5" y2="204.5" stroke="#bdbdbd" stroke-opacity="0.4" stroke-width="0.7"/>
<line x1="338.3" x2="338.3" y1="200.4" y2="215.8" stroke="#bdbdbd" stroke-opacity="0.4" stroke-width="0.7"/>
<line x1="312.3" x2="312.3" y1="207.8" y2="217.0" stroke="#bdbdbd" stroke-opacity="0.4" stroke-width="0.7"/>
<line x1="339.3" x2="339.3" y1="206.0" y2="215.8" stroke="#bdbdbd" stroke-opacity="0.4" stroke-width="0.7"/>
<line x1="311.8" x2="311.8" y1="205.3" y2="216.9" stroke="#bdbdbd" stroke-opacity="0.4" stroke-width="0.7"/>
<line x1="309.3" x2="309.3" y1="200.4" y2="217.5" stroke="#bdbdbd" stroke-opacity="0.4" stroke-width="0.7"/>
<line x1="288.3" x2="288.3" y1="198.1" y2="214.4" stroke="#bdbdbd" stroke-opacity="0.4" stroke-width="0.7"/>
<line x1="339.8" x2="339.8" y1="206.5" y2="215.9" stroke="#bdbdbd" stroke-opacity="0.4" stroke-width="0.7"/>
<line x1="286.8" x2="286.8" y1="194.7" y2="211.8" stroke="#bdbdbd" stroke-opacity="0.4" stroke-width="0.7"/>
<line x1="336.8" x2="336.8" y1="199.1" y2="216.3" stroke="#bdbdbd" stroke-opacity="0.4" stroke-width="0.7"/>
<line x1="340.8" x2="340.8" y1="198.6" y2="216.3" stroke="#bdbdbd" stroke-opacity="0.4" stroke-width="0.7"/>
<line x1="288.8" x2="288.8" y1="194.9" y2="215.3" stroke="#bdbdbd" stroke-opacity="0.4" stroke-width="0.7"/>
<line x1="338.8" x2="338.8" y1="195.9" y2="215.8" stroke="#bdbdbd" stroke-opacity="0.4" stroke-width="0.7"/>
<line x1="337.3" x2="337.3" y1="199.2" y2="216.1" stroke="#bdbdbd" stroke-opacity="0.4" stroke-width="0.7"/>
<line x1="280.3" x2="280.3" y1="191.7" y2="203.1" stroke="#bdbdbd" stroke-opacity="0.4" stroke-width="0.7"/>
<line x1="340.8" x2="340.8" y1="195.4" y2="216.3" stroke="#bdbdbd" stroke-opacity="0.4" stroke-width="0.7"/>
<line x1="287.8" x2="287.8" y1="204.4" y2="213.5" stroke="#bdbdbd" stroke-opacity="0.4" stroke-width="0.7"/>
<line x1="335.8" x2="335.8" y1="208.5" y2="216.9" stroke="#bdbdbd" stroke-opacity="0.4" stroke-width="0.7"/>
<line x1="340.8" x2="340.8" y1="201.0" y2="216.3" stroke="#bdbdbd" stroke-opacity="0.4" stroke-width="0.7"/>
<line x1="339.3" x2="339.3" y1="204.5" y2="215.8" stroke="#bdbdbd" stroke-opacity="0.4" stroke-width="0.7"/>
<line x1="312.3" x2="312.3" y1="201.8" y2="217.0" stroke="#bdbdbd" stroke-opacity="0.4" stroke-width="0.7"/>
<line x1="289.3" x2="289.3" y1="197.9" y2="216.2" stroke="#bdbdbd" stroke-opacity="0.4" stroke-width="0.7"/>
<line x1="287.8" x2="287.8" y1="196.4" y2="213.5" stroke="#bdbdbd" stroke-opacity="0.4" stroke-width="0.7"/>
<line x1="339.3" x2="339.3" y1="204.3" y2="215.8" stroke="#bdbdbd" stroke-opacity="0.4" stroke-width="0.7"/>
<line x1="312.3" x2="312.3" y1="196.5" y2="217.0" stroke="#bdbdbd" stroke-opacity="0.4" stroke-width="0.7"/>
<line x1="309.8" x2="309.8" y1="206.6" y2="217.3" stroke="#bdbdbd" stroke-opacity="0.4" stroke-width="0.7"/>
<line x1="284.3" x2="284.3" y1="190.7" y2="207.7" stroke="#bdbdbd" stroke-opacity="0.4" stroke-width="0.7"/>
<line x1="341.3" x2="341.3" y1="201.5" y2="216.5" stroke="#bdbdbd" stroke-opacity="0.4" stroke-width="0.7"/>
<line x1="285.8" x2="285.8" y1="192.0" y2="210.1" stroke="#bdbdbd" stroke-opacity="0.4" stroke-width="0.7"/>
<line x1="337.3" x2="337.3" y1="195.2" y2="216.1" stroke="#bdbdbd" stroke-opacity="0.4" stroke-width="0.7"/>
<line x1="281.3" x2="281.3" y1="183.7" y2="204.0" stroke="#bdbdbd" stroke-opacity="0.4" stroke-width="0.7"/>
<line x1="282.3" x2="282.3" y1="184.1" y2="205.1" stroke="#bdbdbd" stroke-opacity="0.4" stroke-width="0.7"/>
<line x1="281.8" x2="281.8" y1="195.8" y2="204.5" stroke="#bdbdbd" stroke-opacity="0.4" stroke-width="0.7"/>
<line x1="339.3" x2="339.3" y1="195.3" y2="215.8" stroke="#bdbdbd" stroke-opacity="0.4" stroke-width="0.7"/>
<line x1="286.8" x2="286.8" y1="198.0" y2="211.8" stroke="#bdbdbd" stroke-opacity="0.4" stroke-width="0.7"/>
<line x1="336.3" x2="336.3" y1="199.1" y2="216.6" stroke="#bdbdbd" stroke-opacity="0.4" stroke-width="0.7"/>
<line x1="311.8" x2="311.8" y1="204.7" y2="216.9" stroke="#bdbdbd" stroke-opacity="0.4" stroke-width="0.7"/>
<line x1="289.8" x2="289.8" y1="207.6" y2="217.0" stroke="#bdbdbd" stroke-opacity="0.4" stroke-width="0.7"/>
<line x1="312.8" x2="312.8" y1="205.5" y2="217.2" stroke="#bdbdbd" stroke-opacity="0.4" stroke-width="0.7"/>
<line x1="289.3" x2="289.3" y1="207.9" y2="216.2" stroke="#bdbdbd" stroke-opacity="0.4" stroke-width="0.7"/>
<line x1="309.3" x2="309.3" y1="200.7" y2="217.5" stroke="#bdbdbd" stroke-opacity="0.4" stroke-width="0.7"/>
<line x1="279.3" x2="279.3" y1="181.7" y2="202.4" stroke="#bdbdbd" stroke-opacity="0.4" stroke-width="0.7"/>
<polyline points="279.3,193.5 279.6,194.6 279.7,193.7 279.8,192.7 279.9,191.8 280.0,190.8 280.0,189.8 280.1,188.9 280.2,187.9 280.3,187.0 280.3,187.9 280.4,188.8 280.4,189.7 280.4,190.6 280.5,191.5 280.5,192.4 280.5,193.3 280.5,194.2 280.6,195.1 280.6,196.0 280.9,196.6 281.2,197.7 281.5,198.6 281.8,199.5 282.5,200.2 283.2,201.2 283.9,202.0 284.6,203.0 284.6,202.1 284.6,201.1 284.6,200.2 284.6,199.3 284.6,198.3 284.7,197.4 284.7,196.5 284.7,195.6 284.7,194.6 284.7,193.7 284.7,192.8 284.7,191.8 284.7,190.9 284.7,190.0 284.7,189.0 284.7,188.1 284.7,187.2 284.8,186.3 284.8,185.3 284.8,184.4 284.8,183.5 284.8,182.5 284.8,181.6 284.8,182.5 284.8,183.5 284.8,184.4 284.9,185.3 284.9,186.3 284.9,187.2 284.9,188.1 284.9,189.1 284.9,190.0 284.9,190.9 284.9,191.9 285.0,192.8 285.0,193.7 285.0,194.7 285.0,195.6 285.0,196.5 285.0,197.5 285.0,198.4 285.0,199.3 285.1,200.3 285.1,201.2 285.1,202.1 285.1,203.1 285.1,204.0 286.1,205.0 286.4,205.9 286.6,206.8 286.9,207.7 287.1,208.6 287.4,209.5 287.7,210.4 287.9,211.3 288.2,212.2 288.4,213.1 288.7,214.0 289.2,214.5 289.7,215.3 290.2,215.3 290.6,217.1 291.1,218.0 291.6,219.1 292.1,220.0 292.6,220.5 293.2,221.2 293.9,221.8 294.6,220.5 295.2,222.8 295.9,222.5 296.5,224.3 297.5,224.8 298.4,224.9 299.4,224.5 300.4,225.6 301.2,226.1 302.1,226.3 302.9,227.0 303.3,224.9 303.6,223.0 304.0,224.2 304.4,223.3 304.8,222.5 305.1,218.5 305.5,220.5 305.7,219.5 305.8,218.6 306.0,217.6 306.1,216.6 306.3,215.6 306.5,214.6 306.6,213.7 306.8,212.7 307.3,211.9 307.9,211.0 308.4,209.6 308.9,208.8 308.9,207.9 309.0,207.0 309.0,206.1 309.1,205.2 309.1,204.3 309.2,203.4 309.2,202.5 309.3,201.6 309.3,200.7 309.4,199.8 309.4,200.7 309.5,201.6 309.5,202.6 309.6,203.5 309.6,204.4 309.6,205.3 309.7,206.2 309.7,207.2 309.8,208.1 309.8,209.0 310.9,209.8 312.0,210.1 312.1,209.2 312.1,208.3 312.2,207.4 312.3,206.5 312.3,205.6 312.4,204.7 312.5,203.8 312.5,202.9 312.6,202.0 312.6,202.9 312.7,203.8 312.7,204.7 312.8,205.6 312.8,206.5 312.8,207.4 312.9,208.3 312.9,209.2 313.0,210.1 313.0,211.0 313.5,212.2 314.1,213.1 314.6,214.0 315.1,212.6 315.6,213.2 316.1,216.4 316.6,216.4 317.0,217.9 317.5,218.9 318.0,219.8 318.5,220.5 319.3,219.5 320.0,220.0 320.8,222.6 321.5,223.8 322.3,224.3 322.9,224.8 323.6,225.8 324.2,223.8 324.9,227.0 325.3,226.3 325.7,225.5 326.1,224.5 326.5,223.9 326.9,222.6 327.3,222.0 327.4,223.0 327.4,224.0 327.5,225.0 327.5,226.0 327.6,227.0 328.2,226.1 328.9,225.8 329.5,224.8 330.1,224.3 330.4,223.3 330.7,222.6 331.0,221.7 331.3,220.9 331.6,219.7 331.9,219.0 332.2,217.8 332.5,217.4 332.8,213.9 333.1,215.4 333.4,212.0 333.7,213.6 334.0,212.7 334.5,211.8 335.0,210.9 335.6,210.1 336.1,209.8 336.6,208.8 337.6,207.2 338.6,209.6 339.5,209.8 340.5,210.1 340.5,209.2 340.6,208.2 340.6,207.3 340.6,206.3 340.7,205.4 340.7,204.4 340.7,203.5 340.8,202.5 340.8,201.6 340.8,200.6 340.9,199.7 340.9,198.7 340.9,197.8 341.0,196.8 341.0,195.9 341.0,196.8 341.1,197.8 341.1,198.7 341.1,199.7 341.1,200.6 341.1,201.6 341.2,202.5 341.2,203.4 341.2,204.4 341.2,205.3 341.3,206.3 341.3,207.2 341.3,208.2 341.3,209.1 341.4,210.1 341.4,211.0 341.7,211.9 342.0,213.0 342.4,213.4 342.7,212.3 343.0,215.3 343.7,215.8 344.3,216.8 345.0,217.0 345.7,215.5 346.3,218.3 347.0,219.2 347.9,219.4 348.8,218.1 349.7,220.2 350.6,220.4 350.6,219.5 350.7,218.6 350.7,217.7 350.7,216.8 350.8,215.9 350.8,215.0 350.8,215.9 350.9,216.9 350.9,217.8 350.9,218.7 351.0,219.7 351.0,220.6 352.0,220.6 353.0,221.3 354.0,221.6 355.0,221.7 356.0,221.8 356.8,222.1 357.6,222.7 358.3,223.3 359.1,224.0 359.9,224.3 360.0,223.3 360.1,222.4 360.2,221.4 360.3,220.4 360.4,219.5 360.5,218.5 360.7,217.5 360.8,216.6 360.9,215.6 361.0,214.6 361.1,213.7 361.2,212.7 362.2,212.3 363.2,211.4" fill="none" stroke="#e8a31c" stroke-width="1.05" stroke-linejoin="round"/>
<polygon points="392.0,195.0 393.0,180.0 396.0,172.0 400.0,176.0 401.0,195.0 403.0,206.0 408.0,210.0 413.0,210.0 416.0,200.0 418.0,175.0 422.0,168.0 428.0,168.0 434.0,172.0 436.0,200.0 440.0,205.0 445.0,203.0 447.0,175.0 450.0,165.0 458.0,162.0 465.0,168.0 471.0,180.0 473.0,175.0 476.0,160.0 479.0,160.0 479.5,225.0 476.0,226.0 470.0,226.0 467.0,224.0 464.0,213.0 459.0,212.0 455.0,214.0 452.0,222.0 448.0,227.0 440.0,228.0 432.0,225.0 426.0,222.0 422.0,226.0 418.0,229.0 410.0,229.0 403.0,226.0 397.0,220.0 393.0,212.0 392.0,205.0" fill="#e4e4e4" stroke="#e4e4e4" stroke-width="2" stroke-linejoin="round" filter="url(#bl)"/>
<polyline points="394.0,203.3 395.0,203.7 396.0,204.3 397.0,205.0 398.0,205.9 399.0,207.0 400.0,208.3 401.0,209.6 402.0,211.0 403.0,212.3 404.0,213.6 405.0,214.7 406.0,215.7 407.0,216.4 408.0,216.9 409.0,217.1 410.0,217.1 411.0,216.7 412.0,216.1 413.0,215.2 414.0,213.9 415.0,212.4 416.0,210.7 417.0,208.8 418.0,207.0 419.0,205.3 420.0,203.8 421.0,202.7 422.0,202.1 423.0,202.0 424.0,202.4 425.0,203.3 426.0,204.5 427.0,206.1 428.0,207.8 429.0,209.6 430.0,211.2 431.0,212.7 432.0,214.0 433.0,215.0 434.0,215.6 435.0,216.0 436.0,216.2 437.0,216.0 438.0,215.7 439.0,215.1 440.0,214.2 441.0,213.0 442.0,211.6 443.0,209.8 444.0,207.9 445.0,205.8 446.0,203.6 447.0,201.5 448.0,199.6 449.0,198.0 450.0,196.8 451.0,196.0 452.0,195.7 453.0,195.8 454.0,196.3 455.0,197.2 456.0,198.4 457.0,199.8 458.0,201.4 459.0,202.9 460.0,204.4 461.0,205.8 462.0,207.0 463.0,208.0 464.0,208.7 465.0,209.1 466.0,209.4 467.0,209.4 468.0,209.1 469.0,208.7 470.0,208.1 471.0,207.2 472.0,206.2 473.0,205.0 474.0,203.6 475.0,202.3 476.0,200.9 477.0,199.7 478.0,198.6" fill="none" stroke="#dedede" stroke-width="11" stroke-linejoin="round" stroke-linecap="butt" filter="url(#bl)"/>
<polyline points="394.0,203.3 395.0,203.7 396.0,204.3 397.0,205.0 398.0,205.9 399.0,207.0 400.0,208.3 401.0,209.6 402.0,211.0 403.0,212.3 404.0,213.6 405.0,214.7 406.0,215.7 407.0,216.4 408.0,216.9 409.0,217.1 410.0,217.1 411.0,216.7 412.0,216.1 413.0,215.2 414.0,213.9 415.0,212.4 416.0,210.7 417.0,208.8 418.0,207.0 419.0,205.3 420.0,203.8 421.0,202.7 422.0,202.1 423.0,202.0 424.0,202.4 425.0,203.3 426.0,204.5 427.0,206.1 428.0,207.8 429.0,209.6 430.0,211.2 431.0,212.7 432.0,214.0 433.0,215.0 434.0,215.6 435.0,216.0 436.0,216.2 437.0,216.0 438.0,215.7 439.0,215.1 440.0,214.2 441.0,213.0 442.0,211.6 443.0,209.8 444.0,207.9 445.0,205.8 446.0,203.6 447.0,201.5 448.0,199.6 449.0,198.0 450.0,196.8 451.0,196.0 452.0,195.7 453.0,195.8 454.0,196.3 455.0,197.2 456.0,198.4 457.0,199.8 458.0,201.4 459.0,202.9 460.0,204.4 461.0,205.8 462.0,207.0 463.0,208.0 464.0,208.7 465.0,209.1 466.0,209.4 467.0,209.4 468.0,209.1 469.0,208.7 470.0,208.1 471.0,207.2 472.0,206.2 473.0,205.0 474.0,203.6 475.0,202.3 476.0,200.9 477.0,199.7 478.0,198.6" fill="none" stroke="#d0d0d0" stroke-width="5" stroke-linejoin="round" stroke-linecap="butt" filter="url(#bl)"/>
<polyline points="397.8,200.4 398.8,200.9 399.8,201.6 400.8,202.4 401.8,203.5 402.8,204.7 403.8,206.1 404.8,207.6 405.8,209.2 406.8,210.7 407.8,212.2 408.8,213.5 409.8,214.5 410.8,215.4 411.8,215.9 412.8,216.2 413.8,216.2 414.8,215.8 415.8,215.1 416.8,214.0 417.8,212.6 418.8,210.8 419.8,208.8 420.8,206.7 421.8,204.6 422.8,202.7 423.8,201.0 424.8,199.8 425.8,199.1 426.8,199.0 427.8,199.4 428.8,200.4 429.8,201.8 430.8,203.6 431.8,205.6 432.8,207.6 433.8,209.5 434.8,211.2 435.8,212.6 436.8,213.8 437.8,214.5 438.8,215.0 439.8,215.1 440.8,215.0 441.8,214.6 442.8,213.9 443.8,212.9 444.8,211.5 445.8,209.9 446.8,207.9 447.8,205.7 448.8,203.3 449.8,200.8 450.8,198.4 451.8,196.3 452.8,194.4 453.8,193.0 454.8,192.1 455.8,191.7 456.8,191.9 457.8,192.5 458.8,193.5 459.8,194.9 460.8,196.5 461.8,198.2 462.8,200.0 463.8,201.7 464.8,203.3 465.8,204.7 466.8,205.8 467.8,206.6 468.8,207.1 469.8,207.4 470.8,207.4 471.8,207.1 472.8,206.6 473.8,205.9 474.8,204.9 475.8,203.7 476.8,202.3 477.8,200.8 478.8,199.3 479.8,197.7 480.8,196.3 481.8,195.0" fill="none" stroke="#a8a8a8" stroke-opacity="0.13" stroke-width="0.8" stroke-linejoin="round"/>
<polyline points="396.0,202.0 397.0,202.4 398.0,203.0 399.0,203.8 400.0,204.7 401.0,205.8 402.0,207.1 403.0,208.4 404.0,209.8 405.0,211.2 406.0,212.5 407.0,213.6 408.0,214.6 409.0,215.3 410.0,215.8 411.0,216.1 412.0,216.0 413.0,215.7 414.0,215.0 415.0,214.1 416.0,212.8 417.0,211.2 418.0,209.5 419.0,207.6 420.0,205.7 421.0,204.0 422.0,202.5 423.0,201.4 424.0,200.8 425.0,200.7 426.0,201.1 427.0,202.0 428.0,203.2 429.0,204.8 430.0,206.6 431.0,208.4 432.0,210.1 433.0,211.6 434.0,212.9 435.0,213.9 436.0,214.6 437.0,215.0 438.0,215.1 439.0,215.0 440.0,214.6 441.0,214.0 442.0,213.1 443.0,211.9 444.0,210.4 445.0,208.7 446.0,206.7 447.0,204.5 448.0,202.3 449.0,200.2 450.0,198.3 451.0,196.6 452.0,195.4 453.0,194.6 454.0,194.2 455.0,194.3 456.0,194.9 457.0,195.8 458.0,197.0 459.0,198.5 460.0,200.0 461.0,201.6 462.0,203.2 463.0,204.6 464.0,205.8 465.0,206.8 466.0,207.5 467.0,207.9 468.0,208.2 469.0,208.2 470.0,207.9 471.0,207.5 472.0,206.8 473.0,206.0 474.0,204.9 475.0,203.7 476.0,202.4 477.0,201.0 478.0,199.6 479.0,198.3 480.0,197.2" fill="none" stroke="#a8a8a8" stroke-opacity="0.13" stroke-width="0.8" stroke-linejoin="round"/>
<polyline points="395.0,204.2 396.0,204.7 397.0,205.2 398.0,205.9 399.0,206.8 400.0,207.9 401.0,209.1 402.0,210.4 403.0,211.7 404.0,213.0 405.0,214.2 406.0,215.3 407.0,216.2 408.0,217.0 409.0,217.4 410.0,217.7 411.0,217.6 412.0,217.3 413.0,216.7 414.0,215.8 415.0,214.6 416.0,213.1 417.0,211.4 418.0,209.6 419.0,207.8 420.0,206.2 421.0,204.7 422.0,203.7 423.0,203.1 424.0,203.0 425.0,203.4 426.0,204.2 427.0,205.4 428.0,206.9 429.0,208.6 430.0,210.3 431.0,212.0 432.0,213.4 433.0,214.6 434.0,215.6 435.0,216.2 436.0,216.6 437.0,216.7 438.0,216.6 439.0,216.3 440.0,215.7 441.0,214.8 442.0,213.7 443.0,212.3 444.0,210.6 445.0,208.7 446.0,206.7 447.0,204.6 448.0,202.5 449.0,200.7 450.0,199.1 451.0,197.9 452.0,197.2 453.0,196.8 454.0,197.0 455.0,197.5 456.0,198.3 457.0,199.5 458.0,200.9 459.0,202.4 460.0,203.9 461.0,205.4 462.0,206.7 463.0,207.9 464.0,208.8 465.0,209.5 466.0,209.9 467.0,210.1 468.0,210.1 469.0,209.9 470.0,209.5 471.0,208.9 472.0,208.0 473.0,207.0 474.0,205.9 475.0,204.6 476.0,203.3 477.0,202.0 478.0,200.7 479.0,199.6" fill="none" stroke="#a8a8a8" stroke-opacity="0.13" stroke-width="0.8" stroke-linejoin="round"/>
<polyline points="397.2,192.6 398.2,193.2 399.2,194.0 400.2,195.0 401.2,196.2 402.2,197.7 403.2,199.4 404.2,201.2 405.2,203.0 406.2,204.9 407.2,206.6 408.2,208.1 409.2,209.4 410.2,210.4 411.2,211.0 412.2,211.4 413.2,211.3 414.2,210.9 415.2,210.0 416.2,208.7 417.2,207.0 418.2,204.9 419.2,202.6 420.2,200.1 421.2,197.6 422.2,195.3 423.2,193.3 424.2,191.9 425.2,191.0 426.2,190.9 427.2,191.4 428.2,192.6 429.2,194.3 430.2,196.4 431.2,198.7 432.2,201.1 433.2,203.4 434.2,205.4 435.2,207.1 436.2,208.4 437.2,209.4 438.2,209.9 439.2,210.1 440.2,209.9 441.2,209.4 442.2,208.6 443.2,207.4 444.2,205.8 445.2,203.8 446.2,201.5 447.2,198.9 448.2,196.0 449.2,193.1 450.2,190.3 451.2,187.7 452.2,185.5 453.2,183.8 454.2,182.8 455.2,182.3 456.2,182.5 457.2,183.2 458.2,184.4 459.2,186.0 460.2,187.9 461.2,190.0 462.2,192.1 463.2,194.2 464.2,196.1 465.2,197.7 466.2,199.0 467.2,199.9 468.2,200.6 469.2,200.9 470.2,200.8 471.2,200.5 472.2,200.0 473.2,199.1 474.2,197.9 475.2,196.5 476.2,194.9 477.2,193.1 478.2,191.3 479.2,189.4 480.2,187.7 481.2,186.2" fill="none" stroke="#a8a8a8" stroke-opacity="0.13" stroke-width="0.8" stroke-linejoin="round"/>
<polyline points="391.1,204.1 392.1,204.6 393.1,205.1 394.1,205.9 395.1,206.8 396.1,208.0 397.1,209.2 398.1,210.6 399.1,212.0 400.1,213.4 401.1,214.7 402.1,215.8 403.1,216.8 404.1,217.5 405.1,218.0 406.1,218.3 407.1,218.2 408.1,217.9 409.1,217.2 410.1,216.3 411.1,215.0 412.1,213.4 413.1,211.7 414.1,209.8 415.1,207.9 416.1,206.1 417.1,204.7 418.1,203.6 419.1,202.9 420.1,202.8 421.1,203.2 422.1,204.1 423.1,205.4 424.1,207.0 425.1,208.7 426.1,210.5 427.1,212.2 428.1,213.8 429.1,215.1 430.1,216.1 431.1,216.8 432.1,217.2 433.1,217.3 434.1,217.2 435.1,216.8 436.1,216.2 437.1,215.3 438.1,214.1 439.1,212.6 440.1,210.8 441.1,208.8 442.1,206.7 443.1,204.5 444.1,202.3 445.1,200.4 446.1,198.7 447.1,197.5 448.1,196.7 449.1,196.3 450.1,196.5 451.1,197.0 452.1,197.9 453.1,199.1 454.1,200.6 455.1,202.2 456.1,203.8 457.1,205.3 458.1,206.7 459.1,207.9 460.1,208.9 461.1,209.6 462.1,210.1 463.1,210.3 464.1,210.3 465.1,210.1 466.1,209.7 467.1,209.0 468.1,208.1 469.1,207.1 470.1,205.8 471.1,204.5 472.1,203.1 473.1,201.7 474.1,200.4 475.1,199.3" fill="none" stroke="#a8a8a8" stroke-opacity="0.13" stroke-width="0.8" stroke-linejoin="round"/>
<polyline points="390.7,201.9 391.7,202.4 392.7,202.9 393.7,203.7 394.7,204.7 395.7,205.8 396.7,207.0 397.7,208.4 398.7,209.8 399.7,211.2 400.7,212.5 401.7,213.6 402.7,214.6 403.7,215.3 404.7,215.8 405.7,216.1 406.7,216.0 407.7,215.7 408.7,215.1 409.7,214.1 410.7,212.8 411.7,211.2 412.7,209.5 413.7,207.6 414.7,205.7 415.7,203.9 416.7,202.5 417.7,201.4 418.7,200.7 419.7,200.6 420.7,201.0 421.7,201.9 422.7,203.2 423.7,204.8 424.7,206.5 425.7,208.3 426.7,210.1 427.7,211.6 428.7,212.9 429.7,213.9 430.7,214.6 431.7,215.0 432.7,215.1 433.7,215.0 434.7,214.6 435.7,214.0 436.7,213.1 437.7,211.9 438.7,210.4 439.7,208.6 440.7,206.7 441.7,204.5 442.7,202.3 443.7,200.1 444.7,198.2 445.7,196.5 446.7,195.3 447.7,194.5 448.7,194.1 449.7,194.2 450.7,194.8 451.7,195.7 452.7,196.9 453.7,198.4 454.7,200.0 455.7,201.6 456.7,203.1 457.7,204.5 458.7,205.7 459.7,206.7 460.7,207.4 461.7,207.9 462.7,208.1 463.7,208.1 464.7,207.9 465.7,207.5 466.7,206.8 467.7,205.9 468.7,204.9 469.7,203.6 470.7,202.3 471.7,200.9 472.7,199.5 473.7,198.2 474.7,197.1" fill="none" stroke="#a8a8a8" stroke-opacity="0.13" stroke-width="0.8" stroke-linejoin="round"/>
<polyline points="391.5,197.9 392.5,198.4 393.5,199.0 394.5,199.9 395.5,201.0 396.5,202.3 397.5,203.7 398.5,205.3 399.5,206.9 400.5,208.5 401.5,210.0 402.5,211.3 403.5,212.4 404.5,213.3 405.5,213.8 406.5,214.1 407.5,214.1 408.5,213.7 409.5,212.9 410.5,211.8 411.5,210.3 412.5,208.5 413.5,206.5 414.5,204.4 415.5,202.2 416.5,200.2 417.5,198.5 418.5,197.2 419.5,196.5 420.5,196.3 421.5,196.8 422.5,197.8 423.5,199.3 424.5,201.1 425.5,203.2 426.5,205.2 427.5,207.2 428.5,209.0 429.5,210.4 430.5,211.6 431.5,212.4 432.5,212.9 433.5,213.0 434.5,212.9 435.5,212.4 436.5,211.7 437.5,210.7 438.5,209.3 439.5,207.6 440.5,205.6 441.5,203.3 442.5,200.8 443.5,198.3 444.5,195.8 445.5,193.6 446.5,191.7 447.5,190.2 448.5,189.3 449.5,188.9 450.5,189.0 451.5,189.7 452.5,190.7 453.5,192.1 454.5,193.8 455.5,195.6 456.5,197.4 457.5,199.2 458.5,200.8 459.5,202.2 460.5,203.4 461.5,204.2 462.5,204.7 463.5,205.0 464.5,205.0 465.5,204.7 466.5,204.2 467.5,203.5 468.5,202.5 469.5,201.2 470.5,199.8 471.5,198.3 472.5,196.7 473.5,195.1 474.5,193.6 475.5,192.3" fill="none" stroke="#a8a8a8" stroke-opacity="0.13" stroke-width="0.8" stroke-linejoin="round"/>
<polyline points="393.6,196.5 394.6,197.0 395.6,197.7 396.6,198.7 397.6,199.9 398.6,201.3 399.6,202.8 400.6,204.6 401.6,206.3 402.6,208.0 403.6,209.7 404.6,211.1 405.6,212.3 406.6,213.3 407.6,213.9 408.6,214.2 409.6,214.1 410.6,213.7 411.6,212.9 412.6,211.7 413.6,210.1 414.6,208.1 415.6,205.9 416.6,203.5 417.6,201.2 418.6,199.0 419.6,197.1 420.6,195.7 421.6,194.9 422.6,194.8 423.6,195.3 424.6,196.4 425.6,198.0 426.6,200.0 427.6,202.2 428.6,204.5 429.6,206.6 430.6,208.6 431.6,210.2 432.6,211.4 433.6,212.3 434.6,212.8 435.6,213.0 436.6,212.8 437.6,212.4 438.6,211.6 439.6,210.4 440.6,208.9 441.6,207.1 442.6,204.9 443.6,202.4 444.6,199.7 445.6,196.9 446.6,194.2 447.6,191.8 448.6,189.7 449.6,188.1 450.6,187.1 451.6,186.7 452.6,186.8 453.6,187.5 454.6,188.7 455.6,190.2 456.6,192.0 457.6,194.0 458.6,196.0 459.6,197.9 460.6,199.7 461.6,201.2 462.6,202.5 463.6,203.4 464.6,204.0 465.6,204.2 466.6,204.2 467.6,204.0 468.6,203.4 469.6,202.6 470.6,201.5 471.6,200.1 472.6,198.6 473.6,196.9 474.6,195.1 475.6,193.4 476.6,191.8 477.6,190.4" fill="none" stroke="#a8a8a8" stroke-opacity="0.13" stroke-width="0.8" stroke-linejoin="round"/>
<polyline points="393.6,195.2 394.6,195.8 395.6,196.5 396.6,197.5 397.6,198.7 398.6,200.1 399.6,201.8 400.6,203.5 401.6,205.3 402.6,207.1 403.6,208.7 404.6,210.2 405.6,211.4 406.6,212.4 407.6,213.0 408.6,213.4 409.6,213.3 410.6,212.9 411.6,212.0 412.6,210.8 413.6,209.1 414.6,207.1 415.6,204.9 416.6,202.5 417.6,200.1 418.6,197.8 419.6,195.9 420.6,194.5 421.6,193.7 422.6,193.5 423.6,194.1 424.6,195.2 425.6,196.8 426.6,198.9 427.6,201.1 428.6,203.4 429.6,205.6 430.6,207.6 431.6,209.2 432.6,210.5 433.6,211.4 434.6,211.9 435.6,212.1 436.6,212.0 437.6,211.5 438.6,210.7 439.6,209.5 440.6,208.0 441.6,206.1 442.6,203.8 443.6,201.3 444.6,198.5 445.6,195.7 446.6,192.9 447.6,190.4 448.6,188.3 449.6,186.7 450.6,185.7 451.6,185.2 452.6,185.4 453.6,186.1 454.6,187.3 455.6,188.8 456.6,190.7 457.6,192.7 458.6,194.8 459.6,196.7 460.6,198.5 461.6,200.1 462.6,201.4 463.6,202.3 464.6,202.9 465.6,203.2 466.6,203.2 467.6,202.9 468.6,202.3 469.6,201.5 470.6,200.4 471.6,199.0 472.6,197.4 473.6,195.7 474.6,193.9 475.6,192.1 476.6,190.5 477.6,189.0" fill="none" stroke="#a8a8a8" stroke-opacity="0.13" stroke-width="0.8" stroke-linejoin="round"/>
<polyline points="396.7,202.4 397.7,202.8 398.7,203.4 399.7,204.2 400.7,205.1 401.7,206.3 402.7,207.5 403.7,208.9 404.7,210.3 405.7,211.7 406.7,213.0 407.7,214.2 408.7,215.2 409.7,215.9 410.7,216.4 411.7,216.7 412.7,216.7 413.7,216.3 414.7,215.7 415.7,214.7 416.7,213.4 417.7,211.8 418.7,210.0 419.7,208.1 420.7,206.2 421.7,204.4 422.7,202.9 423.7,201.8 424.7,201.2 425.7,201.0 426.7,201.4 427.7,202.3 428.7,203.6 429.7,205.3 430.7,207.0 431.7,208.9 432.7,210.6 433.7,212.2 434.7,213.5 435.7,214.5 436.7,215.2 437.7,215.6 438.7,215.7 439.7,215.6 440.7,215.2 441.7,214.6 442.7,213.6 443.7,212.4 444.7,210.9 445.7,209.2 446.7,207.2 447.7,205.0 448.7,202.7 449.7,200.6 450.7,198.6 451.7,196.9 452.7,195.6 453.7,194.8 454.7,194.5 455.7,194.6 456.7,195.2 457.7,196.1 458.7,197.3 459.7,198.8 460.7,200.4 461.7,202.0 462.7,203.6 463.7,205.0 464.7,206.2 465.7,207.2 466.7,208.0 467.7,208.4 468.7,208.7 469.7,208.7 470.7,208.4 471.7,208.0 472.7,207.3 473.7,206.4 474.7,205.3 475.7,204.1 476.7,202.7 477.7,201.3 478.7,199.9 479.7,198.6 480.7,197.5" fill="none" stroke="#a8a8a8" stroke-opacity="0.13" stroke-width="0.8" stroke-linejoin="round"/>
<polyline points="394.9,193.1 395.9,193.7 396.9,194.4 397.9,195.5 398.9,196.8 399.9,198.3 400.9,200.0 401.9,201.9 402.9,203.8 403.9,205.6 404.9,207.4 405.9,209.0 406.9,210.3 407.9,211.3 408.9,212.0 409.9,212.3 410.9,212.3 411.9,211.8 412.9,210.9 413.9,209.6 414.9,207.8 415.9,205.7 416.9,203.3 417.9,200.8 418.9,198.2 419.9,195.8 420.9,193.8 421.9,192.3 422.9,191.4 423.9,191.3 424.9,191.8 425.9,193.0 426.9,194.8 427.9,196.9 428.9,199.3 429.9,201.8 430.9,204.1 431.9,206.2 432.9,208.0 433.9,209.3 434.9,210.3 435.9,210.8 436.9,211.0 437.9,210.8 438.9,210.3 439.9,209.5 440.9,208.2 441.9,206.6 442.9,204.6 443.9,202.2 444.9,199.5 445.9,196.6 446.9,193.6 447.9,190.6 448.9,188.0 449.9,185.7 450.9,184.0 451.9,182.9 452.9,182.5 453.9,182.6 454.9,183.4 455.9,184.6 456.9,186.3 457.9,188.2 458.9,190.4 459.9,192.6 460.9,194.7 461.9,196.6 462.9,198.2 463.9,199.6 464.9,200.6 465.9,201.2 466.9,201.5 467.9,201.5 468.9,201.2 469.9,200.6 470.9,199.7 471.9,198.5 472.9,197.1 473.9,195.4 474.9,193.6 475.9,191.7 476.9,189.8 477.9,188.0 478.9,186.5" fill="none" stroke="#a8a8a8" stroke-opacity="0.13" stroke-width="0.8" stroke-linejoin="round"/>
<polyline points="394.1,202.1 395.1,202.5 396.1,203.1 397.1,203.9 398.1,204.8 399.1,206.0 400.1,207.2 401.1,208.6 402.1,210.0 403.1,211.4 404.1,212.8 405.1,213.9 406.1,214.9 407.1,215.7 408.1,216.2 409.1,216.4 410.1,216.4 411.1,216.0 412.1,215.4 413.1,214.4 414.1,213.1 415.1,211.5 416.1,209.7 417.1,207.8 418.1,205.9 419.1,204.1 420.1,202.6 421.1,201.5 422.1,200.9 423.1,200.7 424.1,201.1 425.1,202.0 426.1,203.4 427.1,205.0 428.1,206.8 429.1,208.6 430.1,210.3 431.1,211.9 432.1,213.2 433.1,214.2 434.1,214.9 435.1,215.3 436.1,215.4 437.1,215.3 438.1,214.9 439.1,214.3 440.1,213.4 441.1,212.2 442.1,210.7 443.1,208.9 444.1,206.9 445.1,204.7 446.1,202.4 447.1,200.3 448.1,198.3 449.1,196.6 450.1,195.3 451.1,194.5 452.1,194.2 453.1,194.3 454.1,194.9 455.1,195.8 456.1,197.0 457.1,198.5 458.1,200.1 459.1,201.7 460.1,203.3 461.1,204.7 462.1,205.9 463.1,206.9 464.1,207.7 465.1,208.1 466.1,208.4 467.1,208.4 468.1,208.1 469.1,207.7 470.1,207.0 471.1,206.1 472.1,205.1 473.1,203.8 474.1,202.4 475.1,201.0 476.1,199.6 477.1,198.3 478.1,197.2" fill="none" stroke="#a8a8a8" stroke-opacity="0.13" stroke-width="0.8" stroke-linejoin="round"/>
<polyline points="392.1,193.3 393.1,193.9 394.1,194.7 395.1,195.7 396.1,197.0 397.1,198.6 398.1,200.3 399.1,202.2 400.1,204.1 401.1,206.0 402.1,207.8 403.1,209.4 404.1,210.8 405.1,211.8 406.1,212.5 407.1,212.8 408.1,212.8 409.1,212.3 410.1,211.4 411.1,210.1 412.1,208.3 413.1,206.1 414.1,203.7 415.1,201.1 416.1,198.5 417.1,196.1 418.1,194.0 419.1,192.5 420.1,191.6 421.1,191.5 422.1,192.0 423.1,193.2 424.1,195.0 425.1,197.2 426.1,199.7 427.1,202.1 428.1,204.5 429.1,206.6 430.1,208.4 431.1,209.8 432.1,210.7 433.1,211.3 434.1,211.5 435.1,211.3 436.1,210.8 437.1,209.9 438.1,208.7 439.1,207.0 440.1,205.0 441.1,202.6 442.1,199.8 443.1,196.8 444.1,193.8 445.1,190.8 446.1,188.1 447.1,185.8 448.1,184.1 449.1,183.0 450.1,182.5 451.1,182.7 452.1,183.4 453.1,184.7 454.1,186.4 455.1,188.4 456.1,190.6 457.1,192.8 458.1,194.9 459.1,196.9 460.1,198.5 461.1,199.9 462.1,200.9 463.1,201.6 464.1,201.9 465.1,201.9 466.1,201.5 467.1,200.9 468.1,200.0 469.1,198.8 470.1,197.3 471.1,195.6 472.1,193.8 473.1,191.9 474.1,190.0 475.1,188.2 476.1,186.6" fill="none" stroke="#a8a8a8" stroke-opacity="0.13" stroke-width="0.8" stroke-linejoin="round"/>
<polyline points="397.2,199.4 398.2,199.9 399.2,200.5 400.2,201.4 401.2,202.5 402.2,203.8 403.2,205.2 404.2,206.8 405.2,208.4 406.2,210.0 407.2,211.5 408.2,212.8 409.2,213.9 410.2,214.8 411.2,215.4 412.2,215.7 413.2,215.6 414.2,215.2 415.2,214.5 416.2,213.3 417.2,211.9 418.2,210.1 419.2,208.0 420.2,205.9 421.2,203.7 422.2,201.7 423.2,200.0 424.2,198.7 425.2,198.0 426.2,197.8 427.2,198.3 428.2,199.3 429.2,200.8 430.2,202.6 431.2,204.7 432.2,206.7 433.2,208.7 434.2,210.5 435.2,212.0 436.2,213.1 437.2,213.9 438.2,214.4 439.2,214.5 440.2,214.4 441.2,214.0 442.2,213.2 443.2,212.2 444.2,210.8 445.2,209.1 446.2,207.1 447.2,204.8 448.2,202.3 449.2,199.8 450.2,197.3 451.2,195.0 452.2,193.1 453.2,191.7 454.2,190.8 455.2,190.4 456.2,190.5 457.2,191.1 458.2,192.2 459.2,193.6 460.2,195.3 461.2,197.1 462.2,198.9 463.2,200.7 464.2,202.3 465.2,203.7 466.2,204.9 467.2,205.7 468.2,206.3 469.2,206.5 470.2,206.5 471.2,206.2 472.2,205.7 473.2,205.0 474.2,204.0 475.2,202.7 476.2,201.3 477.2,199.8 478.2,198.2 479.2,196.6 480.2,195.1 481.2,193.8" fill="none" stroke="#a8a8a8" stroke-opacity="0.13" stroke-width="0.8" stroke-linejoin="round"/>
<polyline points="392.7,198.4 393.7,198.8 394.7,199.5 395.7,200.3 396.7,201.4 397.7,202.7 398.7,204.1 399.7,205.6 400.7,207.2 401.7,208.8 402.7,210.2 403.7,211.5 404.7,212.6 405.7,213.5 406.7,214.0 407.7,214.3 408.7,214.3 409.7,213.9 410.7,213.2 411.7,212.1 412.7,210.6 413.7,208.8 414.7,206.8 415.7,204.7 416.7,202.6 417.7,200.6 418.7,198.9 419.7,197.7 420.7,197.0 421.7,196.9 422.7,197.3 423.7,198.3 424.7,199.8 425.7,201.6 426.7,203.6 427.7,205.6 428.7,207.5 429.7,209.2 430.7,210.7 431.7,211.8 432.7,212.6 433.7,213.1 434.7,213.2 435.7,213.1 436.7,212.7 437.7,211.9 438.7,210.9 439.7,209.6 440.7,207.9 441.7,205.9 442.7,203.7 443.7,201.2 444.7,198.7 445.7,196.3 446.7,194.1 447.7,192.3 448.7,190.8 449.7,189.9 450.7,189.5 451.7,189.7 452.7,190.3 453.7,191.3 454.7,192.7 455.7,194.3 456.7,196.1 457.7,197.9 458.7,199.7 459.7,201.3 460.7,202.6 461.7,203.7 462.7,204.6 463.7,205.1 464.7,205.4 465.7,205.4 466.7,205.1 467.7,204.6 468.7,203.8 469.7,202.9 470.7,201.7 471.7,200.3 472.7,198.8 473.7,197.2 474.7,195.6 475.7,194.2 476.7,192.9" fill="none" stroke="#a8a8a8" stroke-opacity="0.13" stroke-width="0.8" stroke-linejoin="round"/>
<polyline points="393.7,201.5 394.7,201.9 395.7,202.5 396.7,203.3 397.7,204.3 398.7,205.4 399.7,206.7 400.7,208.1 401.7,209.5 402.7,210.9 403.7,212.2 404.7,213.4 405.7,214.3 406.7,215.1 407.7,215.6 408.7,215.9 409.7,215.8 410.7,215.5 411.7,214.8 412.7,213.8 413.7,212.5 414.7,210.9 415.7,209.2 416.7,207.2 417.7,205.3 418.7,203.6 419.7,202.1 420.7,200.9 421.7,200.3 422.7,200.2 423.7,200.6 424.7,201.5 425.7,202.8 426.7,204.4 427.7,206.2 428.7,208.0 429.7,209.7 430.7,211.3 431.7,212.6 432.7,213.6 433.7,214.3 434.7,214.7 435.7,214.9 436.7,214.8 437.7,214.4 438.7,213.7 439.7,212.8 440.7,211.6 441.7,210.1 442.7,208.3 443.7,206.3 444.7,204.1 445.7,201.9 446.7,199.7 447.7,197.7 448.7,196.0 449.7,194.8 450.7,193.9 451.7,193.6 452.7,193.7 453.7,194.3 454.7,195.2 455.7,196.4 456.7,197.9 457.7,199.5 458.7,201.1 459.7,202.7 460.7,204.1 461.7,205.4 462.7,206.4 463.7,207.1 464.7,207.6 465.7,207.8 466.7,207.8 467.7,207.6 468.7,207.1 469.7,206.5 470.7,205.6 471.7,204.5 472.7,203.2 473.7,201.9 474.7,200.5 475.7,199.1 476.7,197.8 477.7,196.6" fill="none" stroke="#a8a8a8" stroke-opacity="0.13" stroke-width="0.8" stroke-linejoin="round"/>
<polyline points="397.4,205.9 398.4,206.3 399.4,206.9 400.4,207.6 401.4,208.4 402.4,209.5 403.4,210.7 404.4,212.0 405.4,213.3 406.4,214.6 407.4,215.8 408.4,216.8 409.4,217.7 410.4,218.4 411.4,218.9 412.4,219.1 413.4,219.1 414.4,218.8 415.4,218.2 416.4,217.3 417.4,216.1 418.4,214.6 419.4,213.0 420.4,211.2 421.4,209.4 422.4,207.8 423.4,206.4 424.4,205.4 425.4,204.8 426.4,204.7 427.4,205.0 428.4,205.9 429.4,207.1 430.4,208.6 431.4,210.2 432.4,211.9 433.4,213.5 434.4,214.9 435.4,216.1 436.4,217.1 437.4,217.7 438.4,218.1 439.4,218.2 440.4,218.1 441.4,217.8 442.4,217.2 443.4,216.3 444.4,215.2 445.4,213.8 446.4,212.2 447.4,210.3 448.4,208.3 449.4,206.2 450.4,204.2 451.4,202.4 452.4,200.9 453.4,199.7 454.4,198.9 455.4,198.6 456.4,198.7 457.4,199.2 458.4,200.1 459.4,201.2 460.4,202.6 461.4,204.0 462.4,205.6 463.4,207.0 464.4,208.3 465.4,209.5 466.4,210.4 467.4,211.1 468.4,211.5 469.4,211.7 470.4,211.7 471.4,211.5 472.4,211.1 473.4,210.5 474.4,209.7 475.4,208.7 476.4,207.5 477.4,206.2 478.4,204.9 479.4,203.6 480.4,202.4 481.4,201.4" fill="none" stroke="#a8a8a8" stroke-opacity="0.13" stroke-width="0.8" stroke-linejoin="round"/>
<polyline points="395.7,205.0 396.7,205.4 397.7,206.0 398.7,206.7 399.7,207.5 400.7,208.6 401.7,209.8 402.7,211.0 403.7,212.3 404.7,213.6 405.7,214.8 406.7,215.9 407.7,216.8 408.7,217.5 409.7,218.0 410.7,218.2 411.7,218.2 412.7,217.9 413.7,217.3 414.7,216.3 415.7,215.1 416.7,213.7 417.7,212.0 418.7,210.3 419.7,208.5 420.7,206.9 421.7,205.5 422.7,204.5 423.7,203.9 424.7,203.8 425.7,204.2 426.7,205.0 427.7,206.2 428.7,207.7 429.7,209.3 430.7,211.0 431.7,212.6 432.7,214.0 433.7,215.2 434.7,216.1 435.7,216.8 436.7,217.2 437.7,217.3 438.7,217.2 439.7,216.8 440.7,216.3 441.7,215.4 442.7,214.3 443.7,212.9 444.7,211.3 445.7,209.4 446.7,207.4 447.7,205.3 448.7,203.3 449.7,201.5 450.7,200.0 451.7,198.8 452.7,198.1 453.7,197.7 454.7,197.8 455.7,198.4 456.7,199.2 457.7,200.4 458.7,201.7 459.7,203.2 460.7,204.7 461.7,206.1 462.7,207.4 463.7,208.6 464.7,209.5 465.7,210.2 466.7,210.6 467.7,210.8 468.7,210.8 469.7,210.6 470.7,210.2 471.7,209.6 472.7,208.7 473.7,207.8 474.7,206.6 475.7,205.4 476.7,204.0 477.7,202.8 478.7,201.6 479.7,200.5" fill="none" stroke="#a8a8a8" stroke-opacity="0.13" stroke-width="0.8" stroke-linejoin="round"/>
<polyline points="398.0,192.3 399.0,192.9 400.0,193.7 401.0,194.8 402.0,196.1 403.0,197.6 404.0,199.4 405.0,201.2 406.0,203.2 407.0,205.1 408.0,206.9 409.0,208.4 410.0,209.8 411.0,210.8 412.0,211.5 413.0,211.8 414.0,211.8 415.0,211.3 416.0,210.4 417.0,209.1 418.0,207.3 419.0,205.2 420.0,202.7 421.0,200.1 422.0,197.5 423.0,195.1 424.0,193.0 425.0,191.5 426.0,190.6 427.0,190.5 428.0,191.0 429.0,192.3 430.0,194.1 431.0,196.2 432.0,198.7 433.0,201.2 434.0,203.5 435.0,205.6 436.0,207.4 437.0,208.8 438.0,209.8 439.0,210.3 440.0,210.5 441.0,210.3 442.0,209.8 443.0,208.9 444.0,207.7 445.0,206.0 446.0,204.0 447.0,201.6 448.0,198.8 449.0,195.9 450.0,192.8 451.0,189.8 452.0,187.1 453.0,184.9 454.0,183.1 455.0,182.0 456.0,181.5 457.0,181.7 458.0,182.5 459.0,183.7 460.0,185.4 461.0,187.4 462.0,189.6 463.0,191.8 464.0,193.9 465.0,195.9 466.0,197.6 467.0,198.9 468.0,199.9 469.0,200.6 470.0,200.9 471.0,200.9 472.0,200.6 473.0,200.0 474.0,199.0 475.0,197.8 476.0,196.4 477.0,194.7 478.0,192.8 479.0,190.9 480.0,189.0 481.0,187.2 482.0,185.6" fill="none" stroke="#a8a8a8" stroke-opacity="0.13" stroke-width="0.8" stroke-linejoin="round"/>
<polyline points="396.3,195.5 397.3,196.0 398.3,196.8 399.3,197.7 400.3,198.9 401.3,200.3 402.3,201.8 403.3,203.5 404.3,205.3 405.3,207.0 406.3,208.6 407.3,210.0 408.3,211.2 409.3,212.2 410.3,212.8 411.3,213.1 412.3,213.0 413.3,212.6 414.3,211.8 415.3,210.6 416.3,209.0 417.3,207.1 418.3,204.9 419.3,202.5 420.3,200.2 421.3,198.0 422.3,196.2 423.3,194.8 424.3,194.0 425.3,193.9 426.3,194.4 427.3,195.5 428.3,197.1 429.3,199.1 430.3,201.2 431.3,203.5 432.3,205.6 433.3,207.5 434.3,209.1 435.3,210.3 436.3,211.2 437.3,211.7 438.3,211.9 439.3,211.7 440.3,211.3 441.3,210.5 442.3,209.3 443.3,207.9 444.3,206.0 445.3,203.8 446.3,201.4 447.3,198.7 448.3,196.0 449.3,193.3 450.3,190.9 451.3,188.8 452.3,187.2 453.3,186.2 454.3,185.8 455.3,186.0 456.3,186.6 457.3,187.8 458.3,189.3 459.3,191.1 460.3,193.1 461.3,195.0 462.3,197.0 463.3,198.7 464.3,200.2 465.3,201.5 466.3,202.4 467.3,202.9 468.3,203.2 469.3,203.2 470.3,202.9 471.3,202.4 472.3,201.6 473.3,200.5 474.3,199.2 475.3,197.6 476.3,196.0 477.3,194.2 478.3,192.5 479.3,190.9 480.3,189.5" fill="none" stroke="#a8a8a8" stroke-opacity="0.13" stroke-width="0.8" stroke-linejoin="round"/>
<polyline points="394.6,197.4 395.6,197.9 396.6,198.6 397.6,199.5 398.6,200.7 399.6,202.0 400.6,203.5 401.6,205.1 402.6,206.8 403.6,208.4 404.6,209.9 405.6,211.3 406.6,212.4 407.6,213.3 408.6,213.9 409.6,214.2 410.6,214.2 411.6,213.8 412.6,213.0 413.6,211.8 414.6,210.3 415.6,208.5 416.6,206.4 417.6,204.1 418.6,201.9 419.6,199.8 420.6,198.1 421.6,196.8 422.6,196.0 423.6,195.9 424.6,196.3 425.6,197.4 426.6,198.9 427.6,200.8 428.6,202.9 429.6,205.0 430.6,207.1 431.6,208.9 432.6,210.4 433.6,211.6 434.6,212.4 435.6,212.9 436.6,213.1 437.6,212.9 438.6,212.5 439.6,211.7 440.6,210.6 441.6,209.2 442.6,207.5 443.6,205.4 444.6,203.0 445.6,200.5 446.6,197.8 447.6,195.3 448.6,193.0 449.6,191.0 450.6,189.5 451.6,188.6 452.6,188.2 453.6,188.3 454.6,189.0 455.6,190.1 456.6,191.5 457.6,193.2 458.6,195.1 459.6,197.0 460.6,198.8 461.6,200.5 462.6,201.9 463.6,203.1 464.6,204.0 465.6,204.5 466.6,204.8 467.6,204.8 468.6,204.5 469.6,204.0 470.6,203.2 471.6,202.2 472.6,200.9 473.6,199.5 474.6,197.9 475.6,196.2 476.6,194.6 477.6,193.0 478.6,191.7" fill="none" stroke="#a8a8a8" stroke-opacity="0.13" stroke-width="0.8" stroke-linejoin="round"/>
<polyline points="396.6,200.7 397.6,201.2 398.6,201.8 399.6,202.7 400.6,203.7 401.6,205.0 402.6,206.4 403.6,207.9 404.6,209.4 405.6,211.0 406.6,212.4 407.6,213.7 408.6,214.7 409.6,215.6 410.6,216.1 411.6,216.4 412.6,216.4 413.6,216.0 414.6,215.3 415.6,214.2 416.6,212.8 417.6,211.0 418.6,209.1 419.6,207.0 420.6,204.9 421.6,202.9 422.6,201.3 423.6,200.1 424.6,199.4 425.6,199.2 426.6,199.7 427.6,200.7 428.6,202.1 429.6,203.9 430.6,205.8 431.6,207.8 432.6,209.7 433.6,211.4 434.6,212.8 435.6,213.9 436.6,214.7 437.6,215.2 438.6,215.3 439.6,215.2 440.6,214.8 441.6,214.1 442.6,213.1 443.6,211.7 444.6,210.1 445.6,208.1 446.6,205.9 447.6,203.5 448.6,201.1 449.6,198.7 450.6,196.5 451.6,194.7 452.6,193.3 453.6,192.4 454.6,192.0 455.6,192.2 456.6,192.8 457.6,193.8 458.6,195.2 459.6,196.8 460.6,198.5 461.6,200.3 462.6,202.0 463.6,203.6 464.6,204.9 465.6,206.0 466.6,206.8 467.6,207.3 468.6,207.6 469.6,207.6 470.6,207.3 471.6,206.8 472.6,206.1 473.6,205.1 474.6,204.0 475.6,202.6 476.6,201.1 477.6,199.5 478.6,198.0 479.6,196.6 480.6,195.3" fill="none" stroke="#a8a8a8" stroke-opacity="0.13" stroke-width="0.8" stroke-linejoin="round"/>
<line x1="402.0" x2="402.0" y1="199.6" y2="211.2" stroke="#bdbdbd" stroke-opacity="0.4" stroke-width="0.7"/>
<line x1="399.5" x2="399.5" y1="192.9" y2="207.4" stroke="#bdbdbd" stroke-opacity="0.4" stroke-width="0.7"/>
<line x1="395.0" x2="395.0" y1="184.1" y2="202.9" stroke="#bdbdbd" stroke-opacity="0.4" stroke-width="0.7"/>
<line x1="466.0" x2="466.0" y1="196.6" y2="209.3" stroke="#bdbdbd" stroke-opacity="0.4" stroke-width="0.7"/>
<line x1="422.0" x2="422.0" y1="188.5" y2="201.1" stroke="#bdbdbd" stroke-opacity="0.4" stroke-width="0.7"/>
<line x1="443.0" x2="443.0" y1="198.8" y2="209.9" stroke="#bdbdbd" stroke-opacity="0.4" stroke-width="0.7"/>
<line x1="476.5" x2="476.5" y1="177.6" y2="199.0" stroke="#bdbdbd" stroke-opacity="0.4" stroke-width="0.7"/>
<line x1="397.5" x2="397.5" y1="187.4" y2="204.9" stroke="#bdbdbd" stroke-opacity="0.4" stroke-width="0.7"/>
<line x1="464.5" x2="464.5" y1="198.0" y2="208.9" stroke="#bdbdbd" stroke-opacity="0.4" stroke-width="0.7"/>
<line x1="398.5" x2="398.5" y1="191.5" y2="206.1" stroke="#bdbdbd" stroke-opacity="0.4" stroke-width="0.7"/>
<line x1="476.5" x2="476.5" y1="174.1" y2="199.0" stroke="#bdbdbd" stroke-opacity="0.4" stroke-width="0.7"/>
<line x1="462.5" x2="462.5" y1="197.4" y2="207.2" stroke="#bdbdbd" stroke-opacity="0.4" stroke-width="0.7"/>
<line x1="452.0" x2="452.0" y1="179.6" y2="193.8" stroke="#bdbdbd" stroke-opacity="0.4" stroke-width="0.7"/>
<line x1="417.0" x2="417.0" y1="197.1" y2="208.7" stroke="#bdbdbd" stroke-opacity="0.4" stroke-width="0.7"/>
<line x1="461.5" x2="461.5" y1="181.7" y2="206.0" stroke="#bdbdbd" stroke-opacity="0.4" stroke-width="0.7"/>
<line x1="398.0" x2="398.0" y1="183.5" y2="205.5" stroke="#bdbdbd" stroke-opacity="0.4" stroke-width="0.7"/>
<line x1="475.5" x2="475.5" y1="175.1" y2="200.5" stroke="#bdbdbd" stroke-opacity="0.4" stroke-width="0.7"/>
<line x1="478.0" x2="478.0" y1="175.4" y2="197.1" stroke="#bdbdbd" stroke-opacity="0.4" stroke-width="0.7"/>
<line x1="476.5" x2="476.5" y1="178.4" y2="199.0" stroke="#bdbdbd" stroke-opacity="0.4" stroke-width="0.7"/>
<line x1="402.5" x2="402.5" y1="187.0" y2="211.9" stroke="#bdbdbd" stroke-opacity="0.4" stroke-width="0.7"/>
<line x1="473.5" x2="473.5" y1="178.0" y2="203.6" stroke="#bdbdbd" stroke-opacity="0.4" stroke-width="0.7"/>
<line x1="474.0" x2="474.0" y1="180.2" y2="202.8" stroke="#bdbdbd" stroke-opacity="0.4" stroke-width="0.7"/>
<line x1="446.5" x2="446.5" y1="185.1" y2="201.6" stroke="#bdbdbd" stroke-opacity="0.4" stroke-width="0.7"/>
<line x1="470.0" x2="470.0" y1="185.4" y2="207.9" stroke="#bdbdbd" stroke-opacity="0.4" stroke-width="0.7"/>
<line x1="463.0" x2="463.0" y1="193.4" y2="207.8" stroke="#bdbdbd" stroke-opacity="0.4" stroke-width="0.7"/>
<line x1="426.0" x2="426.0" y1="190.5" y2="203.8" stroke="#bdbdbd" stroke-opacity="0.4" stroke-width="0.7"/>
<line x1="398.0" x2="398.0" y1="189.5" y2="205.5" stroke="#bdbdbd" stroke-opacity="0.4" stroke-width="0.7"/>
<line x1="470.0" x2="470.0" y1="190.8" y2="207.9" stroke="#bdbdbd" stroke-opacity="0.4" stroke-width="0.7"/>
<line x1="447.5" x2="447.5" y1="188.5" y2="199.3" stroke="#bdbdbd" stroke-opacity="0.4" stroke-width="0.7"/>
<line x1="452.5" x2="452.5" y1="170.3" y2="193.8" stroke="#bdbdbd" stroke-opacity="0.4" stroke-width="0.7"/>
<line x1="466.0" x2="466.0" y1="190.4" y2="209.3" stroke="#bdbdbd" stroke-opacity="0.4" stroke-width="0.7"/>
<line x1="469.5" x2="469.5" y1="200.1" y2="208.3" stroke="#bdbdbd" stroke-opacity="0.4" stroke-width="0.7"/>
<line x1="456.0" x2="456.0" y1="170.5" y2="196.9" stroke="#bdbdbd" stroke-opacity="0.4" stroke-width="0.7"/>
<line x1="424.5" x2="424.5" y1="181.9" y2="201.9" stroke="#bdbdbd" stroke-opacity="0.4" stroke-width="0.7"/>
<line x1="442.0" x2="442.0" y1="186.6" y2="211.8" stroke="#bdbdbd" stroke-opacity="0.4" stroke-width="0.7"/>
<line x1="427.0" x2="427.0" y1="184.1" y2="205.6" stroke="#bdbdbd" stroke-opacity="0.4" stroke-width="0.7"/>
<line x1="477.0" x2="477.0" y1="170.4" y2="198.3" stroke="#bdbdbd" stroke-opacity="0.4" stroke-width="0.7"/>
<line x1="464.0" x2="464.0" y1="189.7" y2="208.6" stroke="#bdbdbd" stroke-opacity="0.4" stroke-width="0.7"/>
<line x1="472.5" x2="472.5" y1="196.0" y2="205.0" stroke="#bdbdbd" stroke-opacity="0.4" stroke-width="0.7"/>
<line x1="461.5" x2="461.5" y1="191.0" y2="206.0" stroke="#bdbdbd" stroke-opacity="0.4" stroke-width="0.7"/>
<line x1="400.0" x2="400.0" y1="185.1" y2="208.1" stroke="#bdbdbd" stroke-opacity="0.4" stroke-width="0.7"/>
<line x1="465.5" x2="465.5" y1="196.2" y2="209.2" stroke="#bdbdbd" stroke-opacity="0.4" stroke-width="0.7"/>
<line x1="425.5" x2="425.5" y1="190.0" y2="203.1" stroke="#bdbdbd" stroke-opacity="0.4" stroke-width="0.7"/>
<line x1="442.5" x2="442.5" y1="191.3" y2="210.9" stroke="#bdbdbd" stroke-opacity="0.4" stroke-width="0.7"/>
<line x1="455.0" x2="455.0" y1="181.6" y2="195.5" stroke="#bdbdbd" stroke-opacity="0.4" stroke-width="0.7"/>
<line x1="446.5" x2="446.5" y1="180.3" y2="201.6" stroke="#bdbdbd" stroke-opacity="0.4" stroke-width="0.7"/>
<line x1="477.5" x2="477.5" y1="178.1" y2="197.7" stroke="#bdbdbd" stroke-opacity="0.4" stroke-width="0.7"/>
<line x1="453.5" x2="453.5" y1="171.6" y2="194.2" stroke="#bdbdbd" stroke-opacity="0.4" stroke-width="0.7"/>
<line x1="423.5" x2="423.5" y1="174.3" y2="201.1" stroke="#bdbdbd" stroke-opacity="0.4" stroke-width="0.7"/>
<line x1="472.0" x2="472.0" y1="177.8" y2="205.7" stroke="#bdbdbd" stroke-opacity="0.4" stroke-width="0.7"/>
<line x1="459.5" x2="459.5" y1="189.2" y2="202.9" stroke="#bdbdbd" stroke-opacity="0.4" stroke-width="0.7"/>
<line x1="454.0" x2="454.0" y1="177.3" y2="194.5" stroke="#bdbdbd" stroke-opacity="0.4" stroke-width="0.7"/>
<line x1="400.5" x2="400.5" y1="187.7" y2="208.9" stroke="#bdbdbd" stroke-opacity="0.4" stroke-width="0.7"/>
<line x1="456.0" x2="456.0" y1="188.5" y2="196.9" stroke="#bdbdbd" stroke-opacity="0.4" stroke-width="0.7"/>
<line x1="416.5" x2="416.5" y1="191.3" y2="209.8" stroke="#bdbdbd" stroke-opacity="0.4" stroke-width="0.7"/>
<line x1="471.5" x2="471.5" y1="193.5" y2="206.3" stroke="#bdbdbd" stroke-opacity="0.4" stroke-width="0.7"/>
<line x1="442.0" x2="442.0" y1="197.3" y2="211.8" stroke="#bdbdbd" stroke-opacity="0.4" stroke-width="0.7"/>
<line x1="402.5" x2="402.5" y1="191.0" y2="211.9" stroke="#bdbdbd" stroke-opacity="0.4" stroke-width="0.7"/>
<line x1="452.0" x2="452.0" y1="169.3" y2="193.8" stroke="#bdbdbd" stroke-opacity="0.4" stroke-width="0.7"/>
<line x1="429.0" x2="429.0" y1="198.6" y2="209.6" stroke="#bdbdbd" stroke-opacity="0.4" stroke-width="0.7"/>
<polyline points="394.0,195.0 394.3,196.2 394.7,197.1 395.0,198.0 396.0,198.8 397.0,199.5 398.0,199.4 399.0,199.0 399.0,198.1 399.0,197.2 399.0,196.2 399.1,195.3 399.1,194.4 399.1,193.5 399.1,192.6 399.1,191.7 399.1,190.8 399.1,189.8 399.1,188.9 399.1,188.0 399.2,187.1 399.2,186.2 399.2,185.2 399.2,184.3 399.2,183.4 399.2,182.5 399.2,181.6 399.2,180.7 399.3,179.8 399.3,178.8 399.3,177.9 399.3,177.0 399.3,177.9 399.3,178.8 399.3,179.8 399.4,180.7 399.4,181.6 399.4,182.5 399.4,183.4 399.4,184.4 399.4,185.3 399.5,186.2 399.5,187.1 399.5,188.0 399.5,189.0 399.5,189.9 399.5,190.8 399.6,191.7 399.6,192.6 399.6,193.6 399.6,194.5 399.6,195.4 399.6,196.3 399.7,197.2 399.7,198.2 399.7,199.1 399.7,200.0 399.8,201.0 399.9,202.0 399.9,203.0 400.0,204.0 400.2,205.0 400.5,206.0 400.8,207.0 401.0,208.0 401.5,208.5 402.0,206.5 402.5,210.1 403.0,211.0 403.5,211.8 404.0,213.0 404.5,213.8 405.0,215.0 405.2,215.9 405.5,216.8 405.8,217.6 406.0,218.5 406.5,217.8 407.1,216.9 407.6,216.0 407.7,215.0 407.8,214.0 407.8,213.0 407.9,212.0 408.0,211.0 408.1,212.0 408.1,213.0 408.2,214.0 408.3,215.0 408.3,216.0 408.4,217.0 408.9,217.6 409.5,218.4 410.0,219.5 410.5,218.7 411.0,217.8 411.5,217.4 412.0,216.5 412.5,215.8 413.0,214.7 413.5,213.7 414.0,213.0 415.0,212.0 415.0,212.9 415.1,213.9 415.1,214.8 415.1,215.7 415.2,216.6 415.2,217.6 415.2,218.5 415.3,219.4 415.3,220.4 415.4,221.3 415.4,222.2 415.4,223.1 415.5,224.1 415.5,225.0 415.6,224.1 415.7,223.1 415.8,222.2 415.9,221.2 416.0,220.3 416.1,219.4 416.2,218.4 416.2,217.5 416.3,216.6 416.4,215.6 416.5,214.7 416.6,213.8 416.7,212.8 416.8,211.9 416.9,210.9 417.0,210.0 417.1,209.1 417.2,208.2 417.3,207.3 417.4,206.4 417.5,205.5 417.5,204.5 417.6,203.6 417.7,202.7 417.8,201.8 417.9,200.9 418.0,200.0 418.1,198.8 418.2,197.7 418.3,196.5 419.1,194.9 420.0,195.0 420.3,194.0 420.5,193.0 420.8,192.0 421.0,191.0 421.3,190.0 421.3,189.1 421.3,188.1 421.3,187.2 421.3,186.2 421.4,185.3 421.4,184.4 421.4,183.4 421.4,182.5 421.4,181.5 421.4,180.6 421.4,179.6 421.4,178.7 421.5,177.8 421.5,176.8 421.5,175.9 421.5,174.9 421.5,174.0 421.5,174.9 421.5,175.9 421.6,176.8 421.6,177.8 421.6,178.7 421.6,179.7 421.6,180.6 421.6,181.6 421.6,182.5 421.7,183.4 421.7,184.4 421.7,185.3 421.7,186.3 421.7,187.2 421.8,188.2 421.8,189.1 421.8,190.1 421.8,191.0 422.2,192.0 422.6,190.8 423.0,193.5 423.8,192.9 424.5,192.5 424.5,191.6 424.5,190.7 424.6,189.8 424.6,188.8 424.6,187.9 424.6,187.0 424.6,186.1 424.7,185.2 424.7,184.3 424.7,183.4 424.7,182.4 424.7,181.5 424.8,180.6 424.8,179.7 424.8,178.8 424.8,177.9 424.8,177.0 424.9,176.0 424.9,175.1 424.9,174.2 424.9,173.3 424.9,172.4 424.9,171.5 425.0,170.5 425.0,169.6 425.0,168.7 425.0,167.8 425.0,166.9 425.1,166.0 425.1,165.1 425.1,164.1 425.1,163.2 425.1,162.3 425.2,161.4 425.2,160.5 425.2,159.6 425.2,158.7 425.2,157.7 425.3,156.8 425.3,155.9 425.3,155.0 425.3,155.9 425.3,156.8 425.3,157.7 425.3,158.6 425.3,159.5 425.4,160.4 425.4,161.3 425.4,162.2 425.4,163.1 425.4,164.0 425.4,164.9 425.4,165.8 425.4,166.7 425.4,167.6 425.4,168.5 425.5,169.4 425.5,170.3 425.5,171.2 425.5,172.1 425.5,173.0 425.5,174.0 425.5,174.9 425.5,175.8 425.5,176.7 425.5,177.6 425.6,178.5 425.6,179.4 425.6,180.3 425.6,181.2 425.6,182.1 425.6,183.0 425.6,183.9 425.6,184.8 425.6,185.7 425.6,186.6 425.7,187.5 425.7,188.4 425.7,189.3 425.7,190.2 425.7,191.1 425.7,192.0 425.9,193.2 426.0,194.5 426.2,195.4 426.4,196.3 426.6,197.2 426.8,198.1 427.0,199.0 427.1,199.9 427.2,200.8 427.3,201.7 427.4,202.6 427.5,203.5 427.6,204.4 427.7,205.3 427.8,206.2 427.9,207.1 428.0,208.0 428.4,208.9 428.8,207.2 429.2,211.0 429.6,212.0 429.7,213.0 429.9,214.0 430.0,215.0 431.0,215.4 432.0,215.7 433.0,216.0 433.0,215.1 433.1,214.2 433.1,213.3 433.1,212.4 433.2,211.5 433.2,210.5 433.2,209.6 433.3,208.7 433.3,207.8 433.3,206.9 433.4,206.0 433.4,205.1 433.4,204.2 433.4,203.3 433.5,202.4 433.5,201.5 433.5,200.5 433.6,199.6 433.6,198.7 433.6,197.8 433.7,196.9 433.7,196.0 433.7,196.9 433.7,197.8 433.8,198.7 433.8,199.7 433.8,200.6 433.8,201.5 433.9,202.4 433.9,203.3 433.9,204.2 433.9,205.1 433.9,206.0 434.0,207.0 434.0,207.9 434.0,208.8 434.0,209.7 434.0,210.6 434.1,211.5 434.1,212.4 434.1,213.3 434.1,214.3 434.2,215.2 434.2,216.1 434.2,217.0 435.0,218.0 435.7,217.1 436.3,216.5 437.0,216.0 437.7,215.1 438.3,212.4 439.0,214.0 439.5,213.2 440.0,212.4 440.5,212.0 441.0,211.0 441.1,210.0 441.3,209.0 441.4,208.0 441.6,207.0 441.7,206.0 441.9,205.0 442.0,204.0 442.0,204.9 442.1,205.8 442.1,206.7 442.1,207.6 442.1,208.5 442.1,209.4 442.2,210.3 442.2,211.2 442.2,212.1 442.2,213.0 442.3,213.9 442.3,214.8 442.3,215.7 442.4,216.6 442.4,217.5 442.4,218.4 442.4,219.3 442.4,220.2 442.5,221.1 442.5,222.0 442.6,221.1 442.6,220.2 442.7,219.3 442.8,218.4 442.9,217.5 442.9,216.6 443.0,215.7 443.1,214.8 443.1,213.9 443.2,213.0 443.3,212.0 443.4,211.1 443.4,210.2 443.5,209.3 443.6,208.4 443.6,207.5 443.7,206.6 443.8,205.7 443.9,204.8 443.9,203.9 444.0,203.0 444.0,203.9 444.1,204.8 444.1,205.8 444.2,206.7 444.2,207.6 444.2,208.5 444.3,209.4 444.3,210.3 444.4,211.2 444.4,212.2 444.5,213.1 444.5,214.0 444.5,214.9 444.6,215.8 444.6,216.8 444.7,217.7 444.7,218.6 444.8,219.5 444.8,220.4 444.8,221.3 444.9,222.2 444.9,223.2 445.0,224.1 445.0,225.0 445.0,224.1 445.1,223.1 445.1,222.2 445.1,221.3 445.2,220.4 445.2,219.4 445.3,218.5 445.3,217.6 445.3,216.7 445.4,215.7 445.4,214.8 445.4,213.9 445.5,213.0 445.5,212.0 445.6,211.1 445.6,210.2 445.6,209.3 445.7,208.3 445.7,207.4 445.7,206.5 445.8,205.6 445.8,204.6 445.9,203.7 445.9,202.8 445.9,201.9 446.0,200.9 446.0,200.0 446.2,199.0 446.5,198.0 446.8,197.0 447.0,196.0 447.1,195.1 447.2,194.1 447.3,193.2 447.4,192.2 447.5,191.3 447.6,190.4 447.7,189.4 447.8,188.5 447.8,187.6 447.9,186.6 448.0,185.7 448.1,184.8 448.2,183.8 448.3,182.9 448.4,181.9 448.5,181.0 448.8,182.0 449.2,183.2 449.5,184.0 449.8,183.0 450.0,182.0 450.2,181.0 450.5,180.0 450.8,179.0 451.0,178.0 451.1,178.9 451.1,179.8 451.1,180.7 451.2,181.6 451.2,182.5 451.3,183.4 451.4,184.3 451.4,185.2 451.4,186.1 451.5,187.0 452.2,187.3 453.0,188.0 453.5,189.3 454.0,190.0 454.0,189.1 454.0,188.2 454.0,187.3 454.1,186.3 454.1,185.4 454.1,184.5 454.1,183.6 454.1,182.7 454.1,181.8 454.1,180.9 454.2,179.9 454.2,179.0 454.2,178.1 454.2,177.2 454.2,176.3 454.2,175.4 454.2,174.5 454.3,173.5 454.3,172.6 454.3,171.7 454.3,170.8 454.3,169.9 454.3,169.0 454.3,168.1 454.4,167.1 454.4,166.2 454.4,165.3 454.4,164.4 454.4,163.5 454.4,162.6 454.4,161.7 454.5,160.7 454.5,159.8 454.5,158.9 454.5,158.0 454.5,158.9 454.5,159.8 454.5,160.7 454.6,161.6 454.6,162.5 454.6,163.5 454.6,164.4 454.6,165.3 454.6,166.2 454.7,167.1 454.7,168.0 454.7,168.9 454.7,169.8 454.7,170.7 454.7,171.6 454.7,172.5 454.8,173.5 454.8,174.4 454.8,175.3 454.8,176.2 454.8,177.1 454.8,178.0 454.8,178.9 454.9,179.8 454.9,180.7 454.9,181.6 454.9,182.5 454.9,183.5 454.9,184.4 455.0,185.3 455.0,186.2 455.0,187.1 455.0,188.0 455.5,188.9 456.0,187.3 456.5,191.0 456.8,192.0 457.0,193.0 457.2,194.0 457.5,195.0 457.8,196.0 458.0,197.0 458.2,198.0 458.5,199.0 458.8,200.0 459.1,201.0 459.4,202.0 459.7,203.0 460.0,204.0 460.5,204.8 461.0,205.5 461.5,206.1 462.0,207.0 462.5,207.6 463.0,208.8 463.5,209.4 464.0,210.0 464.8,209.2 465.5,209.0 466.2,207.9 467.0,207.5 467.8,206.9 468.6,206.5 469.4,205.7 470.2,205.2 471.0,204.5 471.1,205.4 471.2,206.3 471.3,207.2 471.4,208.1 471.4,209.1 471.5,210.0 471.6,210.9 471.7,211.8 471.8,212.7 471.9,213.6 472.0,214.5 472.1,215.4 472.1,216.4 472.2,217.3 472.3,218.2 472.4,219.1 472.5,220.0 472.6,219.1 472.6,218.1 472.7,217.2 472.8,216.3 472.8,215.3 472.9,214.4 473.0,213.5 473.0,212.5 473.1,211.6 473.2,210.7 473.2,209.7 473.3,208.8 473.4,207.9 473.4,206.9 473.5,206.0 473.7,205.0 473.8,204.0 474.0,203.0 474.2,202.0 474.3,201.0 474.5,200.0 474.6,199.1 474.7,198.1 474.9,197.2 475.0,196.2 475.1,195.3 475.2,194.4 475.3,193.4 475.4,192.5 475.6,191.5 475.7,190.6 475.8,189.6 475.9,188.7 476.0,187.8 476.1,186.8 476.3,185.9 476.4,184.9 476.5,184.0 476.6,184.9 476.8,185.9 476.9,186.8 477.1,187.7 477.2,188.6 477.4,189.6 477.5,190.5 478.5,190.0" fill="none" stroke="#e0781a" stroke-width="1.3" stroke-linejoin="round"/>
<path d="M40,7.35H489.4V107.6H40Z" fill="none" stroke="#3c3c3c" stroke-width="1.3"/>
<line x1="36.3" x2="40" y1="103.80" y2="103.80" stroke="#3c3c3c" stroke-width="1"/>
<text x="34.6" y="108.00" text-anchor="end" font-size="12">0</text>
<line x1="36.3" x2="40" y1="85.16" y2="85.16" stroke="#3c3c3c" stroke-width="1"/>
<text x="34.6" y="89.36" text-anchor="end" font-size="12">5</text>
<line x1="36.3" x2="40" y1="66.53" y2="66.53" stroke="#3c3c3c" stroke-width="1"/>
<text x="34.6" y="70.73" text-anchor="end" font-size="12">10</text>
<line x1="36.3" x2="40" y1="47.89" y2="47.89" stroke="#3c3c3c" stroke-width="1"/>
<text x="34.6" y="52.09" text-anchor="end" font-size="12">15</text>
<line x1="36.3" x2="40" y1="29.26" y2="29.26" stroke="#3c3c3c" stroke-width="1"/>
<text x="34.6" y="33.46" text-anchor="end" font-size="12">20</text>
<line x1="36.3" x2="40" y1="10.62" y2="10.62" stroke="#3c3c3c" stroke-width="1"/>
<text x="34.6" y="14.82" text-anchor="end" font-size="12">25</text>
<line x1="47.60" x2="47.60" y1="107.6" y2="111.6" stroke="#3c3c3c" stroke-width="1"/>
<text x="47.60" y="124.2" text-anchor="middle" font-size="12">1997</text>
<line x1="87.05" x2="87.05" y1="107.6" y2="111.6" stroke="#3c3c3c" stroke-width="1"/>
<text x="87.05" y="124.2" text-anchor="middle" font-size="12">1998</text>
<line x1="126.50" x2="126.50" y1="107.6" y2="111.6" stroke="#3c3c3c" stroke-width="1"/>
<text x="126.50" y="124.2" text-anchor="middle" font-size="12">1999</text>
<line x1="165.95" x2="165.95" y1="107.6" y2="111.6" stroke="#3c3c3c" stroke-width="1"/>
<text x="165.95" y="124.2" text-anchor="middle" font-size="12">2000</text>
<line x1="205.40" x2="205.40" y1="107.6" y2="111.6" stroke="#3c3c3c" stroke-width="1"/>
<text x="205.40" y="124.2" text-anchor="middle" font-size="12">2001</text>
<line x1="244.85" x2="244.85" y1="107.6" y2="111.6" stroke="#3c3c3c" stroke-width="1"/>
<text x="244.85" y="124.2" text-anchor="middle" font-size="12">2002</text>
<line x1="284.30" x2="284.30" y1="107.6" y2="111.6" stroke="#3c3c3c" stroke-width="1"/>
<text x="284.30" y="124.2" text-anchor="middle" font-size="12">2003</text>
<line x1="323.75" x2="323.75" y1="107.6" y2="111.6" stroke="#3c3c3c" stroke-width="1"/>
<text x="323.75" y="124.2" text-anchor="middle" font-size="12">2004</text>
<line x1="363.20" x2="363.20" y1="107.6" y2="111.6" stroke="#3c3c3c" stroke-width="1"/>
<text x="363.20" y="124.2" text-anchor="middle" font-size="12">2005</text>
<line x1="402.65" x2="402.65" y1="107.6" y2="111.6" stroke="#3c3c3c" stroke-width="1"/>
<text x="402.65" y="124.2" text-anchor="middle" font-size="12">2006</text>
<line x1="442.10" x2="442.10" y1="107.6" y2="111.6" stroke="#3c3c3c" stroke-width="1"/>
<text x="442.10" y="124.2" text-anchor="middle" font-size="12">2007</text>
<line x1="481.55" x2="481.55" y1="107.6" y2="111.6" stroke="#3c3c3c" stroke-width="1"/>
<text x="481.55" y="124.2" text-anchor="middle" font-size="12">2008</text>
<text x="45" y="22.2" font-size="12">(a)</text>
<line x1="74" x2="95.6" y1="18.5" y2="18.5" stroke="#222" stroke-width="1.1"/>
<text x="100.8" y="22.4" font-size="12">simulated</text>
<circle cx="85" cy="32.9" r="3" fill="#ff0a0a"/>
<text x="100.8" y="36.3" font-size="12">observed</text>
<text x="262.7" y="25.6" text-anchor="middle" font-size="12.2">calibration period</text>
<text x="261.9" y="40.8" text-anchor="middle" font-size="12.2">NSE=0.79</text>
<text transform="translate(16.4,57.1) rotate(-90)" text-anchor="middle" font-size="12.5">C<tspan font-size="8" dy="3">Q</tspan><tspan dy="-3">(mg L</tspan><tspan font-size="8" dy="-4.5">-1</tspan><tspan dy="4.5">)</tspan></text>
<path d="M40,134.5H146.5V234.9H40Z" fill="none" stroke="#3c3c3c" stroke-width="1.3"/>
<line x1="36.8" x2="40" y1="231.40" y2="231.40" stroke="#3c3c3c" stroke-width="1"/>
<text x="35.6" y="235.60" text-anchor="end" font-size="12">0</text>
<line x1="36.8" x2="40" y1="212.76" y2="212.76" stroke="#3c3c3c" stroke-width="1"/>
<text x="35.6" y="216.96" text-anchor="end" font-size="12">5</text>
<line x1="36.8" x2="40" y1="194.12" y2="194.12" stroke="#3c3c3c" stroke-width="1"/>
<text x="35.6" y="198.32" text-anchor="end" font-size="12">10</text>
<line x1="36.8" x2="40" y1="175.48" y2="175.48" stroke="#3c3c3c" stroke-width="1"/>
<text x="35.6" y="179.68" text-anchor="end" font-size="12">15</text>
<line x1="36.8" x2="40" y1="156.84" y2="156.84" stroke="#3c3c3c" stroke-width="1"/>
<text x="35.6" y="161.04" text-anchor="end" font-size="12">20</text>
<line x1="36.8" x2="40" y1="138.20" y2="138.20" stroke="#3c3c3c" stroke-width="1"/>
<text x="35.6" y="142.40" text-anchor="end" font-size="12">25</text>
<line x1="51.40" x2="51.40" y1="234.9" y2="238.4" stroke="#3c3c3c" stroke-width="1"/>
<text x="51.40" y="249.2" text-anchor="middle" font-size="12">2008</text>
<line x1="79.50" x2="79.50" y1="234.9" y2="238.4" stroke="#3c3c3c" stroke-width="1"/>
<text x="79.50" y="249.2" text-anchor="middle" font-size="12">2009</text>
<line x1="107.60" x2="107.60" y1="234.9" y2="238.4" stroke="#3c3c3c" stroke-width="1"/>
<text x="107.60" y="249.2" text-anchor="middle" font-size="12">2010</text>
<line x1="135.70" x2="135.70" y1="234.9" y2="238.4" stroke="#3c3c3c" stroke-width="1"/>
<text x="135.70" y="249.2" text-anchor="middle" font-size="12">2011</text>
<text x="42.3" y="147.6" font-size="12">(b</text>
<text x="53.2" y="151" font-size="8.5">1</text>
<text x="58.2" y="147.6" font-size="12">)</text>
<text x="68" y="147.6" font-size="12">WY</text>
<path d="M154.5,134.5H260.5V234.9H154.5Z" fill="none" stroke="#3c3c3c" stroke-width="1.3"/>
<line x1="151.3" x2="154.5" y1="231.40" y2="231.40" stroke="#3c3c3c" stroke-width="1"/>
<line x1="151.3" x2="154.5" y1="212.76" y2="212.76" stroke="#3c3c3c" stroke-width="1"/>
<line x1="151.3" x2="154.5" y1="194.12" y2="194.12" stroke="#3c3c3c" stroke-width="1"/>
<line x1="151.3" x2="154.5" y1="175.48" y2="175.48" stroke="#3c3c3c" stroke-width="1"/>
<line x1="151.3" x2="154.5" y1="156.84" y2="156.84" stroke="#3c3c3c" stroke-width="1"/>
<line x1="151.3" x2="154.5" y1="138.20" y2="138.20" stroke="#3c3c3c" stroke-width="1"/>
<line x1="165.90" x2="165.90" y1="234.9" y2="238.4" stroke="#3c3c3c" stroke-width="1"/>
<text x="165.90" y="249.2" text-anchor="middle" font-size="12">2008</text>
<line x1="194.00" x2="194.00" y1="234.9" y2="238.4" stroke="#3c3c3c" stroke-width="1"/>
<text x="194.00" y="249.2" text-anchor="middle" font-size="12">2009</text>
<line x1="222.10" x2="222.10" y1="234.9" y2="238.4" stroke="#3c3c3c" stroke-width="1"/>
<text x="222.10" y="249.2" text-anchor="middle" font-size="12">2010</text>
<line x1="250.20" x2="250.20" y1="234.9" y2="238.4" stroke="#3c3c3c" stroke-width="1"/>
<text x="250.20" y="249.2" text-anchor="middle" font-size="12">2011</text>
<text x="156.8" y="147.6" font-size="12">(b</text>
<text x="167.7" y="151" font-size="8.5">2</text>
<text x="172.7" y="147.6" font-size="12">)</text>
<text x="182.5" y="147.6" font-size="12">NY</text>
<path d="M268.5,134.5H374.9V234.9H268.5Z" fill="none" stroke="#3c3c3c" stroke-width="1.3"/>
<line x1="265.3" x2="268.5" y1="231.40" y2="231.40" stroke="#3c3c3c" stroke-width="1"/>
<line x1="265.3" x2="268.5" y1="212.76" y2="212.76" stroke="#3c3c3c" stroke-width="1"/>
<line x1="265.3" x2="268.5" y1="194.12" y2="194.12" stroke="#3c3c3c" stroke-width="1"/>
<line x1="265.3" x2="268.5" y1="175.48" y2="175.48" stroke="#3c3c3c" stroke-width="1"/>
<line x1="265.3" x2="268.5" y1="156.84" y2="156.84" stroke="#3c3c3c" stroke-width="1"/>
<line x1="265.3" x2="268.5" y1="138.20" y2="138.20" stroke="#3c3c3c" stroke-width="1"/>
<line x1="279.90" x2="279.90" y1="234.9" y2="238.4" stroke="#3c3c3c" stroke-width="1"/>
<text x="279.90" y="249.2" text-anchor="middle" font-size="12">2008</text>
<line x1="308.00" x2="308.00" y1="234.9" y2="238.4" stroke="#3c3c3c" stroke-width="1"/>
<text x="308.00" y="249.2" text-anchor="middle" font-size="12">2009</text>
<line x1="336.10" x2="336.10" y1="234.9" y2="238.4" stroke="#3c3c3c" stroke-width="1"/>
<text x="336.10" y="249.2" text-anchor="middle" font-size="12">2010</text>
<line x1="364.20" x2="364.20" y1="234.9" y2="238.4" stroke="#3c3c3c" stroke-width="1"/>
<text x="364.20" y="249.2" text-anchor="middle" font-size="12">2011</text>
<text x="270.8" y="147.6" font-size="12">(b</text>
<text x="281.7" y="151" font-size="8.5">3</text>
<text x="286.7" y="147.6" font-size="12">)</text>
<text x="296.5" y="147.6" font-size="12">DY</text>
<path d="M382.5,134.5H489.4V234.9H382.5Z" fill="none" stroke="#3c3c3c" stroke-width="1.3"/>
<line x1="379.3" x2="382.5" y1="231.40" y2="231.40" stroke="#3c3c3c" stroke-width="1"/>
<line x1="379.3" x2="382.5" y1="212.76" y2="212.76" stroke="#3c3c3c" stroke-width="1"/>
<line x1="379.3" x2="382.5" y1="194.12" y2="194.12" stroke="#3c3c3c" stroke-width="1"/>
<line x1="379.3" x2="382.5" y1="175.48" y2="175.48" stroke="#3c3c3c" stroke-width="1"/>
<line x1="379.3" x2="382.5" y1="156.84" y2="156.84" stroke="#3c3c3c" stroke-width="1"/>
<line x1="379.3" x2="382.5" y1="138.20" y2="138.20" stroke="#3c3c3c" stroke-width="1"/>
<line x1="393.90" x2="393.90" y1="234.9" y2="238.4" stroke="#3c3c3c" stroke-width="1"/>
<text x="393.90" y="249.2" text-anchor="middle" font-size="12">2008</text>
<line x1="422.00" x2="422.00" y1="234.9" y2="238.4" stroke="#3c3c3c" stroke-width="1"/>
<text x="422.00" y="249.2" text-anchor="middle" font-size="12">2009</text>
<line x1="450.10" x2="450.10" y1="234.9" y2="238.4" stroke="#3c3c3c" stroke-width="1"/>
<text x="450.10" y="249.2" text-anchor="middle" font-size="12">2010</text>
<line x1="478.20" x2="478.20" y1="234.9" y2="238.4" stroke="#3c3c3c" stroke-width="1"/>
<text x="478.20" y="249.2" text-anchor="middle" font-size="12">2011</text>
<text x="384.8" y="147.6" font-size="12">(b</text>
<text x="395.7" y="151" font-size="8.5">4</text>
<text x="400.7" y="147.6" font-size="12">)</text>
<text x="410.5" y="147.6" font-size="12">EDY</text>
<text transform="translate(16.4,184.2) rotate(-90)" text-anchor="middle" font-size="12.5">C<tspan font-size="8" dy="3">Q</tspan><tspan dy="-3">(mg L</tspan><tspan font-size="8" dy="-4.5">-1</tspan><tspan dy="4.5">)</tspan></text>
</svg></body></html>
